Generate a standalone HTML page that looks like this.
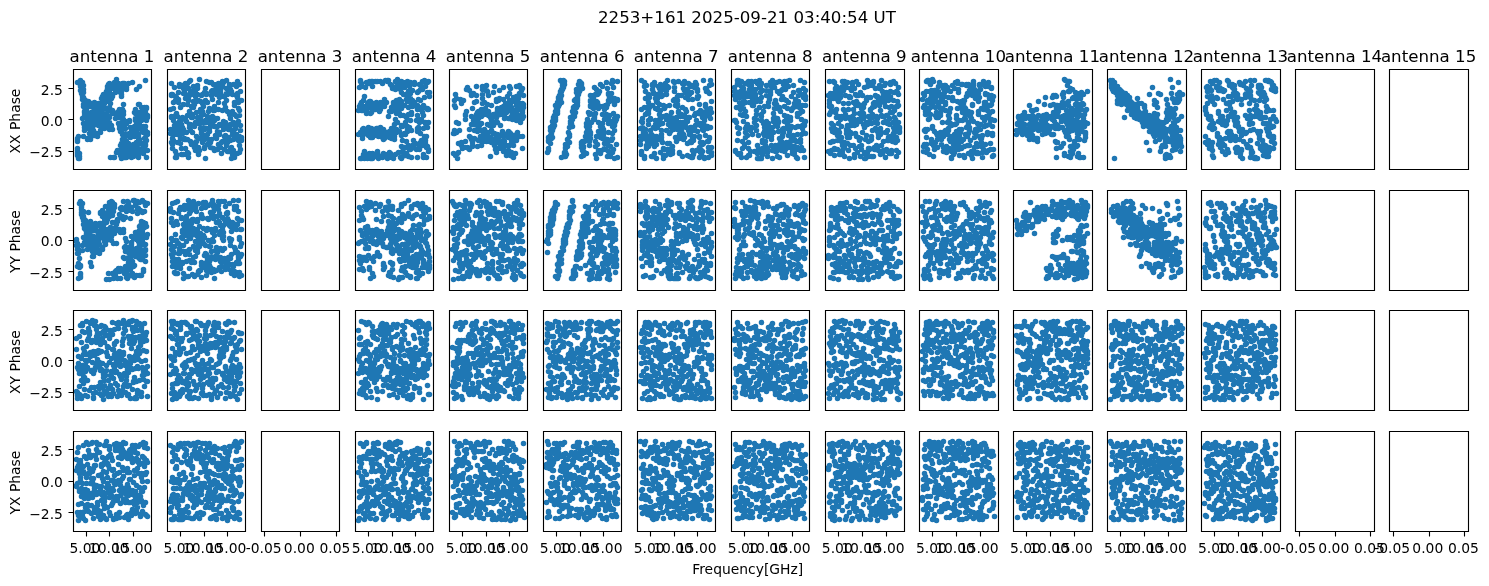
<!DOCTYPE html><html><head><meta charset="utf-8"><title>2253+161 phase</title><style>html,body{margin:0;padding:0;background:#fff}svg{display:block;will-change:transform}text{font-family:"DejaVu Sans",sans-serif;fill:#000}</style></head><body>
<svg width="1489" height="586" viewBox="0 0 1489 586">
<rect width="1489" height="586" fill="#fff"/>
<g fill="none" stroke="#1f77b4" stroke-linecap="round" stroke-width="5.555">
<path transform="translate(77.5 79.5)" d="M31 5h0M38 5h0M40 5h0M39 0h0M46 4h0M46 6h0M41 4h0M45 4h0M48 6h0M51 4h0M47 4h0M55 3h0M68 1h0M30 7h0M30 11h0M33 6h0M30 9h0M30 9h0M30 10h0M32 10h0M32 8h0M35 7h0M39 9h0M46 9h0M44 8h0M45 7h0M43 11h0M44 7h0M49 8h0M49 10h0M47 9h0M59 10h0M62 7h0M25 17h0M34 15h0M30 17h0M30 15h0M31 16h0M31 15h0M35 17h0M38 13h0M44 17h0M43 13h0M44 12h0M44 15h0M26 23h0M26 19h0M26 21h0M27 21h0M24 19h0M28 18h0M31 20h0M34 19h0M14 24h0M13 25h0M16 28h0M13 27h0M18 27h0M19 27h0M21 24h0M17 23h0M26 23h0M27 24h0M25 25h0M23 25h0M32 28h0M33 24h0M46 25h0M61 25h0M62 25h0M64 28h0M67 28h0M69 28h0M9 29h0M15 33h0M14 33h0M13 34h0M17 31h0M20 30h0M21 34h0M20 31h0M24 33h0M25 34h0M31 31h0M33 31h0M29 29h0M29 34h0M30 30h0M32 30h0M30 29h0M35 34h0M40 33h0M35 31h0M42 30h0M45 30h0M41 32h0M45 32h0M46 32h0M57 33h0M63 33h0M61 33h0M58 30h0M69 29h0M65 34h0M68 33h0M66 29h0M10 36h0M5 39h0M13 38h0M12 38h0M14 39h0M16 37h0M14 40h0M13 39h0M13 35h0M11 37h0M19 34h0M20 37h0M20 38h0M22 35h0M17 35h0M25 36h0M24 35h0M25 35h0M28 38h0M30 36h0M29 38h0M32 38h0M38 39h0M39 37h0M44 35h0M44 37h0M41 38h0M40 35h0M41 38h0M46 35h0M45 39h0M43 35h0M64 38h0M61 37h0M58 39h0M61 38h0M60 35h0M60 38h0M58 34h0M61 36h0M64 35h0M70 36h0M70 38h0M67 37h0M65 34h0M70 37h0M69 36h0M6 44h0M6 44h0M7 44h0M12 45h0M12 42h0M18 44h0M18 43h0M18 45h0M18 42h0M22 41h0M22 44h0M22 40h0M23 40h0M27 40h0M23 45h0M26 44h0M24 44h0M32 43h0M31 43h0M32 44h0M43 45h0M44 43h0M41 44h0M46 40h0M45 43h0M52 42h0M48 42h0M48 42h0M52 41h0M49 44h0M58 41h0M62 45h0M59 42h0M59 44h0M64 41h0M69 41h0M9 47h0M7 51h0M7 48h0M16 46h0M13 50h0M16 51h0M14 49h0M21 46h0M24 49h0M27 49h0M23 51h0M25 47h0M27 46h0M24 46h0M29 46h0M32 50h0M34 46h0M34 49h0M35 50h0M42 49h0M42 46h0M42 49h0M44 51h0M47 48h0M47 48h0M47 46h0M48 49h0M47 48h0M54 50h0M57 49h0M57 47h0M53 48h0M59 48h0M60 48h0M64 47h0M63 49h0M60 48h0M63 47h0M60 50h0M63 48h0M66 47h0M68 47h0M65 51h0M64 47h0M68 51h0M15 56h0M19 54h0M20 57h0M18 56h0M17 56h0M18 54h0M23 53h0M43 52h0M46 55h0M45 55h0M48 54h0M47 56h0M52 54h0M50 56h0M56 55h0M58 55h0M57 54h0M57 54h0M59 54h0M60 55h0M58 54h0M60 55h0M61 57h0M60 56h0M61 55h0M60 54h0M70 55h0M70 53h0M66 53h0M66 51h0M10 60h0M6 57h0M10 59h0M13 60h0M46 58h0M45 60h0M48 61h0M49 62h0M53 58h0M57 57h0M61 61h0M61 61h0M62 60h0M69 61h0M68 60h0M68 62h0M68 58h0M67 59h0M46 67h0M46 63h0M44 66h0M44 64h0M43 66h0M49 65h0M52 66h0M51 66h0M51 64h0M52 67h0M47 65h0M52 68h0M53 66h0M55 67h0M56 65h0M60 65h0M59 63h0M61 63h0M64 64h0M68 66h0M68 65h0M40 71h0M39 73h0M42 71h0M42 73h0M44 71h0M42 73h0M45 70h0M47 72h0M48 70h0M51 69h0M51 73h0M51 69h0M54 71h0M58 69h0M57 71h0M57 73h0M59 69h0M64 69h0M62 71h0M61 71h0M62 73h0M66 69h0M67 71h0M70 71h0M44 79h0M45 76h0M43 76h0M47 76h0M47 74h0M49 78h0M52 75h0M47 78h0M56 76h0M54 78h0M56 77h0M56 77h0M58 76h0M60 75h0M61 78h0M61 76h0M66 74h0M69 78h0M2 74h0M0 3h0M1 79h0M3 1h0M1 77h0M3 2h0M3 3h0M2 77h0M2 79h0M2 3h0M3 6h0M3 2h0M3 5h0M2 3h0M3 7h0M4 9h0M3 11h0M5 3h0M4 5h0M3 5h0M6 13h0M6 6h0M5 7h0M4 10h0M6 10h0M5 16h0M6 20h0M6 18h0M5 14h0M4 14h0M5 17h0M6 21h0M6 19h0M7 20h0M5 20h0M7 21h0M6 18h0M6 20h0M11 22h0M8 21h0M8 23h0M6 25h0M7 25h0M8 25h0M7 27h0M8 28h0M7 28h0M9 29h0M8 27h0M8 33h0M7 32h0M8 35h0M8 31h0M6 27h0M7 33h0M9 31h0M8 33h0M9 32h0M9 33h0M8 31h0M9 30h0M10 35h0M9 29h0M9 36h0M10 36h0M7 36h0M10 40h0M11 36h0M11 38h0M11 37h0M12 36h0M11 36h0M11 42h0M12 42h0M13 42h0M10 37h0M11 43h0M12 44h0M10 39h0M12 40h0M11 41h0M11 41h0M12 48h0M14 44h0M13 42h0M13 44h0M11 40h0M13 44h0M13 49h0M11 49h0M14 48h0M13 51h0M13 49h0M13 48h0M13 48h0M13 48h0M13 51h0M13 53h0M12 54h0M14 48h0M12 40h0M13 55h0M14 51h0M16 53h0M15 50h0M14 54h0M16 43h0M17 45h0M16 46h0M18 44h0M17 40h0M17 41h0M18 40h0M19 40h0M18 37h0M20 36h0M21 42h0M21 34h0M21 43h0M22 34h0M22 33h0M22 29h0M23 31h0M22 32h0M24 29h0M25 30h0M26 22h0M25 27h0M25 22h0M27 23h0M27 20h0M26 15h0M27 20h0M28 18h0M29 22h0M29 12h0M29 20h0M30 16h0M30 19h0M31 11h0M29 15h0M32 12h0M32 4h0M34 8h0M34 9h0M33 7h0M33 78h0M34 7h0M36 8h0M35 6h0M36 78h0M37 3h0M37 3h0M37 78h0M37 6h0M0 76h0M1 76h0M0 75h0M0 74h0M0 73h0M0 73h0M0 71h0M0 69h0M0 62h0M0 61h0M0 60h0M0 59h0M0 59h0M1 57h0"/>
<path transform="translate(170.5 79.5)" d="M0 30h0M0 54h0M0 50h0M1 15h0M1 37h0M1 38h0M1 4h0M1 16h0M1 63h0M2 59h0M2 15h0M2 65h0M2 69h0M3 62h0M3 61h0M3 29h0M3 41h0M3 23h0M4 8h0M4 55h0M4 46h0M4 52h0M4 48h0M5 36h0M5 72h0M5 21h0M5 17h0M5 78h0M6 77h0M6 78h0M6 75h0M6 52h0M6 34h0M6 18h0M7 37h0M7 55h0M7 44h0M7 63h0M8 49h0M8 50h0M8 13h0M8 63h0M8 23h0M8 20h0M9 42h0M9 5h0M9 7h0M9 54h0M10 64h0M10 45h0M10 28h0M10 64h0M10 59h0M10 42h0M11 75h0M11 40h0M11 69h0M11 45h0M12 38h0M12 54h0M12 50h0M12 48h0M12 6h0M13 14h0M13 25h0M13 9h0M13 75h0M13 50h0M14 59h0M14 11h0M14 13h0M14 60h0M14 8h0M15 15h0M15 19h0M15 69h0M15 4h0M15 40h0M16 60h0M16 53h0M16 75h0M16 42h0M16 6h0M17 25h0M17 36h0M17 60h0M17 4h0M17 73h0M18 9h0M18 78h0M18 20h0M18 74h0M18 21h0M19 2h0M19 16h0M19 48h0M19 32h0M19 45h0M20 62h0M20 13h0M20 1h0M20 51h0M20 45h0M21 38h0M21 63h0M21 65h0M21 27h0M21 64h0M22 53h0M22 38h0M22 35h0M22 14h0M23 7h0M23 11h0M23 13h0M23 15h0M23 22h0M23 28h0M24 68h0M24 25h0M24 12h0M24 47h0M25 64h0M25 11h0M25 21h0M25 43h0M25 71h0M25 17h0M26 57h0M26 33h0M26 62h0M26 22h0M27 38h0M27 6h0M27 15h0M27 9h0M27 71h0M28 75h0M28 41h0M28 68h0M28 71h0M28 41h0M28 21h0M28 44h0M29 71h0M29 44h0M29 59h0M29 0h0M30 22h0M30 40h0M30 49h0M30 30h0M31 34h0M31 16h0M31 36h0M31 59h0M31 53h0M31 54h0M32 15h0M32 24h0M32 56h0M32 63h0M32 32h0M33 35h0M33 27h0M33 43h0M33 48h0M34 56h0M34 50h0M34 68h0M34 69h0M34 60h0M34 13h0M35 79h0M35 41h0M35 9h0M35 21h0M36 15h0M36 49h0M36 2h0M36 43h0M36 14h0M37 65h0M37 55h0M37 23h0M37 41h0M37 37h0M37 55h0M38 60h0M38 40h0M38 50h0M38 49h0M38 32h0M39 52h0M39 29h0M39 49h0M39 3h0M40 45h0M40 63h0M40 68h0M40 42h0M40 47h0M41 12h0M41 3h0M41 44h0M41 16h0M41 60h0M42 20h0M42 37h0M42 38h0M42 11h0M42 44h0M43 46h0M43 5h0M43 14h0M43 31h0M43 69h0M44 41h0M44 47h0M44 71h0M44 27h0M44 31h0M45 56h0M45 39h0M45 58h0M45 47h0M45 10h0M46 70h0M46 5h0M46 15h0M46 12h0M46 59h0M47 54h0M47 52h0M47 47h0M47 39h0M47 70h0M47 15h0M48 23h0M48 65h0M48 4h0M48 6h0M48 30h0M49 55h0M49 18h0M49 45h0M49 53h0M50 11h0M50 9h0M50 13h0M50 68h0M50 17h0M51 8h0M51 16h0M51 74h0M51 63h0M51 46h0M52 62h0M52 31h0M52 2h0M52 62h0M52 6h0M53 47h0M53 42h0M53 50h0M53 3h0M53 17h0M54 57h0M54 24h0M54 17h0M54 70h0M54 48h0M55 43h0M55 56h0M55 62h0M55 28h0M56 66h0M56 21h0M56 9h0M56 14h0M56 59h0M56 1h0M57 63h0M57 32h0M57 47h0M57 15h0M57 72h0M58 58h0M58 50h0M58 12h0M58 72h0M58 46h0M59 35h0M59 8h0M59 48h0M59 5h0M60 45h0M60 39h0M60 70h0M60 50h0M60 61h0M60 10h0M61 68h0M61 12h0M61 79h0M61 70h0M62 75h0M62 52h0M62 15h0M62 55h0M62 32h0M63 43h0M63 45h0M63 5h0M63 60h0M63 71h0M64 44h0M64 35h0M64 26h0M64 23h0M64 54h0M64 78h0M65 58h0M65 23h0M65 49h0M65 47h0M66 45h0M66 7h0M66 55h0M66 37h0M66 16h0M67 18h0M67 59h0M67 74h0M67 2h0M67 16h0M67 14h0M68 23h0M68 61h0M68 29h0M68 42h0M69 36h0M69 57h0M69 73h0M69 5h0M69 31h0M69 66h0M70 51h0M70 46h0M70 12h0M70 70h0M71 60h0M71 58h0M71 61h0M71 21h0"/>
<path transform="translate(358.5 79.5)" d="M7 29h0M9 27h0M18 76h0M24 25h0M28 23h0M27 1h0M13 4h0M22 52h0M36 45h0M26 55h0M8 34h0M5 21h0M26 76h0M32 5h0M14 58h0M4 31h0M20 29h0M19 49h0M31 57h0M4 29h0M36 57h0M26 26h0M3 54h0M31 52h0M18 23h0M26 20h0M19 2h0M5 52h0M33 59h0M6 72h0M13 2h0M19 2h0M14 2h0M21 53h0M34 51h0M5 29h0M22 27h0M7 28h0M26 59h0M24 4h0M11 28h0M11 74h0M12 79h0M22 51h0M7 54h0M36 26h0M17 2h0M2 27h0M28 76h0M35 79h0M35 50h0M9 25h0M8 29h0M24 58h0M36 55h0M2 2h0M36 27h0M1 27h0M36 31h0M13 33h0M15 52h0M24 76h0M19 76h0M20 49h0M6 30h0M13 56h0M22 30h0M30 1h0M5 75h0M15 76h0M12 34h0M13 78h0M1 8h0M22 23h0M13 25h0M3 23h0M6 17h0M12 58h0M17 30h0M29 79h0M27 75h0M2 1h0M0 55h0M33 78h0M6 28h0M28 54h0M21 32h0M28 77h0M7 8h0M19 72h0M25 50h0M27 56h0M31 32h0M33 49h0M34 9h0M5 28h0M10 50h0M10 24h0M17 24h0M32 77h0M36 50h0M12 22h0M30 54h0M33 77h0M18 53h0M3 26h0M25 60h0M22 2h0M13 54h0M33 32h0M20 79h0M2 25h0M35 23h0M32 74h0M3 7h0M15 29h0M9 54h0M12 27h0M14 74h0M5 76h0M32 57h0M25 55h0M10 56h0M13 28h0M8 30h0M10 48h0M14 7h0M7 53h0M10 23h0M15 26h0M9 4h0M17 77h0M33 28h0M9 79h0M35 53h0M8 76h0M11 4h0M17 28h0M30 1h0M31 58h0M28 53h0M5 55h0M8 53h0M8 3h0M14 50h0M0 31h0M14 54h0M17 26h0M6 79h0M16 54h0M27 57h0M25 74h0M22 48h0M33 54h0M2 53h0M23 24h0M18 49h0M35 25h0M17 2h0M29 2h0M15 24h0M11 22h0M22 53h0M4 50h0M19 74h0M33 6h0M36 60h0M7 78h0M3 79h0M18 24h0M24 52h0M31 73h0M19 73h0M16 30h0M5 49h0M2 79h0M32 54h0M29 54h0M29 1h0M14 79h0M26 27h0M12 27h0M30 37h0M5 27h0M24 53h0M13 49h0M10 55h0M4 59h0M20 57h0M11 2h0M3 31h0M18 56h0M4 31h0M19 75h0M17 51h0M26 52h0M3 4h0M24 78h0M27 55h0M12 25h0M67 7h0M38 7h0M50 14h0M54 21h0M38 26h0M51 70h0M47 43h0M62 63h0M70 43h0M50 22h0M43 46h0M68 57h0M49 50h0M41 20h0M55 4h0M51 48h0M49 47h0M37 75h0M65 49h0M43 47h0M49 40h0M49 14h0M55 61h0M61 43h0M64 66h0M71 17h0M40 21h0M58 41h0M43 22h0M38 34h0M66 28h0M45 4h0M56 4h0M40 73h0M49 52h0M38 30h0M62 10h0M56 3h0M40 3h0M67 43h0M59 30h0M65 36h0M69 67h0M59 29h0M37 26h0M63 42h0M65 75h0M69 29h0M66 57h0M58 70h0M69 48h0M59 13h0M60 20h0M46 54h0M59 49h0M69 13h0M41 26h0M64 10h0M65 49h0M46 68h0M42 27h0M59 26h0M38 50h0M65 78h0M65 2h0M56 23h0M45 3h0M50 35h0M65 26h0M57 69h0M71 13h0M43 2h0M70 30h0M39 52h0M61 70h0M43 27h0M65 77h0M48 16h0M63 7h0M59 78h0M50 66h0M69 30h0M48 38h0M42 78h0M70 70h0M53 33h0M64 33h0M38 53h0M48 74h0M62 21h0M42 6h0M38 21h0M52 14h0M60 48h0M61 67h0M39 22h0M45 15h0M61 40h0M46 26h0M45 36h0M69 3h0M50 13h0M59 52h0M61 5h0M39 8h0M69 48h0M47 55h0M64 2h0M68 68h0M53 35h0M43 29h0M44 77h0M37 10h0M63 28h0M53 25h0M53 78h0M64 8h0M37 31h0M37 2h0M67 44h0M53 51h0M44 72h0M70 2h0M37 40h0M59 36h0M42 10h0M66 1h0M47 68h0M48 20h0M44 47h0M41 34h0M62 30h0M67 64h0M40 30h0M63 40h0M41 52h0M42 36h0M66 18h0M51 7h0M60 12h0M57 64h0M45 73h0M60 50h0M61 68h0M49 22h0M43 67h0M50 28h0M66 59h0M43 56h0M63 61h0M52 3h0M50 12h0M51 49h0M54 11h0M67 61h0M47 76h0M43 79h0M68 78h0M56 5h0M39 43h0M38 9h0M54 27h0M70 72h0M52 19h0M39 21h0M47 5h0M43 13h0M48 62h0M44 4h0M39 0h0M46 8h0M52 70h0M49 2h0M50 21h0M50 77h0M44 61h0M62 54h0M54 66h0M52 41h0M49 76h0"/>
<path transform="translate(453.5 85.5)" d="M14 2h0M13 4h0M16 5h0M23 1h0M29 4h0M29 1h0M33 5h0M33 0h0M31 1h0M41 1h0M46 5h0M50 2h0M56 1h0M57 3h0M63 1h0M66 0h0M67 2h0M68 5h0M69 3h0M2 9h0M18 10h0M18 8h0M20 8h0M23 10h0M20 9h0M34 6h0M29 9h0M35 10h0M40 7h0M56 8h0M63 11h0M66 8h0M67 8h0M65 11h0M70 10h0M1 15h0M3 13h0M10 15h0M7 14h0M9 15h0M23 16h0M29 13h0M45 15h0M43 14h0M43 16h0M46 13h0M50 14h0M54 11h0M56 15h0M60 12h0M60 15h0M62 12h0M61 16h0M64 15h0M62 13h0M65 13h0M65 11h0M1 20h0M2 22h0M8 18h0M21 17h0M31 17h0M29 18h0M34 19h0M38 20h0M52 22h0M51 22h0M48 22h0M52 18h0M50 21h0M55 20h0M54 19h0M57 18h0M55 22h0M53 19h0M58 22h0M63 20h0M64 22h0M64 22h0M65 21h0M70 22h0M69 18h0M66 18h0M70 19h0M69 20h0M13 26h0M19 23h0M25 26h0M27 28h0M24 27h0M28 24h0M29 26h0M34 26h0M32 23h0M30 26h0M35 26h0M44 23h0M44 25h0M48 26h0M52 27h0M57 25h0M53 27h0M58 26h0M56 25h0M62 25h0M61 28h0M63 27h0M61 26h0M65 24h0M67 23h0M69 25h0M69 27h0M12 30h0M12 29h0M20 33h0M22 33h0M18 31h0M22 32h0M25 29h0M25 31h0M23 29h0M25 33h0M28 31h0M34 28h0M31 29h0M36 29h0M40 29h0M37 32h0M38 30h0M36 29h0M38 34h0M35 30h0M45 29h0M43 28h0M44 30h0M43 32h0M42 30h0M47 29h0M51 33h0M51 30h0M50 29h0M55 33h0M58 31h0M56 33h0M60 28h0M61 29h0M59 30h0M64 33h0M60 30h0M66 30h0M69 33h0M65 31h0M69 31h0M70 31h0M3 37h0M5 38h0M12 34h0M21 37h0M22 38h0M18 39h0M21 35h0M19 39h0M22 39h0M20 35h0M21 39h0M28 38h0M24 35h0M25 39h0M34 39h0M38 35h0M39 39h0M44 37h0M42 37h0M43 36h0M63 35h0M59 34h0M64 34h0M67 37h0M67 36h0M6 45h0M16 44h0M24 44h0M28 45h0M26 40h0M31 44h0M37 40h0M40 40h0M36 40h0M47 40h0M1 48h0M1 45h0M3 47h0M0 48h0M21 45h0M24 46h0M34 48h0M29 50h0M32 51h0M34 47h0M32 46h0M33 47h0M38 45h0M39 47h0M41 48h0M45 50h0M41 48h0M44 49h0M49 47h0M49 48h0M49 49h0M49 46h0M56 47h0M56 48h0M57 48h0M55 46h0M54 48h0M54 50h0M63 49h0M64 47h0M64 47h0M60 50h0M61 50h0M12 56h0M16 51h0M18 54h0M20 54h0M21 53h0M17 52h0M26 55h0M27 52h0M25 55h0M27 51h0M26 54h0M33 54h0M30 53h0M30 56h0M31 51h0M32 53h0M33 56h0M34 51h0M29 54h0M34 51h0M37 55h0M39 55h0M37 52h0M35 55h0M35 55h0M36 56h0M35 53h0M44 54h0M44 54h0M43 56h0M45 52h0M43 53h0M46 56h0M41 53h0M43 52h0M50 51h0M51 56h0M50 55h0M54 51h0M58 53h0M55 52h0M58 55h0M61 52h0M60 56h0M58 52h0M63 55h0M60 56h0M62 53h0M64 51h0M61 54h0M69 51h0M66 51h0M8 60h0M8 57h0M5 58h0M19 61h0M19 60h0M19 57h0M24 61h0M28 60h0M38 57h0M41 60h0M41 58h0M46 58h0M51 59h0M50 61h0M51 60h0M47 58h0M58 59h0M58 57h0M58 58h0M56 60h0M53 60h0M60 60h0M59 59h0M60 60h0M59 59h0M5 67h0M11 62h0M9 63h0M16 64h0M14 62h0M15 63h0M42 64h0M43 67h0M45 63h0M48 63h0M52 66h0M50 66h0M50 62h0M58 67h0M55 65h0M69 63h0M4 73h0M0 68h0M4 68h0M2 70h0M37 71h0M53 70h0M57 70h0M56 68h0M60 72h0M62 68h0M59 71h0"/>
<path transform="translate(547.5 80.5)" d="M5 50h0M65 72h0M20 66h0M45 19h0M59 2h0M69 64h0M11 23h0M34 62h0M50 23h0M23 37h0M66 69h0M11 23h0M47 7h0M34 4h0M31 14h0M67 38h0M52 11h0M11 18h0M55 26h0M58 36h0M36 67h0M1 70h0M60 8h0M56 51h0M3 55h0M61 65h0M42 56h0M30 25h0M63 66h0M14 15h0M66 41h0M33 7h0M39 73h0M26 28h0M36 72h0M55 34h0M5 48h0M30 17h0M51 51h0M58 25h0M9 28h0M7 41h0M27 26h0M22 56h0M59 38h0M26 34h0M20 63h0M14 11h0M13 18h0M47 36h0M30 22h0M8 39h0M33 9h0M4 53h0M2 60h0M32 5h0M30 18h0M43 54h0M14 1h0M66 7h0M69 39h0M68 41h0M19 74h0M10 27h0M40 55h0M37 72h0M65 41h0M42 34h0M18 73h0M39 46h0M30 16h0M41 49h0M48 74h0M13 16h0M27 34h0M43 26h0M0 72h0M3 47h0M6 39h0M64 13h0M57 58h0M11 22h0M43 21h0M34 3h0M13 11h0M8 34h0M29 12h0M62 15h0M47 39h0M3 55h0M37 73h0M59 59h0M49 9h0M32 11h0M14 22h0M23 43h0M11 26h0M10 33h0M46 39h0M62 21h0M26 30h0M65 58h0M3 55h0M6 37h0M18 67h0M48 61h0M9 30h0M65 19h0M3 56h0M57 29h0M30 10h0M31 14h0M10 22h0M24 39h0M49 56h0M57 63h0M4 52h0M7 45h0M70 1h0M43 15h0M46 28h0M59 34h0M40 52h0M56 49h0M49 21h0M51 42h0M10 30h0M17 75h0M48 33h0M30 20h0M13 12h0M36 71h0M64 3h0M35 8h0M55 58h0M70 20h0M4 55h0M53 4h0M46 17h0M27 20h0M42 65h0M63 15h0M64 60h0M7 38h0M58 36h0M18 64h0M65 0h0M60 63h0M15 5h0M35 68h0M25 39h0M42 50h0M44 42h0M10 27h0M67 45h0M45 26h0M18 76h0M27 33h0M41 32h0M34 8h0M37 61h0M61 71h0M67 22h0M26 28h0M7 35h0M8 40h0M11 25h0M24 43h0M27 29h0M41 42h0M28 19h0M45 27h0M18 68h0M10 25h0M1 61h0M61 20h0M38 60h0M6 41h0M42 46h0M61 13h0M13 14h0M69 37h0M43 58h0M32 3h0M25 46h0M5 57h0M29 22h0M56 54h0M67 50h0M22 56h0M61 39h0M1 61h0M12 15h0M52 55h0M62 35h0M17 73h0M65 46h0M26 29h0M38 56h0M33 6h0M34 6h0M5 45h0M65 2h0M1 68h0M18 72h0M28 32h0M1 57h0M33 9h0M70 19h0M17 1h0M51 13h0M48 66h0M46 34h0M34 76h0M53 51h0M24 39h0M29 19h0M70 77h0M30 19h0M43 20h0M57 68h0M39 59h0M29 9h0M17 4h0M39 46h0M51 70h0M31 10h0M26 27h0M43 20h0M6 39h0M6 47h0M13 19h0M67 78h0M51 25h0M31 4h0M65 53h0M15 9h0M1 60h0M55 47h0M34 64h0M39 52h0M16 7h0M70 36h0M36 75h0M66 33h0M42 33h0M23 46h0M36 66h0M10 28h0M50 12h0M8 37h0M60 76h0M13 0h0M26 29h0M55 50h0M55 6h0M50 14h0M9 33h0M22 54h0M10 30h0M26 28h0M67 18h0M7 45h0M42 61h0M55 43h0M30 18h0M67 44h0M34 3h0M63 76h0M36 66h0M60 59h0M57 39h0M3 50h0M32 1h0M41 46h0M69 39h0M4 58h0M46 15h0M39 43h0M10 31h0M12 21h0M21 61h0M5 41h0M17 75h0M40 39h0M8 25h0M59 36h0M4 47h0M39 60h0M39 52h0M21 52h0M28 27h0M40 52h0M14 77h0M53 72h0M61 52h0M3 63h0M35 70h0M28 32h0M53 73h0M49 78h0M43 25h0M23 41h0M60 24h0M34 67h0M57 35h0M50 22h0M20 59h0M43 33h0M27 34h0M29 27h0M8 31h0M67 24h0M5 48h0M32 11h0M17 72h0M17 76h0M8 40h0M30 25h0M58 69h0M6 38h0M26 30h0M14 15h0M12 16h0M31 9h0M48 14h0M62 17h0M61 43h0M54 70h0M27 36h0M53 46h0M33 2h0M14 9h0M64 43h0M59 27h0M40 57h0M49 22h0M35 61h0M25 31h0M22 47h0M53 57h0M47 37h0M16 0h0M43 52h0M23 37h0M50 64h0M22 62h0M25 37h0M11 17h0M34 4h0M51 28h0M12 24h0M52 54h0M40 50h0M39 58h0M47 22h0M4 58h0M47 26h0M26 34h0M61 14h0"/>
<path transform="translate(640.5 80.5)" d="M0 64h0M0 60h0M0 56h0M1 0h0M1 74h0M1 71h0M3 52h0M3 48h0M2 42h0M4 6h0M4 2h0M4 76h0M5 58h0M5 53h0M5 49h0M6 65h0M7 61h0M7 56h0M8 22h0M8 18h0M8 14h0M8 33h0M8 30h0M8 26h0M10 63h0M10 59h0M10 55h0M11 63h0M11 58h0M11 54h0M13 13h0M12 9h0M13 5h0M14 66h0M14 61h0M14 56h0M15 48h0M15 44h0M15 40h0M16 64h0M17 59h0M16 56h0M17 22h0M17 18h0M17 14h0M19 42h0M19 39h0M19 34h0M20 38h0M20 36h0M20 30h0M21 60h0M21 57h0M21 54h0M22 15h0M22 9h0M22 6h0M23 78h0M23 75h0M24 69h0M25 10h0M25 6h0M25 3h0M26 14h0M26 10h0M26 6h0M28 73h0M27 69h0M27 63h0M28 44h0M28 40h0M28 36h0M30 46h0M30 41h0M30 38h0M31 44h0M31 41h0M31 37h0M32 73h0M32 70h0M32 66h0M33 49h0M33 45h0M33 41h0M34 11h0M34 7h0M34 2h0M36 46h0M36 41h0M36 37h0M37 24h0M37 20h0M37 16h0M38 31h0M38 32h0M38 1h0M39 58h0M39 54h0M39 72h0M41 34h0M41 50h0M40 48h0M42 53h0M42 47h0M42 27h0M43 54h0M43 36h0M43 59h0M44 10h0M44 57h0M44 1h0M45 12h0M46 31h0M46 9h0M47 63h0M47 63h0M47 41h0M48 3h0M48 37h0M48 50h0M49 37h0M49 4h0M49 14h0M50 61h0M51 62h0M51 12h0M52 28h0M52 19h0M52 70h0M53 5h0M53 48h0M53 60h0M54 35h0M54 49h0M54 56h0M56 4h0M55 3h0M55 2h0M57 11h0M57 51h0M57 16h0M58 16h0M58 33h0M58 43h0M59 77h0M59 56h0M59 24h0M60 69h0M60 62h0M60 45h0M62 71h0M61 34h0M62 64h0M63 0h0M62 49h0M63 36h0M64 77h0M64 45h0M64 78h0M65 8h0M65 36h0M65 24h0M67 46h0M66 11h0M67 30h0M68 61h0M68 29h0M68 71h0M69 58h0M69 13h0M69 57h0M70 47h0M70 38h0M70 31h0M71 4h0M71 21h0M71 72h0M0 48h0M1 72h0M1 41h0M1 29h0M2 38h0M2 47h0M3 54h0M3 52h0M3 58h0M4 78h0M4 27h0M5 11h0M5 18h0M5 34h0M6 5h0M6 68h0M6 66h0M7 32h0M8 66h0M8 40h0M8 44h0M9 58h0M9 27h0M9 17h0M10 50h0M10 39h0M10 38h0M11 76h0M12 4h0M12 5h0M12 25h0M13 47h0M13 12h0M13 76h0M14 2h0M14 73h0M15 18h0M15 60h0M15 28h0M16 21h0M16 78h0M17 47h0M17 29h0M17 28h0M18 6h0M18 41h0M19 8h0M19 44h0M19 24h0M20 72h0M20 11h0M20 4h0M21 50h0M21 16h0M22 62h0M22 43h0M23 68h0M23 36h0M23 25h0M24 75h0M24 28h0M25 75h0M25 26h0M26 39h0M26 50h0M26 35h0M27 6h0M27 0h0M27 7h0M28 70h0M28 7h0M29 63h0M29 25h0M29 53h0M30 51h0M30 74h0M31 32h0M31 68h0M31 41h0M32 40h0M32 38h0M33 1h0M33 40h0M33 20h0M34 44h0M34 19h0M35 25h0M35 42h0M35 57h0M36 61h0M36 38h0M37 49h0M37 26h0M37 43h0M38 15h0M38 49h0M39 73h0M39 49h0M40 36h0M40 42h0M41 49h0M41 47h0M41 15h0M42 3h0M42 76h0M42 42h0M43 56h0M43 8h0M44 3h0M44 3h0M44 35h0M45 29h0M45 17h0M45 43h0M46 39h0M46 47h0M47 9h0M47 75h0M48 13h0M48 19h0M49 62h0M49 54h0M49 76h0M50 6h0M50 52h0M50 47h0M51 77h0M51 47h0M52 58h0M52 77h0M52 49h0M53 74h0M53 50h0M54 71h0M54 7h0M55 33h0M55 45h0M55 33h0M56 8h0M56 70h0M56 40h0M57 18h0M57 9h0M58 44h0M58 32h0M59 24h0M59 67h0M59 57h0M60 43h0M60 30h0M60 72h0M61 75h0M61 70h0M62 37h0M62 62h0M63 63h0M63 50h0M63 44h0M64 40h0M64 34h0M65 55h0M65 26h0M65 31h0M66 9h0M66 9h0M67 61h0M67 48h0M67 11h0M68 77h0M68 67h0M69 34h0M69 5h0M69 31h0M70 28h0M70 0h0M71 75h0M71 67h0M71 32h0"/>
<path transform="translate(734.5 80.5)" d="M0 15h0M0 11h0M0 7h0M1 19h0M1 14h0M1 11h0M3 3h0M3 0h0M3 73h0M4 4h0M4 0h0M4 74h0M5 22h0M5 17h0M5 12h0M6 34h0M6 29h0M6 25h0M7 6h0M7 1h0M7 77h0M9 28h0M9 23h0M9 21h0M10 17h0M10 12h0M9 8h0M11 57h0M11 52h0M11 48h0M13 55h0M12 49h0M12 46h0M14 4h0M14 1h0M14 75h0M15 12h0M15 9h0M15 4h0M16 16h0M16 11h0M16 8h0M18 25h0M18 22h0M18 18h0M19 23h0M19 19h0M19 14h0M20 47h0M20 42h0M20 38h0M21 18h0M21 14h0M21 9h0M22 39h0M22 34h0M22 30h0M23 3h0M23 78h0M23 73h0M25 7h0M25 4h0M25 78h0M26 12h0M26 6h0M26 3h0M27 40h0M27 36h0M27 34h0M28 68h0M28 62h0M28 60h0M30 55h0M30 51h0M30 47h0M31 70h0M31 65h0M31 61h0M32 15h0M32 10h0M32 5h0M33 76h0M33 72h0M33 68h0M34 26h0M34 22h0M35 18h0M36 14h0M36 10h0M36 5h0M37 65h0M37 59h0M37 56h0M38 5h0M38 47h0M38 0h0M39 70h0M40 28h0M40 23h0M41 20h0M41 71h0M41 28h0M41 65h0M42 68h0M42 2h0M43 46h0M43 11h0M43 76h0M44 51h0M45 58h0M45 1h0M45 29h0M45 64h0M45 77h0M47 19h0M47 10h0M47 61h0M48 9h0M48 49h0M48 56h0M50 41h0M49 4h0M50 68h0M50 35h0M51 6h0M50 1h0M52 1h0M52 20h0M52 39h0M53 28h0M53 75h0M53 48h0M54 67h0M54 22h0M54 6h0M56 48h0M56 46h0M55 0h0M56 61h0M56 37h0M57 57h0M58 28h0M58 66h0M58 73h0M59 55h0M59 5h0M59 12h0M60 71h0M60 66h0M60 23h0M62 69h0M61 23h0M62 77h0M63 46h0M63 54h0M63 33h0M64 21h0M64 15h0M64 10h0M65 27h0M66 59h0M66 70h0M67 39h0M66 14h0M66 32h0M68 48h0M68 25h0M68 31h0M69 17h0M69 8h0M69 14h0M70 77h0M70 41h0M70 14h0M71 25h0M71 19h0M71 41h0M0 40h0M1 70h0M1 71h0M1 40h0M2 27h0M2 42h0M3 60h0M3 47h0M3 4h0M4 74h0M4 53h0M5 48h0M5 48h0M5 13h0M6 12h0M6 11h0M6 73h0M7 15h0M8 61h0M8 35h0M8 68h0M9 12h0M9 41h0M9 34h0M10 66h0M10 64h0M11 22h0M11 31h0M11 3h0M12 36h0M12 77h0M13 16h0M13 44h0M13 45h0M14 68h0M14 62h0M15 22h0M15 75h0M16 50h0M16 71h0M16 16h0M17 1h0M17 47h0M17 5h0M18 54h0M18 21h0M19 15h0M19 25h0M20 16h0M20 71h0M20 11h0M21 17h0M21 1h0M22 45h0M22 21h0M22 50h0M23 72h0M23 19h0M23 65h0M24 68h0M24 55h0M25 27h0M25 0h0M26 21h0M26 71h0M26 3h0M27 17h0M27 78h0M27 3h0M28 74h0M28 10h0M29 31h0M29 53h0M29 43h0M30 71h0M30 26h0M31 46h0M31 67h0M32 67h0M32 41h0M33 50h0M33 44h0M33 56h0M34 55h0M34 47h0M34 43h0M35 19h0M35 48h0M36 48h0M36 12h0M36 2h0M37 51h0M37 4h0M38 78h0M38 70h0M39 38h0M39 41h0M39 33h0M39 52h0M40 37h0M40 7h0M41 22h0M41 43h0M42 24h0M42 40h0M42 71h0M43 44h0M43 38h0M44 41h0M44 42h0M45 13h0M45 68h0M45 27h0M46 60h0M46 68h0M46 31h0M47 70h0M47 10h0M48 16h0M48 55h0M48 64h0M49 52h0M49 48h0M50 26h0M50 19h0M50 71h0M51 9h0M51 69h0M52 65h0M52 2h0M52 62h0M53 44h0M53 36h0M54 55h0M54 46h0M54 63h0M55 37h0M55 51h0M56 66h0M56 40h0M57 46h0M57 30h0M57 16h0M58 71h0M58 56h0M59 60h0M59 67h0M59 27h0M60 71h0M60 74h0M60 59h0M61 47h0M61 19h0M62 26h0M62 61h0M63 36h0M63 67h0M63 78h0M64 23h0M64 46h0M65 10h0M65 10h0M65 33h0M66 27h0M66 0h0M66 62h0M67 54h0M67 67h0M68 45h0M68 48h0M69 14h0M69 70h0M69 52h0M70 2h0M70 45h0M71 16h0M71 53h0M71 10h0"/>
<path transform="translate(828.5 80.5)" d="M0 15h0M0 71h0M1 26h0M1 1h0M1 20h0M1 34h0M1 23h0M2 62h0M2 15h0M2 32h0M2 13h0M2 73h0M3 30h0M3 70h0M3 26h0M3 43h0M3 48h0M4 16h0M4 61h0M4 51h0M4 31h0M5 48h0M5 61h0M5 1h0M5 45h0M5 18h0M5 13h0M6 68h0M6 69h0M6 75h0M6 52h0M6 2h0M7 9h0M7 8h0M7 32h0M7 15h0M7 49h0M8 6h0M8 37h0M8 11h0M8 29h0M9 60h0M9 7h0M9 19h0M9 69h0M9 18h0M9 55h0M10 43h0M10 50h0M10 21h0M10 10h0M10 36h0M11 74h0M11 52h0M11 57h0M11 18h0M11 15h0M12 17h0M12 13h0M12 39h0M12 74h0M12 72h0M13 36h0M13 46h0M13 57h0M13 61h0M14 6h0M14 70h0M14 8h0M14 73h0M14 65h0M14 1h0M15 68h0M15 23h0M15 29h0M15 10h0M16 76h0M16 62h0M16 30h0M16 67h0M16 1h0M17 5h0M17 3h0M17 38h0M17 15h0M17 34h0M18 49h0M18 7h0M18 53h0M18 50h0M18 2h0M19 45h0M19 46h0M19 63h0M19 2h0M19 57h0M20 23h0M20 50h0M20 70h0M20 54h0M20 29h0M21 78h0M21 37h0M21 57h0M21 16h0M21 17h0M21 45h0M22 17h0M22 52h0M22 39h0M22 65h0M22 8h0M23 45h0M23 53h0M23 10h0M23 42h0M24 36h0M24 4h0M24 40h0M24 2h0M25 65h0M25 29h0M25 38h0M25 22h0M25 39h0M25 65h0M25 40h0M26 33h0M26 74h0M26 8h0M26 45h0M26 77h0M27 14h0M27 68h0M27 24h0M27 53h0M28 1h0M28 44h0M28 56h0M28 15h0M28 21h0M29 23h0M29 41h0M29 25h0M29 72h0M29 15h0M30 15h0M30 57h0M30 39h0M30 24h0M30 4h0M31 60h0M31 41h0M31 66h0M31 33h0M31 33h0M32 40h0M32 66h0M32 76h0M32 58h0M32 12h0M33 25h0M33 65h0M33 69h0M33 28h0M33 37h0M34 25h0M34 52h0M34 32h0M34 15h0M34 36h0M35 38h0M35 33h0M35 27h0M35 44h0M36 7h0M36 78h0M36 23h0M36 36h0M36 47h0M36 73h0M37 45h0M37 78h0M37 59h0M37 72h0M38 19h0M38 42h0M38 75h0M38 55h0M38 20h0M39 6h0M39 44h0M39 17h0M39 72h0M39 72h0M39 0h0M40 61h0M40 68h0M40 76h0M40 3h0M40 36h0M41 41h0M41 5h0M41 68h0M41 41h0M41 69h0M42 17h0M42 30h0M42 60h0M42 29h0M43 2h0M43 35h0M43 76h0M43 43h0M43 56h0M44 27h0M43 59h0M44 5h0M44 37h0M44 34h0M44 50h0M45 76h0M45 1h0M45 23h0M45 2h0M46 69h0M46 42h0M46 26h0M46 26h0M46 67h0M46 22h0M47 22h0M47 69h0M47 48h0M47 8h0M47 15h0M48 16h0M48 41h0M48 65h0M48 36h0M49 51h0M49 67h0M49 23h0M49 43h0M49 38h0M49 16h0M50 70h0M50 57h0M50 54h0M50 18h0M50 70h0M51 8h0M51 49h0M51 5h0M52 30h0M51 25h0M52 48h0M52 74h0M52 8h0M52 22h0M52 54h0M53 52h0M53 0h0M53 35h0M53 52h0M53 65h0M54 11h0M54 36h0M54 73h0M54 17h0M55 14h0M55 17h0M55 70h0M55 61h0M55 42h0M56 18h0M56 13h0M56 36h0M56 5h0M56 22h0M57 52h0M57 26h0M57 77h0M57 41h0M57 3h0M58 13h0M58 52h0M58 69h0M58 12h0M58 35h0M59 35h0M59 50h0M59 43h0M59 60h0M59 71h0M60 20h0M60 16h0M60 57h0M60 60h0M61 43h0M61 27h0M61 17h0M61 73h0M61 44h0M61 38h0M62 32h0M62 56h0M62 16h0M62 4h0M62 11h0M62 2h0M63 26h0M63 70h0M63 71h0M63 73h0M64 55h0M64 32h0M64 60h0M64 61h0M65 53h0M65 47h0M65 42h0M65 1h0M65 20h0M66 30h0M66 37h0M66 52h0M66 50h0M66 12h0M67 3h0M67 39h0M67 62h0M67 59h0M67 49h0M67 46h0M68 70h0M68 76h0M68 26h0M68 11h0M68 57h0M69 21h0M69 12h0M69 42h0M69 26h0M69 60h0M70 72h0M70 42h0M70 7h0M70 14h0M70 25h0M71 52h0M71 47h0M71 51h0M71 34h0M71 48h0"/>
<path transform="translate(922.5 79.5)" d="M0 20h0M1 67h0M1 72h0M1 14h0M1 28h0M1 28h0M2 51h0M2 26h0M2 16h0M2 65h0M2 65h0M3 32h0M3 28h0M3 29h0M3 50h0M3 52h0M3 35h0M4 65h0M4 12h0M4 73h0M4 58h0M4 2h0M5 70h0M5 1h0M5 21h0M5 23h0M5 50h0M6 40h0M6 31h0M6 1h0M6 30h0M7 39h0M7 3h0M7 39h0M7 75h0M7 23h0M7 12h0M8 28h0M8 35h0M8 5h0M8 19h0M9 64h0M9 63h0M9 60h0M9 11h0M9 16h0M10 49h0M10 13h0M10 25h0M10 19h0M10 47h0M10 0h0M11 14h0M11 2h0M11 77h0M11 66h0M12 22h0M12 52h0M12 67h0M12 70h0M12 11h0M13 11h0M13 18h0M13 63h0M13 28h0M13 36h0M14 54h0M14 22h0M14 33h0M14 37h0M14 11h0M14 38h0M15 60h0M15 56h0M15 68h0M16 38h0M16 7h0M16 15h0M16 13h0M16 15h0M16 26h0M16 12h0M17 28h0M17 33h0M17 3h0M17 57h0M18 34h0M18 53h0M18 17h0M18 36h0M18 15h0M19 6h0M19 22h0M19 60h0M19 21h0M19 65h0M20 21h0M20 43h0M20 53h0M20 29h0M20 17h0M20 30h0M21 68h0M21 9h0M21 57h0M21 72h0M22 71h0M22 13h0M22 68h0M22 6h0M22 17h0M23 31h0M23 51h0M23 23h0M23 6h0M23 25h0M24 72h0M24 73h0M24 70h0M24 67h0M24 71h0M25 55h0M25 53h0M25 8h0M25 43h0M26 11h0M26 18h0M26 36h0M26 49h0M26 51h0M26 42h0M27 44h0M27 69h0M27 33h0M27 60h0M27 39h0M28 62h0M28 57h0M28 12h0M28 29h0M28 44h0M29 72h0M29 79h0M29 46h0M29 78h0M29 61h0M30 18h0M30 18h0M30 21h0M30 6h0M30 20h0M31 59h0M31 75h0M31 60h0M31 65h0M31 21h0M32 69h0M32 55h0M32 45h0M32 73h0M32 9h0M33 62h0M33 3h0M33 57h0M33 45h0M34 39h0M34 61h0M34 52h0M34 36h0M34 44h0M35 66h0M35 22h0M35 29h0M35 60h0M35 2h0M35 4h0M36 10h0M36 13h0M36 56h0M36 64h0M36 70h0M37 57h0M37 50h0M37 76h0M37 23h0M37 41h0M38 23h0M38 28h0M38 61h0M38 53h0M39 5h0M39 50h0M39 62h0M39 22h0M39 69h0M39 68h0M40 31h0M40 33h0M40 41h0M40 5h0M41 21h0M41 24h0M41 60h0M41 32h0M41 76h0M42 28h0M42 39h0M42 67h0M42 21h0M42 78h0M43 36h0M43 40h0M43 29h0M43 55h0M43 31h0M44 6h0M44 5h0M44 17h0M44 48h0M44 33h0M45 47h0M45 16h0M45 14h0M45 57h0M45 66h0M46 43h0M46 54h0M46 5h0M46 74h0M46 44h0M46 32h0M47 11h0M47 66h0M47 51h0M47 48h0M48 37h0M48 15h0M48 8h0M48 61h0M49 72h0M49 11h0M49 76h0M49 9h0M49 39h0M49 33h0M50 26h0M50 16h0M50 25h0M50 26h0M50 79h0M51 15h0M51 2h0M51 6h0M51 42h0M51 4h0M52 53h0M52 58h0M52 68h0M52 10h0M52 58h0M53 19h0M53 73h0M53 50h0M53 17h0M54 15h0M53 11h0M54 74h0M54 56h0M54 64h0M54 12h0M55 51h0M55 49h0M55 67h0M55 44h0M55 73h0M56 32h0M56 74h0M56 35h0M56 22h0M56 14h0M57 57h0M57 45h0M57 5h0M57 18h0M57 6h0M58 50h0M58 6h0M58 10h0M58 45h0M58 59h0M59 57h0M59 67h0M59 29h0M59 63h0M59 59h0M60 38h0M60 65h0M60 78h0M60 73h0M60 56h0M61 2h0M61 30h0M61 3h0M61 70h0M62 30h0M62 46h0M62 25h0M62 47h0M62 41h0M62 23h0M63 65h0M63 15h0M63 23h0M63 7h0M63 14h0M64 73h0M64 25h0M64 37h0M64 46h0M64 38h0M65 55h0M65 31h0M65 15h0M65 53h0M65 27h0M66 38h0M66 71h0M66 38h0M66 3h0M66 7h0M67 26h0M67 19h0M67 34h0M67 45h0M67 54h0M68 18h0M68 41h0M68 64h0M68 26h0M68 70h0M69 16h0M69 40h0M69 8h0M69 9h0M69 25h0M70 21h0M70 47h0M70 77h0M70 56h0M70 32h0M70 54h0M71 76h0M71 70h0M71 17h0M72 41h0"/>
<path transform="translate(1016.5 79.5)" d="M51 6h0M48 0h0M52 2h0M49 1h0M53 2h0M54 9h0M56 10h0M39 16h0M40 17h0M37 16h0M47 13h0M47 14h0M46 15h0M52 12h0M53 12h0M59 13h0M65 13h0M61 16h0M62 17h0M61 14h0M71 12h0M67 15h0M22 22h0M29 18h0M36 18h0M47 18h0M47 18h0M52 22h0M60 20h0M57 18h0M56 19h0M63 19h0M64 19h0M13 26h0M28 25h0M34 26h0M37 25h0M40 26h0M41 26h0M47 27h0M46 23h0M46 27h0M46 28h0M44 26h0M47 23h0M50 25h0M52 26h0M59 25h0M64 26h0M66 24h0M64 28h0M62 25h0M65 25h0M63 26h0M67 25h0M8 33h0M17 31h0M15 31h0M20 30h0M40 29h0M41 33h0M40 31h0M39 34h0M37 33h0M42 29h0M42 32h0M52 33h0M50 31h0M57 34h0M58 33h0M55 29h0M59 30h0M61 29h0M61 31h0M65 30h0M65 30h0M64 29h0M62 34h0M69 31h0M69 31h0M70 30h0M70 30h0M2 38h0M5 39h0M5 40h0M5 39h0M2 37h0M6 36h0M6 40h0M8 35h0M6 39h0M12 37h0M9 39h0M10 38h0M17 37h0M15 37h0M16 37h0M16 36h0M19 39h0M22 36h0M22 36h0M20 39h0M26 40h0M26 39h0M27 37h0M28 36h0M27 36h0M31 39h0M36 38h0M30 35h0M31 38h0M34 37h0M35 37h0M37 39h0M39 37h0M42 37h0M47 39h0M47 38h0M45 39h0M46 40h0M42 37h0M46 37h0M52 36h0M48 36h0M52 36h0M50 36h0M50 35h0M50 40h0M55 35h0M59 35h0M54 34h0M55 39h0M57 35h0M65 36h0M63 35h0M62 36h0M61 38h0M60 36h0M68 35h0M66 36h0M67 39h0M1 44h0M4 45h0M2 45h0M3 41h0M1 45h0M4 45h0M18 41h0M15 43h0M16 40h0M14 40h0M13 45h0M19 40h0M24 45h0M19 41h0M21 45h0M20 44h0M29 43h0M27 40h0M26 44h0M25 41h0M28 42h0M29 41h0M38 42h0M40 45h0M36 40h0M45 40h0M45 42h0M51 45h0M51 45h0M50 43h0M53 41h0M53 42h0M53 45h0M50 40h0M52 42h0M57 45h0M57 44h0M58 44h0M54 43h0M59 41h0M55 42h0M55 44h0M61 43h0M60 41h0M60 45h0M63 44h0M64 43h0M69 43h0M67 42h0M71 44h0M0 51h0M4 46h0M5 50h0M5 45h0M5 46h0M4 48h0M10 50h0M12 49h0M7 50h0M8 45h0M10 50h0M7 47h0M7 51h0M15 51h0M17 50h0M14 50h0M14 49h0M18 46h0M13 49h0M15 48h0M17 50h0M15 49h0M14 51h0M23 46h0M21 47h0M19 48h0M29 47h0M26 50h0M25 49h0M27 50h0M30 47h0M33 50h0M31 46h0M34 48h0M35 47h0M42 49h0M40 48h0M38 48h0M42 47h0M39 49h0M41 46h0M39 46h0M48 51h0M46 48h0M53 48h0M52 48h0M53 47h0M52 46h0M58 46h0M58 47h0M57 50h0M63 47h0M60 49h0M64 49h0M65 50h0M68 47h0M68 46h0M68 47h0M1 53h0M5 53h0M0 55h0M7 53h0M9 53h0M6 55h0M8 54h0M11 56h0M12 52h0M16 56h0M15 55h0M22 51h0M29 52h0M26 55h0M29 54h0M29 51h0M35 55h0M32 53h0M37 55h0M49 53h0M53 52h0M52 57h0M56 51h0M62 55h0M63 51h0M61 54h0M61 53h0M66 52h0M69 55h0M69 54h0M69 53h0M17 60h0M13 60h0M13 58h0M19 60h0M21 59h0M21 62h0M20 59h0M53 60h0M50 57h0M58 62h0M61 58h0M63 60h0M62 60h0M69 58h0M68 61h0M39 62h0M40 63h0M41 63h0M45 67h0M45 67h0M47 64h0M44 68h0M58 65h0M54 67h0M57 66h0M60 67h0M61 66h0M40 69h0M57 70h0M54 72h0M40 78h0M48 76h0M48 74h0M52 77h0M55 75h0M54 78h0M54 77h0M56 74h0M62 74h0M61 77h0M63 78h0M64 78h0M67 78h0"/>
<path transform="translate(1110.5 79.5)" d="M2 6h0M60 0h0M68 3h0M5 10h0M42 8h0M62 8h0M8 15h0M8 17h0M15 14h0M15 14h0M17 16h0M39 15h0M48 14h0M50 15h0M61 14h0M69 17h0M72 15h0M67 15h0M69 13h0M20 22h0M19 18h0M27 19h0M44 21h0M56 20h0M65 21h0M62 19h0M63 20h0M67 23h0M67 19h0M68 20h0M69 20h0M68 22h0M21 25h0M23 27h0M27 28h0M28 24h0M34 28h0M34 26h0M31 24h0M47 28h0M44 25h0M46 23h0M57 25h0M64 23h0M25 29h0M35 32h0M34 33h0M59 33h0M56 33h0M57 30h0M61 34h0M63 32h0M60 29h0M62 33h0M65 29h0M28 35h0M30 40h0M25 38h0M29 36h0M34 37h0M35 35h0M39 39h0M39 36h0M36 37h0M37 40h0M40 37h0M46 38h0M47 35h0M44 36h0M46 38h0M44 34h0M44 35h0M44 35h0M57 37h0M61 37h0M60 37h0M61 35h0M63 38h0M62 37h0M61 34h0M64 35h0M63 37h0M61 37h0M61 35h0M68 40h0M71 37h0M38 40h0M38 41h0M42 43h0M42 44h0M40 44h0M37 45h0M46 43h0M47 41h0M48 42h0M44 40h0M43 45h0M46 41h0M48 45h0M51 43h0M52 45h0M50 43h0M56 42h0M56 40h0M58 40h0M54 43h0M63 43h0M64 44h0M65 41h0M67 41h0M40 48h0M40 49h0M42 48h0M40 50h0M45 48h0M46 51h0M47 46h0M48 50h0M44 46h0M44 48h0M43 46h0M53 49h0M51 49h0M48 49h0M53 48h0M51 46h0M52 49h0M50 48h0M58 50h0M54 49h0M60 50h0M59 50h0M61 47h0M61 51h0M64 47h0M62 47h0M70 51h0M66 48h0M40 51h0M43 55h0M48 54h0M43 54h0M47 55h0M47 53h0M45 56h0M47 55h0M51 55h0M53 52h0M51 56h0M49 54h0M54 55h0M56 52h0M55 54h0M61 53h0M63 54h0M61 53h0M62 56h0M66 56h0M62 56h0M62 52h0M62 52h0M63 54h0M66 53h0M66 52h0M44 57h0M45 62h0M50 57h0M49 60h0M51 57h0M54 58h0M55 62h0M58 61h0M56 58h0M57 59h0M62 59h0M66 59h0M63 60h0M70 61h0M68 60h0M68 60h0M70 59h0M66 57h0M67 60h0M69 57h0M36 63h0M52 66h0M51 68h0M59 62h0M55 67h0M55 63h0M62 63h0M63 66h0M65 63h0M71 67h0M70 64h0M70 64h0M67 67h0M39 71h0M50 72h0M65 70h0M62 71h0M70 72h0M56 75h0M55 79h0M59 76h0M55 77h0M55 76h0M57 78h0M60 78h0M0 1h0M0 1h0M1 5h0M1 8h0M2 1h0M1 6h0M2 10h0M3 4h0M2 3h0M3 4h0M4 11h0M3 12h0M4 10h0M4 3h0M5 13h0M4 6h0M5 8h0M5 11h0M5 9h0M7 7h0M7 8h0M7 16h0M7 16h0M7 24h0M7 21h0M8 18h0M8 13h0M9 13h0M9 10h0M9 24h0M10 11h0M11 14h0M10 20h0M11 12h0M10 20h0M12 13h0M11 25h0M11 24h0M11 14h0M12 17h0M13 21h0M14 20h0M12 17h0M14 16h0M14 19h0M14 38h0M15 24h0M16 24h0M15 22h0M16 23h0M16 24h0M16 25h0M16 21h0M17 31h0M17 22h0M18 25h0M18 21h0M18 29h0M19 23h0M19 22h0M18 28h0M19 28h0M18 27h0M20 29h0M20 22h0M21 30h0M20 24h0M21 23h0M22 24h0M21 35h0M22 27h0M22 32h0M23 26h0M22 30h0M24 38h0M23 25h0M24 31h0M24 29h0M24 28h0M24 30h0M26 26h0M25 32h0M26 36h0M25 32h0M25 25h0M26 32h0M26 39h0M27 33h0M27 30h0M28 37h0M28 32h0M29 34h0M28 33h0M29 37h0M29 40h0M29 35h0M30 35h0M31 39h0M30 35h0M30 38h0M32 39h0M31 41h0M31 34h0M32 43h0M33 38h0M32 37h0M33 39h0M33 47h0M33 46h0M33 36h0M34 40h0M35 35h0M35 45h0M35 46h0M36 38h0M35 43h0M36 41h0M36 42h0M37 46h0M38 44h0M38 47h0M38 41h0M38 39h0M39 52h0M38 43h0M39 42h0M39 38h0M40 44h0M40 42h0M39 41h0M40 48h0M40 45h0M41 45h0M41 47h0M42 44h0M42 46h0M43 41h0M42 53h0M43 43h0M43 47h0M4 79h0"/>
<path transform="translate(1205.5 80.5)" d="M21 23h0M55 9h0M16 59h0M61 0h0M35 76h0M47 43h0M41 13h0M9 0h0M70 8h0M49 29h0M52 63h0M14 58h0M23 51h0M45 35h0M63 49h0M34 2h0M21 30h0M23 1h0M9 24h0M60 0h0M49 78h0M43 13h0M37 50h0M17 36h0M57 12h0M21 23h0M24 24h0M66 57h0M12 56h0M26 36h0M30 42h0M63 76h0M28 15h0M35 73h0M50 77h0M59 14h0M7 62h0M5 36h0M44 9h0M66 57h0M17 9h0M45 60h0M11 6h0M34 59h0M28 13h0M19 10h0M61 76h0M6 66h0M55 32h0M2 64h0M11 0h0M41 8h0M7 20h0M3 38h0M57 69h0M42 15h0M18 40h0M20 42h0M12 55h0M68 5h0M46 19h0M53 12h0M6 45h0M52 30h0M20 74h0M28 57h0M2 23h0M58 64h0M44 23h0M49 20h0M29 38h0M61 31h0M2 6h0M46 70h0M45 11h0M58 12h0M25 56h0M57 60h0M60 17h0M37 78h0M63 0h0M63 55h0M0 30h0M67 5h0M43 67h0M32 16h0M29 5h0M59 74h0M64 55h0M25 51h0M45 50h0M42 38h0M40 53h0M63 72h0M41 64h0M30 60h0M24 56h0M59 37h0M62 51h0M12 55h0M24 22h0M12 18h0M54 5h0M6 40h0M55 68h0M45 67h0M54 20h0M13 41h0M29 40h0M55 8h0M7 49h0M13 33h0M55 51h0M57 68h0M52 36h0M68 30h0M28 8h0M18 44h0M31 18h0M71 41h0M23 72h0M54 58h0M40 14h0M3 8h0M6 19h0M18 19h0M7 70h0M3 37h0M34 51h0M45 15h0M61 26h0M53 33h0M8 77h0M52 78h0M4 7h0M14 61h0M63 49h0M68 68h0M32 37h0M36 19h0M62 28h0M54 7h0M58 43h0M5 45h0M35 4h0M13 64h0M59 72h0M4 68h0M66 61h0M44 30h0M53 53h0M40 17h0M32 67h0M46 73h0M35 3h0M62 68h0M27 7h0M5 67h0M59 74h0M52 51h0M37 49h0M25 60h0M9 48h0M16 66h0M44 44h0M64 43h0M67 59h0M14 57h0M14 7h0M61 48h0M61 19h0M58 75h0M17 71h0M60 37h0M13 33h0M31 72h0M64 70h0M11 17h0M4 8h0M6 68h0M45 17h0M26 54h0M42 67h0M61 72h0M45 38h0M68 58h0M1 33h0M14 2h0M31 41h0M15 67h0M68 46h0M33 47h0M32 14h0M49 36h0M29 32h0M5 9h0M68 36h0M64 30h0M55 5h0M28 14h0M61 66h0M69 63h0M26 33h0M41 52h0M14 9h0M20 58h0M48 49h0M26 35h0M0 62h0M54 13h0M66 9h0M50 78h0M5 38h0M59 21h0M23 36h0M31 68h0M12 6h0M54 35h0M22 52h0M15 37h0M22 69h0M18 11h0M49 0h0M69 8h0M56 16h0M19 42h0M64 53h0M66 2h0M61 74h0M6 15h0M27 4h0M5 1h0M12 53h0M36 24h0M13 33h0M28 32h0M55 66h0M17 63h0M14 7h0M45 17h0M9 48h0M63 1h0M28 34h0M55 33h0M25 28h0M30 45h0M33 18h0M13 10h0M23 16h0M55 38h0M29 36h0M51 25h0M31 13h0M18 44h0M7 75h0M14 64h0M19 65h0M0 56h0M67 57h0M46 72h0M64 67h0M36 70h0M3 60h0M60 65h0M54 37h0M31 67h0M1 34h0M6 10h0M5 19h0M63 46h0M38 5h0M20 45h0M33 46h0M65 1h0M21 44h0M0 27h0M38 61h0M16 10h0M7 21h0M51 33h0M56 7h0M24 5h0M53 7h0M7 3h0M38 52h0M42 65h0M15 10h0M65 39h0M26 16h0M12 53h0M15 42h0M59 72h0M47 72h0M32 19h0M45 0h0M46 5h0M67 46h0M61 73h0M33 69h0M57 70h0M4 47h0M53 5h0M61 43h0M66 47h0M61 74h0M64 56h0M17 44h0M27 21h0M32 42h0M65 1h0M68 10h0M36 69h0M27 6h0M60 71h0M54 35h0M30 56h0M7 17h0M36 55h0M22 40h0M2 11h0M13 31h0M40 35h0M70 11h0M44 43h0M14 59h0M54 55h0M45 77h0M1 7h0M29 9h0M68 56h0M56 38h0M30 68h0M70 39h0M11 7h0M2 16h0M15 8h0M22 0h0M40 1h0M8 43h0M4 39h0"/>
<path transform="translate(76.5 200.5)" d="M36 2h0M36 4h0M38 4h0M47 1h0M52 4h0M52 2h0M51 1h0M58 0h0M57 0h0M59 4h0M59 5h0M63 2h0M61 1h0M60 3h0M71 3h0M69 5h0M66 0h0M68 2h0M26 10h0M29 6h0M32 8h0M46 9h0M44 8h0M45 7h0M45 9h0M50 8h0M50 9h0M50 6h0M55 7h0M56 11h0M56 11h0M54 10h0M64 10h0M61 8h0M61 9h0M62 8h0M62 8h0M68 11h0M12 12h0M26 16h0M24 13h0M29 14h0M27 15h0M24 12h0M30 16h0M33 16h0M35 13h0M35 13h0M30 16h0M32 15h0M36 15h0M37 11h0M46 16h0M43 14h0M50 11h0M49 17h0M61 13h0M66 12h0M14 21h0M29 19h0M31 19h0M31 18h0M41 19h0M41 21h0M41 21h0M38 22h0M38 22h0M36 22h0M46 18h0M47 19h0M44 17h0M54 18h0M65 21h0M67 22h0M11 24h0M12 26h0M14 23h0M16 26h0M19 23h0M22 24h0M23 25h0M23 23h0M20 24h0M23 24h0M19 28h0M27 25h0M24 23h0M34 27h0M39 28h0M40 24h0M65 24h0M64 25h0M64 27h0M64 26h0M63 26h0M63 26h0M69 23h0M68 27h0M70 26h0M10 29h0M11 30h0M12 31h0M13 31h0M16 30h0M13 31h0M16 28h0M15 29h0M20 30h0M18 30h0M20 30h0M21 31h0M25 30h0M34 31h0M35 33h0M31 29h0M31 33h0M33 34h0M34 31h0M34 34h0M35 28h0M34 30h0M33 30h0M32 29h0M34 34h0M35 29h0M38 30h0M37 31h0M40 30h0M36 30h0M38 33h0M37 28h0M39 30h0M47 32h0M43 29h0M44 32h0M47 29h0M64 30h0M60 34h0M60 32h0M64 31h0M61 34h0M63 30h0M59 32h0M66 33h0M71 34h0M66 30h0M7 37h0M7 37h0M12 35h0M14 35h0M13 36h0M12 39h0M12 34h0M12 37h0M17 37h0M17 36h0M15 36h0M14 36h0M23 38h0M22 34h0M22 35h0M25 37h0M29 36h0M27 35h0M27 35h0M29 37h0M33 34h0M35 36h0M30 36h0M34 38h0M31 35h0M49 38h0M57 38h0M55 36h0M57 37h0M58 36h0M60 39h0M62 38h0M68 36h0M66 36h0M69 36h0M66 39h0M65 35h0M70 37h0M11 43h0M8 42h0M10 42h0M11 45h0M10 41h0M17 43h0M14 42h0M12 43h0M18 40h0M20 41h0M18 43h0M20 43h0M22 44h0M20 42h0M29 44h0M28 41h0M30 40h0M35 40h0M40 43h0M37 43h0M50 41h0M55 44h0M55 44h0M55 42h0M55 43h0M63 44h0M65 40h0M62 41h0M62 41h0M69 44h0M66 42h0M67 44h0M67 43h0M6 50h0M6 45h0M11 49h0M15 49h0M13 46h0M14 47h0M12 48h0M16 50h0M20 45h0M25 49h0M26 47h0M26 49h0M50 47h0M49 46h0M50 48h0M51 49h0M52 50h0M51 47h0M52 47h0M48 47h0M54 46h0M59 50h0M54 47h0M54 49h0M54 51h0M58 50h0M55 47h0M63 47h0M62 47h0M60 49h0M60 48h0M61 49h0M64 45h0M66 50h0M69 50h0M69 49h0M23 53h0M49 51h0M52 52h0M55 54h0M56 55h0M62 55h0M63 51h0M59 53h0M63 54h0M67 54h0M69 55h0M69 55h0M48 58h0M52 57h0M47 57h0M53 61h0M54 61h0M54 58h0M56 61h0M64 59h0M62 57h0M64 57h0M59 56h0M63 58h0M69 61h0M66 59h0M15 66h0M14 62h0M49 66h0M52 62h0M52 64h0M56 62h0M58 65h0M57 66h0M57 65h0M36 73h0M39 71h0M40 70h0M47 71h0M45 70h0M44 68h0M42 70h0M42 70h0M42 68h0M43 71h0M50 72h0M53 68h0M49 69h0M50 70h0M50 69h0M48 73h0M50 72h0M56 73h0M54 69h0M67 69h0M67 71h0M30 79h0M32 73h0M39 74h0M39 75h0M41 78h0M44 78h0M50 77h0M52 76h0M51 78h0M50 77h0M50 73h0M54 74h0M58 77h0M57 76h0M63 75h0M65 75h0M60 75h0M64 75h0M0 39h0M0 41h0M1 43h0M1 43h0M1 43h0M2 45h0M1 45h0M0 45h0M1 49h0M2 50h0M2 53h0M3 50h0M1 53h0M2 53h0M3 58h0M3 58h0M2 63h0M1 66h0M4 65h0M4 66h0M4 65h0M3 67h0M4 73h0M3 67h0M4 74h0M4 77h0M2 78h0M4 1h0M4 76h0M3 3h0M5 7h0M6 3h0M5 6h0M7 11h0M5 12h0M5 9h0M5 14h0M6 11h0M7 19h0M7 16h0M7 12h0M6 14h0M8 19h0M6 17h0M7 20h0M9 22h0M8 20h0M9 23h0M9 20h0M9 25h0M7 24h0M9 24h0M8 26h0M9 28h0M8 28h0M8 25h0M9 28h0M8 27h0M9 26h0M9 29h0M12 29h0M11 29h0M10 31h0M11 33h0M12 35h0M11 37h0M10 33h0M12 32h0M11 42h0M12 32h0M11 37h0M10 35h0M11 37h0M12 33h0M14 35h0M13 37h0M13 40h0M14 42h0M15 41h0M15 43h0M14 42h0M14 41h0M13 46h0M13 45h0M14 45h0M13 44h0M14 42h0M15 46h0M17 46h0M15 43h0M15 49h0M17 50h0M17 45h0M16 47h0M15 45h0M16 51h0M16 49h0M17 44h0M16 49h0M19 52h0M16 56h0M17 56h0M18 46h0M18 51h0M17 54h0M18 47h0M18 41h0M19 47h0M19 43h0M20 49h0M20 44h0M21 45h0M21 40h0M23 44h0M22 42h0M21 37h0M22 38h0M24 34h0M22 38h0M23 31h0M23 37h0M24 30h0M26 24h0M25 34h0M27 28h0M27 31h0M26 23h0M28 21h0M28 18h0M28 17h0M29 15h0M28 23h0M30 22h0M30 17h0M29 15h0M29 16h0M30 17h0M31 13h0M31 12h0M32 7h0M33 7h0M33 8h0M33 2h0M33 13h0M33 3h0M33 79h0M35 2h0M34 5h0M35 1h0M37 7h0M36 2h0M37 5h0M37 6h0M37 78h0M38 7h0"/>
<path transform="translate(170.5 200.5)" d="M0 44h0M0 11h0M0 8h0M1 38h0M1 49h0M1 54h0M1 22h0M1 18h0M2 3h0M2 40h0M2 57h0M2 66h0M2 61h0M3 25h0M3 51h0M3 61h0M3 53h0M3 12h0M3 65h0M4 72h0M4 63h0M4 61h0M5 59h0M4 46h0M5 2h0M5 34h0M5 40h0M5 34h0M5 73h0M6 40h0M6 21h0M6 22h0M6 67h0M7 73h0M7 1h0M7 24h0M7 67h0M7 42h0M8 53h0M8 63h0M8 43h0M8 13h0M8 65h0M8 59h0M9 9h0M9 53h0M9 50h0M9 48h0M9 52h0M10 68h0M10 9h0M10 65h0M10 7h0M11 18h0M11 45h0M11 17h0M11 37h0M11 8h0M12 30h0M12 63h0M12 38h0M12 62h0M12 32h0M13 24h0M13 34h0M13 45h0M13 51h0M13 78h0M13 73h0M14 9h0M14 27h0M14 5h0M15 22h0M15 18h0M15 31h0M15 54h0M15 7h0M16 51h0M16 35h0M16 16h0M16 41h0M16 76h0M16 61h0M17 5h0M17 20h0M17 24h0M17 8h0M17 5h0M18 27h0M18 31h0M18 0h0M18 36h0M18 76h0M19 35h0M19 54h0M19 49h0M19 13h0M19 60h0M19 68h0M20 11h0M20 6h0M20 38h0M20 27h0M21 3h0M21 8h0M21 35h0M21 23h0M21 62h0M22 30h0M22 4h0M22 7h0M22 19h0M22 74h0M23 19h0M23 28h0M23 57h0M23 1h0M23 46h0M24 9h0M24 32h0M24 76h0M24 47h0M24 62h0M25 33h0M25 7h0M25 56h0M25 50h0M25 41h0M26 11h0M26 35h0M26 4h0M26 21h0M27 52h0M27 29h0M27 19h0M27 74h0M27 49h0M27 21h0M28 71h0M28 44h0M28 38h0M28 3h0M28 72h0M29 43h0M29 70h0M29 44h0M29 26h0M29 46h0M30 33h0M30 70h0M30 37h0M30 36h0M31 8h0M31 62h0M31 65h0M31 14h0M31 77h0M31 15h0M32 67h0M32 18h0M32 40h0M32 3h0M32 17h0M33 35h0M33 43h0M33 2h0M33 28h0M33 63h0M34 55h0M34 37h0M34 64h0M34 55h0M34 3h0M35 45h0M35 2h0M35 53h0M35 67h0M35 7h0M36 75h0M36 30h0M36 70h0M36 62h0M36 54h0M37 60h0M37 58h0M37 28h0M37 18h0M38 19h0M38 29h0M38 67h0M38 5h0M38 40h0M39 71h0M39 61h0M39 65h0M39 70h0M39 46h0M40 41h0M40 67h0M40 59h0M40 12h0M40 46h0M41 56h0M41 51h0M41 16h0M41 72h0M41 3h0M41 29h0M42 3h0M42 32h0M42 39h0M42 0h0M43 18h0M43 4h0M43 6h0M43 69h0M43 41h0M43 11h0M44 16h0M44 35h0M44 8h0M44 71h0M44 78h0M45 28h0M45 30h0M45 59h0M45 50h0M46 55h0M46 22h0M46 51h0M46 49h0M46 47h0M46 70h0M47 57h0M47 52h0M47 8h0M47 16h0M48 1h0M48 57h0M48 5h0M48 9h0M48 21h0M49 67h0M49 34h0M49 13h0M49 22h0M49 23h0M50 25h0M50 57h0M50 32h0M50 31h0M50 48h0M50 61h0M51 66h0M51 71h0M51 62h0M51 1h0M52 50h0M52 38h0M52 58h0M52 29h0M52 17h0M53 36h0M53 25h0M53 40h0M53 32h0M54 1h0M54 59h0M54 48h0M54 19h0M54 58h0M54 59h0M55 60h0M55 69h0M55 6h0M55 23h0M55 66h0M56 63h0M56 13h0M56 23h0M56 67h0M57 61h0M57 12h0M57 59h0M57 18h0M57 64h0M58 59h0M57 13h0M58 57h0M58 21h0M58 20h0M59 69h0M59 3h0M59 38h0M59 3h0M59 64h0M59 25h0M60 58h0M60 41h0M60 22h0M60 45h0M60 26h0M61 31h0M61 39h0M61 54h0M61 73h0M62 64h0M61 73h0M62 27h0M62 71h0M62 29h0M62 22h0M63 73h0M63 66h0M63 0h0M63 23h0M64 9h0M64 6h0M64 47h0M64 6h0M64 71h0M64 75h0M65 26h0M65 52h0M65 51h0M65 49h0M66 73h0M66 72h0M66 29h0M66 9h0M66 6h0M66 62h0M67 52h0M67 24h0M67 63h0M67 18h0M68 11h0M68 56h0M68 0h0M68 19h0M68 59h0M68 57h0M69 72h0M69 37h0M69 39h0M69 76h0M69 63h0M70 56h0M70 46h0M70 29h0M71 20h0M71 29h0M71 54h0M71 43h0M71 75h0"/>
<path transform="translate(358.5 200.5)" d="M10 2h0M8 1h0M9 2h0M9 5h0M12 2h0M17 3h0M14 4h0M22 4h0M30 1h0M43 4h0M46 3h0M50 0h0M56 4h0M59 3h0M63 6h0M61 5h0M60 5h0M64 3h0M3 11h0M1 7h0M6 6h0M10 7h0M8 9h0M13 6h0M17 10h0M21 6h0M30 7h0M27 7h0M30 9h0M29 10h0M28 7h0M30 8h0M30 6h0M34 6h0M32 7h0M32 6h0M30 6h0M33 6h0M34 9h0M30 8h0M31 8h0M40 10h0M43 6h0M53 6h0M53 8h0M62 8h0M70 9h0M67 7h0M67 8h0M4 17h0M3 15h0M24 11h0M25 16h0M33 16h0M30 15h0M47 16h0M47 16h0M44 14h0M50 13h0M51 16h0M58 14h0M56 15h0M65 15h0M65 11h0M63 16h0M67 12h0M71 16h0M66 12h0M5 19h0M1 20h0M23 21h0M18 19h0M30 21h0M35 18h0M41 18h0M40 19h0M43 22h0M46 18h0M54 18h0M66 20h0M71 18h0M69 19h0M7 28h0M7 27h0M9 26h0M30 27h0M34 22h0M31 24h0M33 27h0M36 27h0M38 23h0M55 25h0M65 24h0M60 25h0M61 24h0M4 33h0M2 30h0M10 29h0M9 31h0M11 32h0M8 31h0M8 33h0M18 29h0M15 33h0M13 32h0M14 30h0M21 31h0M19 30h0M18 33h0M23 31h0M23 33h0M19 33h0M29 30h0M25 34h0M34 30h0M30 29h0M31 30h0M35 31h0M34 29h0M34 32h0M41 32h0M40 30h0M40 29h0M47 34h0M43 31h0M46 33h0M47 33h0M52 31h0M53 34h0M58 30h0M54 29h0M59 33h0M63 32h0M61 30h0M62 29h0M68 31h0M4 35h0M10 38h0M9 37h0M14 36h0M17 34h0M20 36h0M20 35h0M23 35h0M21 39h0M27 34h0M25 38h0M28 35h0M35 37h0M34 35h0M32 34h0M32 38h0M33 39h0M39 39h0M40 35h0M41 38h0M38 36h0M41 35h0M44 36h0M46 37h0M45 35h0M48 38h0M50 35h0M51 36h0M49 36h0M49 34h0M55 38h0M57 37h0M61 37h0M65 39h0M64 39h0M62 36h0M70 34h0M67 38h0M69 35h0M68 35h0M1 42h0M3 41h0M0 43h0M7 43h0M6 40h0M12 41h0M15 43h0M15 41h0M18 43h0M21 42h0M18 44h0M19 41h0M24 43h0M33 42h0M32 45h0M33 39h0M32 44h0M38 44h0M37 42h0M47 45h0M44 44h0M44 44h0M48 43h0M51 40h0M53 40h0M50 43h0M58 43h0M57 40h0M54 42h0M55 45h0M61 45h0M63 40h0M63 40h0M68 43h0M67 42h0M10 48h0M7 48h0M10 47h0M25 46h0M28 47h0M29 47h0M36 50h0M34 49h0M32 47h0M33 48h0M38 50h0M41 49h0M39 47h0M41 48h0M41 48h0M39 45h0M45 50h0M47 48h0M48 48h0M53 50h0M50 48h0M49 50h0M55 46h0M56 47h0M61 46h0M63 49h0M62 46h0M70 50h0M69 46h0M10 55h0M19 52h0M21 55h0M21 56h0M34 53h0M33 51h0M33 52h0M34 51h0M41 53h0M43 52h0M46 56h0M49 53h0M49 55h0M48 55h0M48 53h0M58 54h0M58 54h0M55 56h0M61 56h0M61 54h0M62 53h0M64 51h0M62 54h0M70 54h0M68 54h0M66 53h0M4 60h0M4 57h0M1 56h0M1 60h0M8 60h0M6 57h0M15 61h0M16 56h0M13 58h0M41 59h0M45 57h0M46 56h0M46 60h0M42 61h0M50 60h0M50 57h0M50 57h0M53 60h0M54 61h0M55 58h0M57 57h0M65 61h0M63 57h0M60 58h0M71 57h0M71 61h0M65 60h0M2 63h0M11 67h0M25 63h0M26 66h0M26 67h0M25 65h0M34 64h0M34 63h0M32 62h0M44 67h0M45 67h0M47 66h0M52 64h0M51 64h0M52 66h0M52 64h0M56 67h0M56 64h0M54 67h0M59 62h0M58 65h0M57 67h0M64 67h0M65 63h0M71 67h0M66 63h0M66 63h0M70 66h0M69 64h0M67 67h0M71 65h0M4 68h0M5 70h0M4 69h0M1 69h0M11 69h0M25 69h0M32 72h0M34 69h0M31 72h0M43 70h0M47 72h0M46 71h0M58 72h0M60 70h0M64 73h0M70 69h0M70 71h0M71 68h0M14 73h0M15 76h0M12 78h0M30 75h0M32 76h0M35 77h0M32 76h0M41 77h0M41 78h0M40 79h0M44 77h0M52 77h0M49 75h0M52 76h0M58 78h0M59 78h0M59 78h0M61 75h0"/>
<path transform="translate(452.5 200.5)" d="M0 1h0M0 49h0M0 31h0M1 27h0M1 3h0M1 79h0M1 33h0M1 60h0M1 30h0M2 45h0M2 4h0M2 39h0M2 5h0M2 20h0M3 51h0M3 70h0M3 15h0M3 57h0M3 6h0M3 51h0M4 53h0M4 6h0M4 47h0M4 55h0M4 28h0M5 12h0M5 53h0M5 25h0M5 43h0M5 54h0M6 78h0M5 38h0M6 71h0M6 14h0M6 27h0M6 56h0M7 34h0M7 23h0M7 71h0M7 18h0M7 63h0M7 59h0M7 4h0M8 66h0M8 13h0M8 11h0M8 55h0M8 29h0M9 32h0M9 17h0M9 24h0M9 18h0M9 52h0M10 68h0M10 78h0M10 5h0M10 23h0M10 30h0M10 76h0M11 17h0M11 14h0M11 63h0M11 77h0M11 78h0M12 12h0M12 22h0M12 8h0M12 52h0M12 51h0M12 41h0M13 0h0M13 55h0M13 17h0M13 64h0M13 4h0M13 76h0M14 54h0M14 61h0M14 50h0M14 25h0M14 58h0M14 75h0M15 42h0M15 15h0M15 72h0M15 40h0M15 42h0M15 64h0M16 36h0M16 18h0M16 44h0M16 66h0M17 61h0M17 43h0M17 10h0M17 3h0M17 42h0M17 68h0M17 76h0M18 3h0M18 62h0M18 7h0M18 73h0M18 40h0M19 54h0M19 67h0M19 36h0M19 4h0M19 37h0M19 33h0M20 22h0M20 42h0M20 30h0M20 25h0M21 47h0M21 54h0M21 37h0M21 33h0M21 59h0M21 35h0M22 40h0M21 69h0M22 29h0M22 34h0M22 27h0M22 35h0M23 71h0M23 15h0M23 57h0M23 35h0M23 49h0M24 55h0M24 73h0M24 69h0M24 40h0M24 12h0M24 39h0M25 54h0M25 52h0M25 2h0M25 40h0M25 29h0M25 75h0M26 46h0M26 31h0M26 71h0M26 38h0M26 53h0M27 0h0M27 75h0M27 23h0M27 73h0M27 25h0M27 32h0M28 35h0M28 6h0M28 19h0M28 16h0M28 52h0M28 41h0M29 12h0M29 17h0M29 70h0M29 20h0M29 36h0M29 55h0M30 18h0M30 24h0M30 57h0M30 28h0M30 53h0M31 53h0M31 40h0M31 39h0M31 21h0M31 70h0M31 2h0M32 38h0M32 58h0M32 1h0M32 26h0M32 44h0M32 57h0M33 51h0M33 69h0M33 72h0M33 69h0M33 19h0M34 6h0M34 6h0M34 2h0M34 3h0M34 30h0M35 24h0M35 24h0M35 63h0M35 67h0M35 11h0M35 28h0M36 14h0M36 39h0M36 78h0M36 48h0M36 36h0M36 40h0M37 27h0M37 4h0M37 49h0M37 7h0M37 71h0M38 43h0M38 8h0M38 13h0M38 13h0M38 72h0M38 42h0M38 7h0M39 42h0M39 45h0M39 21h0M39 24h0M40 61h0M40 53h0M40 14h0M40 68h0M40 48h0M40 64h0M40 43h0M41 54h0M41 72h0M41 22h0M41 11h0M42 23h0M42 8h0M42 28h0M42 15h0M42 34h0M42 74h0M43 36h0M43 37h0M43 53h0M43 35h0M43 75h0M44 1h0M44 49h0M44 51h0M44 50h0M44 21h0M44 13h0M45 75h0M45 78h0M45 36h0M45 53h0M45 16h0M45 12h0M45 78h0M46 28h0M46 12h0M46 62h0M46 62h0M46 68h0M47 28h0M47 17h0M47 69h0M47 1h0M47 78h0M48 37h0M48 35h0M48 21h0M48 57h0M48 45h0M48 54h0M49 25h0M49 13h0M49 43h0M49 56h0M49 66h0M50 72h0M50 2h0M50 4h0M50 54h0M50 43h0M50 60h0M51 32h0M51 47h0M51 48h0M51 71h0M51 39h0M52 39h0M52 46h0M52 11h0M52 46h0M52 60h0M53 17h0M52 71h0M53 31h0M53 14h0M53 35h0M53 16h0M53 29h0M54 38h0M54 25h0M54 46h0M54 19h0M54 71h0M55 47h0M54 17h0M55 49h0M55 66h0M55 50h0M56 59h0M56 14h0M56 22h0M56 6h0M56 49h0M56 42h0M57 37h0M57 66h0M57 19h0M57 22h0M57 35h0M57 50h0M58 26h0M58 23h0M58 34h0M58 8h0M58 62h0M58 13h0M59 61h0M59 20h0M59 9h0M59 8h0M59 39h0M59 26h0M60 42h0M60 69h0M60 36h0M60 77h0M60 7h0M60 19h0M61 74h0M61 17h0M61 39h0M61 17h0M62 58h0M62 76h0M62 48h0M62 79h0M62 66h0M62 3h0M63 38h0M63 7h0M63 8h0M63 76h0M63 63h0M63 62h0M63 78h0M64 18h0M64 11h0M64 53h0M64 10h0M64 20h0M65 10h0M65 70h0M65 50h0M65 60h0M65 0h0M66 36h0M66 41h0M66 49h0M66 11h0M66 50h0M66 4h0M67 13h0M67 24h0M67 34h0M67 24h0M67 40h0M67 28h0M68 73h0M68 48h0M68 22h0M68 65h0M68 34h0M68 5h0M69 75h0M69 10h0M69 18h0M69 66h0M69 35h0M69 41h0M70 24h0M70 53h0M70 41h0M70 63h0M71 15h0M71 64h0M71 13h0M71 76h0M71 50h0"/>
<path transform="translate(546.5 200.5)" d="M41 12h0M20 30h0M5 14h0M50 49h0M6 10h0M31 59h0M35 32h0M39 21h0M50 51h0M29 73h0M62 24h0M53 34h0M2 35h0M63 79h0M44 77h0M52 44h0M52 51h0M62 72h0M17 41h0M22 27h0M25 78h0M67 62h0M13 70h0M44 60h0M52 72h0M68 60h0M66 41h0M55 40h0M53 14h0M49 10h0M57 2h0M62 63h0M33 55h0M20 30h0M42 15h0M55 71h0M68 29h0M36 43h0M68 1h0M66 23h0M58 23h0M41 73h0M26 11h0M34 44h0M43 62h0M15 59h0M26 77h0M24 13h0M70 64h0M53 40h0M14 52h0M57 13h0M62 37h0M69 55h0M61 64h0M62 55h0M7 13h0M46 72h0M6 21h0M3 35h0M46 21h0M36 23h0M36 25h0M24 11h0M6 13h0M50 78h0M6 14h0M16 47h0M8 7h0M65 31h0M18 42h0M12 63h0M28 73h0M44 47h0M7 9h0M69 33h0M68 50h0M20 27h0M43 22h0M22 27h0M48 66h0M46 51h0M9 6h0M10 76h0M36 44h0M19 43h0M12 56h0M25 7h0M42 32h0M9 4h0M44 54h0M36 34h0M19 31h0M21 24h0M50 55h0M54 24h0M69 62h0M24 7h0M18 35h0M33 49h0M33 41h0M71 3h0M18 44h0M45 57h0M39 24h0M23 23h0M11 70h0M62 60h0M51 53h0M7 16h0M57 68h0M12 70h0M43 42h0M15 54h0M42 31h0M27 70h0M3 29h0M65 36h0M15 53h0M23 18h0M69 35h0M22 23h0M62 69h0M70 5h0M41 24h0M31 54h0M63 23h0M64 45h0M11 78h0M46 47h0M54 44h0M43 62h0M60 37h0M9 2h0M70 66h0M0 41h0M5 16h0M37 16h0M12 75h0M35 37h0M36 27h0M69 72h0M28 74h0M13 60h0M45 78h0M27 6h0M56 20h0M8 11h0M34 68h0M17 46h0M28 70h0M49 1h0M12 65h0M67 66h0M24 9h0M35 38h0M33 46h0M47 30h0M39 36h0M52 30h0M29 66h0M47 63h0M26 78h0M42 17h0M70 51h0M60 6h0M61 7h0M12 75h0M59 61h0M33 51h0M21 32h0M31 51h0M64 23h0M13 60h0M3 25h0M49 27h0M64 35h0M27 78h0M67 59h0M45 70h0M42 7h0M56 63h0M26 0h0M34 57h0M23 16h0M15 63h0M58 48h0M13 58h0M35 53h0M65 61h0M4 30h0M2 31h0M2 31h0M5 13h0M57 9h0M39 6h0M30 59h0M5 19h0M63 24h0M29 75h0M64 55h0M15 53h0M63 74h0M11 4h0M67 7h0M6 18h0M51 75h0M5 14h0M2 31h0M66 48h0M4 32h0M69 30h0M2 27h0M67 15h0M48 67h0M66 50h0M2 43h0M35 31h0M59 57h0M58 57h0M61 78h0M55 4h0M53 50h0M38 18h0M66 41h0M63 14h0M55 73h0M7 18h0M35 48h0M11 64h0M65 56h0M4 23h0M46 4h0M63 34h0M7 19h0M56 47h0M18 38h0M57 10h0M57 18h0M42 10h0M28 71h0M19 41h0M67 29h0M70 64h0M17 43h0M62 75h0M65 29h0M61 15h0M35 55h0M4 22h0M71 8h0M6 22h0M35 39h0M62 2h0M65 3h0M1 52h0M67 14h0M42 23h0M69 61h0M17 39h0M56 48h0M21 27h0M39 16h0M36 47h0M18 35h0M27 74h0M9 76h0M28 69h0M20 28h0M57 71h0M31 56h0M51 34h0M53 78h0M68 66h0M56 38h0M57 51h0M12 65h0M39 65h0M15 59h0M58 71h0M19 38h0M30 56h0M23 11h0M45 75h0M55 3h0M1 39h0M51 36h0M18 38h0M53 78h0M35 35h0M54 47h0M19 31h0M9 8h0M34 34h0M29 67h0M69 48h0M40 13h0M14 54h0M26 1h0M13 70h0M6 24h0M24 20h0M59 70h0M27 72h0M20 35h0M69 39h0M57 35h0M4 20h0M43 79h0M50 8h0M48 38h0M32 58h0M56 64h0M6 17h0M21 25h0M50 40h0M23 15h0M7 10h0M54 31h0M51 67h0M34 46h0M46 58h0M20 35h0M2 33h0M60 54h0M52 45h0M9 6h0M62 29h0M21 26h0M8 10h0M50 26h0M13 71h0M27 6h0M36 35h0M2 25h0M70 59h0M12 66h0M38 31h0M46 64h0M13 63h0M52 5h0M20 31h0M5 25h0M13 57h0M41 28h0M62 63h0M4 21h0M47 41h0M30 66h0M4 17h0M19 38h0M63 10h0M60 57h0M7 9h0M45 77h0M26 0h0M58 57h0M4 34h0M40 29h0M17 50h0"/>
<path transform="translate(640.5 200.5)" d="M0 11h0M0 7h0M0 4h0M2 44h0M2 41h0M2 35h0M2 50h0M2 45h0M3 42h0M4 41h0M4 36h0M4 32h0M5 5h0M5 1h0M5 75h0M6 18h0M6 14h0M6 11h0M8 49h0M7 45h0M7 41h0M9 31h0M9 27h0M9 23h0M10 65h0M10 61h0M10 56h0M11 65h0M11 62h0M11 58h0M12 29h0M13 25h0M12 20h0M14 17h0M13 12h0M14 8h0M14 48h0M15 45h0M15 39h0M16 24h0M16 20h0M16 17h0M17 56h0M17 53h0M17 50h0M18 12h0M18 9h0M19 4h0M20 48h0M20 42h0M20 38h0M21 22h0M21 18h0M21 15h0M22 59h0M22 56h0M22 52h0M23 58h0M23 52h0M23 49h0M25 20h0M25 17h0M25 12h0M26 54h0M26 50h0M26 48h0M27 0h0M28 75h0M27 72h0M28 6h0M28 1h0M28 76h0M30 3h0M30 78h0M30 74h0M31 49h0M31 45h0M31 41h0M32 53h0M32 51h0M32 47h0M33 53h0M34 49h0M33 45h0M35 23h0M35 18h0M35 15h0M36 40h0M36 36h0M36 33h0M37 3h0M37 78h0M37 73h0M38 43h0M38 78h0M38 16h0M39 58h0M39 7h0M39 25h0M40 57h0M40 64h0M40 36h0M42 52h0M42 53h0M42 55h0M44 19h0M43 27h0M43 30h0M44 19h0M45 20h0M45 38h0M46 40h0M46 18h0M46 68h0M47 33h0M47 29h0M47 34h0M48 7h0M48 68h0M48 2h0M49 69h0M49 25h0M49 36h0M50 17h0M50 1h0M50 2h0M52 10h0M52 66h0M52 0h0M53 39h0M53 70h0M53 26h0M54 28h0M54 27h0M54 59h0M56 17h0M55 13h0M55 69h0M57 29h0M57 37h0M57 38h0M58 27h0M58 19h0M58 55h0M59 65h0M59 12h0M59 61h0M60 77h0M60 72h0M61 44h0M62 13h0M61 43h0M62 32h0M63 39h0M63 29h0M63 17h0M64 70h0M64 62h0M64 74h0M65 2h0M65 40h0M65 70h0M67 17h0M67 70h0M66 68h0M68 49h0M68 14h0M68 40h0M69 21h0M69 42h0M69 64h0M70 65h0M70 63h0M70 48h0M71 46h0M71 56h0M71 12h0M0 35h0M0 32h0M1 58h0M2 23h0M2 7h0M2 47h0M2 66h0M3 76h0M3 47h0M4 25h0M4 55h0M4 36h0M5 16h0M6 38h0M6 62h0M6 23h0M7 14h0M7 52h0M7 7h0M8 28h0M8 56h0M9 57h0M9 36h0M9 43h0M10 77h0M10 46h0M11 17h0M11 41h0M11 10h0M12 40h0M12 77h0M12 50h0M13 8h0M13 76h0M14 25h0M14 44h0M14 8h0M15 51h0M15 1h0M16 10h0M16 70h0M17 34h0M17 44h0M17 42h0M18 18h0M18 29h0M19 61h0M19 15h0M19 55h0M20 24h0M20 8h0M21 20h0M21 73h0M22 40h0M22 33h0M22 28h0M23 24h0M23 48h0M24 70h0M24 31h0M24 20h0M25 5h0M25 15h0M25 59h0M26 13h0M26 24h0M27 68h0M27 19h0M28 27h0M28 63h0M28 9h0M29 78h0M29 59h0M30 63h0M30 11h0M30 70h0M31 65h0M31 2h0M31 4h0M32 42h0M32 56h0M33 78h0M33 15h0M34 28h0M34 60h0M34 54h0M35 43h0M35 78h0M36 67h0M36 74h0M36 62h0M37 50h0M37 26h0M38 61h0M38 43h0M39 67h0M39 3h0M39 13h0M39 16h0M40 33h0M40 19h0M41 9h0M41 14h0M42 41h0M42 72h0M42 57h0M43 55h0M43 15h0M44 59h0M44 28h0M44 34h0M45 66h0M45 58h0M46 11h0M46 18h0M46 32h0M47 18h0M47 63h0M48 13h0M48 54h0M48 16h0M49 78h0M49 70h0M50 18h0M50 76h0M50 33h0M51 6h0M51 0h0M52 19h0M52 34h0M52 7h0M53 72h0M53 37h0M54 26h0M54 42h0M54 40h0M55 77h0M55 44h0M56 22h0M56 44h0M56 78h0M57 35h0M57 49h0M58 78h0M58 66h0M59 63h0M59 77h0M59 19h0M60 7h0M60 7h0M61 28h0M61 4h0M61 1h0M62 59h0M62 25h0M62 21h0M63 73h0M63 28h0M64 53h0M64 59h0M64 10h0M65 46h0M65 76h0M66 42h0M66 63h0M66 67h0M67 37h0M67 9h0M68 77h0M68 38h0M69 49h0M69 52h0M69 51h0M70 78h0M70 3h0M71 33h0M71 18h0M71 42h0"/>
<path transform="translate(734.5 200.5)" d="M0 26h0M0 22h0M0 19h0M1 8h0M1 2h0M1 78h0M3 39h0M3 33h0M3 30h0M4 33h0M4 29h0M4 25h0M5 59h0M5 54h0M5 49h0M6 75h0M7 71h0M6 68h0M8 2h0M7 76h0M7 72h0M9 45h0M9 41h0M9 36h0M10 67h0M10 61h0M10 59h0M11 12h0M11 10h0M11 6h0M13 77h0M13 72h0M13 66h0M14 62h0M14 58h0M14 54h0M15 33h0M15 27h0M15 23h0M16 20h0M16 16h0M16 11h0M17 64h0M17 61h0M17 57h0M18 17h0M18 13h0M18 8h0M20 6h0M20 1h0M20 76h0M21 15h0M21 12h0M21 7h0M22 78h0M22 74h0M22 70h0M24 23h0M23 18h0M24 14h0M25 75h0M25 70h0M25 66h0M26 62h0M26 56h0M26 53h0M27 3h0M27 78h0M27 73h0M28 61h0M28 57h0M28 52h0M30 3h0M30 77h0M30 74h0M31 5h0M31 77h0M31 74h0M32 61h0M32 58h0M32 55h0M33 2h0M33 75h0M33 72h0M35 65h0M35 62h0M35 57h0M36 47h0M36 43h0M36 41h0M37 24h0M37 20h0M37 17h0M38 69h0M38 31h0M38 36h0M39 53h0M40 44h0M39 30h0M41 65h0M41 13h0M41 65h0M42 51h0M42 65h0M42 14h0M43 67h0M43 56h0M43 25h0M45 29h0M45 69h0M45 15h0M45 20h0M45 47h0M46 64h0M47 44h0M47 73h0M47 14h0M48 71h0M48 77h0M48 61h0M49 52h0M49 57h0M49 17h0M50 32h0M50 61h0M51 10h0M52 72h0M52 70h0M52 34h0M53 69h0M53 28h0M53 49h0M54 14h0M54 20h0M54 15h0M56 43h0M55 62h0M55 55h0M57 25h0M56 66h0M57 54h0M58 57h0M58 75h0M58 32h0M59 72h0M59 57h0M59 64h0M60 24h0M60 46h0M60 26h0M61 58h0M61 54h0M62 69h0M63 64h0M63 23h0M63 59h0M64 36h0M64 24h0M64 58h0M65 32h0M65 52h0M65 5h0M67 51h0M67 56h0M67 5h0M67 75h0M68 14h0M68 3h0M69 74h0M69 15h0M69 20h0M70 74h0M70 39h0M70 11h0M71 5h0M71 23h0M71 51h0M0 7h0M1 25h0M1 37h0M1 74h0M2 76h0M2 71h0M2 67h0M3 62h0M3 58h0M4 37h0M4 38h0M5 25h0M5 59h0M5 49h0M6 72h0M6 59h0M7 45h0M7 24h0M7 11h0M8 54h0M8 15h0M9 78h0M9 20h0M9 24h0M10 34h0M10 45h0M11 45h0M11 29h0M11 15h0M12 21h0M12 63h0M13 66h0M13 65h0M14 28h0M14 11h0M14 63h0M15 7h0M15 11h0M15 22h0M16 10h0M16 0h0M17 70h0M17 19h0M17 34h0M18 52h0M18 72h0M19 32h0M19 35h0M20 74h0M20 8h0M20 65h0M21 38h0M21 10h0M21 45h0M22 2h0M22 54h0M23 40h0M23 27h0M24 75h0M24 24h0M24 42h0M25 34h0M25 2h0M26 52h0M26 67h0M26 45h0M27 43h0M27 35h0M28 47h0M28 69h0M28 1h0M29 7h0M29 38h0M29 7h0M30 41h0M30 65h0M31 21h0M31 28h0M32 50h0M32 48h0M32 68h0M33 74h0M33 20h0M34 16h0M34 6h0M34 74h0M35 33h0M35 20h0M36 25h0M36 38h0M36 66h0M37 48h0M37 30h0M38 29h0M38 18h0M38 29h0M39 60h0M39 8h0M39 36h0M40 55h0M40 25h0M41 33h0M41 56h0M42 61h0M42 8h0M42 69h0M43 6h0M43 47h0M44 45h0M44 29h0M44 20h0M45 36h0M45 63h0M46 59h0M46 5h0M46 67h0M47 4h0M47 47h0M48 14h0M48 72h0M49 24h0M49 66h0M49 4h0M50 30h0M50 47h0M51 76h0M51 77h0M51 13h0M52 30h0M52 25h0M52 7h0M53 41h0M53 35h0M54 13h0M54 46h0M54 24h0M55 23h0M55 9h0M56 21h0M56 46h0M56 32h0M57 46h0M57 34h0M58 71h0M58 40h0M59 36h0M59 76h0M59 72h0M60 5h0M60 39h0M60 6h0M61 14h0M61 48h0M62 77h0M62 69h0M62 13h0M63 78h0M63 49h0M64 9h0M64 64h0M65 28h0M65 54h0M65 15h0M66 6h0M66 66h0M67 30h0M67 29h0M67 71h0M68 38h0M68 17h0M69 22h0M69 48h0M69 40h0M70 30h0M70 58h0M71 23h0M71 53h0M71 9h0"/>
<path transform="translate(828.5 200.5)" d="M0 58h0M0 55h0M1 37h0M1 45h0M1 30h0M1 39h0M1 41h0M2 77h0M2 25h0M2 29h0M2 23h0M2 27h0M3 10h0M3 56h0M3 15h0M3 7h0M3 26h0M4 14h0M4 64h0M4 9h0M4 15h0M5 8h0M5 72h0M5 57h0M5 45h0M5 78h0M5 55h0M6 72h0M6 47h0M6 54h0M6 37h0M7 16h0M7 63h0M7 66h0M7 19h0M7 48h0M7 27h0M8 71h0M8 51h0M8 49h0M8 11h0M8 11h0M9 15h0M9 24h0M9 58h0M9 34h0M9 7h0M10 67h0M10 19h0M10 79h0M10 28h0M10 43h0M11 51h0M11 69h0M11 58h0M11 63h0M11 71h0M12 3h0M12 10h0M12 31h0M12 68h0M12 45h0M13 46h0M13 40h0M13 18h0M13 7h0M13 45h0M14 61h0M14 71h0M14 68h0M14 33h0M14 43h0M15 3h0M15 63h0M15 9h0M15 63h0M15 61h0M16 55h0M16 3h0M16 12h0M16 35h0M17 72h0M17 10h0M17 8h0M17 45h0M17 58h0M17 20h0M18 65h0M18 45h0M18 2h0M18 66h0M19 66h0M19 72h0M19 66h0M19 14h0M19 44h0M20 22h0M20 65h0M20 50h0M20 63h0M21 18h0M21 32h0M21 54h0M21 68h0M21 61h0M21 77h0M22 39h0M22 55h0M22 6h0M22 43h0M22 28h0M22 19h0M23 33h0M23 54h0M23 54h0M23 76h0M23 32h0M24 18h0M24 57h0M24 34h0M24 48h0M24 71h0M25 32h0M25 30h0M25 77h0M25 13h0M26 29h0M26 58h0M26 62h0M26 21h0M26 8h0M27 12h0M27 41h0M27 16h0M27 1h0M27 66h0M28 71h0M28 46h0M28 24h0M28 22h0M28 32h0M29 58h0M29 9h0M29 2h0M29 37h0M30 59h0M30 51h0M30 25h0M30 79h0M30 16h0M30 54h0M31 35h0M31 15h0M31 36h0M31 71h0M31 74h0M32 15h0M32 44h0M32 25h0M32 74h0M32 51h0M33 8h0M33 66h0M33 24h0M33 59h0M33 17h0M34 79h0M34 16h0M34 72h0M34 70h0M34 6h0M35 57h0M35 64h0M35 27h0M35 22h0M36 53h0M36 60h0M36 58h0M36 14h0M36 41h0M36 37h0M37 35h0M37 22h0M37 1h0M37 8h0M37 33h0M38 43h0M38 52h0M38 16h0M38 70h0M38 25h0M39 62h0M39 67h0M39 73h0M39 1h0M39 77h0M40 53h0M40 62h0M40 25h0M40 79h0M41 35h0M41 14h0M41 54h0M41 63h0M41 1h0M41 35h0M42 69h0M42 71h0M42 56h0M42 7h0M42 44h0M43 38h0M43 4h0M43 6h0M43 63h0M43 31h0M44 31h0M44 23h0M44 17h0M44 13h0M45 70h0M45 5h0M45 77h0M45 41h0M45 62h0M45 68h0M46 37h0M46 38h0M46 24h0M46 14h0M46 6h0M47 34h0M47 44h0M47 42h0M47 66h0M48 61h0M48 5h0M48 67h0M48 14h0M48 33h0M49 73h0M49 38h0M49 75h0M49 38h0M49 0h0M50 21h0M50 17h0M50 49h0M50 76h0M50 73h0M51 17h0M51 39h0M51 73h0M51 22h0M51 30h0M52 22h0M52 30h0M52 69h0M52 63h0M52 14h0M53 24h0M53 9h0M53 65h0M53 9h0M53 73h0M54 39h0M54 72h0M54 30h0M54 51h0M54 52h0M55 50h0M55 6h0M55 7h0M55 45h0M55 36h0M56 48h0M56 58h0M56 9h0M56 62h0M56 41h0M57 38h0M57 62h0M57 60h0M57 57h0M57 55h0M58 55h0M58 60h0M58 4h0M58 40h0M58 48h0M59 35h0M59 71h0M59 38h0M59 50h0M59 20h0M60 27h0M60 8h0M60 51h0M60 40h0M61 64h0M61 66h0M61 58h0M61 72h0M61 2h0M61 57h0M62 53h0M62 11h0M62 5h0M62 5h0M62 20h0M62 52h0M63 75h0M63 76h0M63 50h0M63 31h0M64 23h0M64 20h0M64 72h0M64 58h0M64 41h0M65 36h0M65 31h0M65 76h0M65 15h0M65 6h0M66 27h0M66 66h0M66 78h0M66 48h0M66 25h0M67 36h0M67 20h0M67 34h0M67 24h0M67 20h0M68 63h0M68 20h0M68 76h0M68 38h0M68 66h0M69 9h0M69 77h0M69 25h0M69 76h0M69 34h0M70 61h0M70 20h0M70 62h0M70 24h0M70 10h0M71 11h0M71 53h0M71 33h0M71 76h0M72 62h0"/>
<path transform="translate(922.5 201.5)" d="M0 5h0M0 21h0M1 36h0M1 74h0M1 30h0M1 10h0M1 36h0M2 38h0M2 71h0M2 68h0M2 69h0M2 77h0M3 15h0M3 0h0M3 40h0M3 25h0M3 55h0M4 11h0M4 19h0M4 53h0M4 69h0M4 75h0M5 54h0M5 76h0M5 43h0M5 23h0M6 44h0M6 69h0M6 35h0M6 51h0M6 64h0M7 46h0M7 44h0M7 8h0M7 74h0M7 8h0M7 0h0M8 36h0M8 57h0M8 61h0M8 55h0M8 78h0M9 16h0M9 50h0M9 31h0M9 49h0M10 45h0M10 46h0M10 46h0M10 25h0M10 34h0M10 44h0M11 28h0M11 7h0M11 51h0M11 62h0M12 15h0M12 24h0M12 67h0M12 43h0M12 16h0M13 2h0M13 11h0M13 3h0M13 28h0M13 2h0M14 38h0M14 54h0M14 17h0M14 0h0M14 52h0M15 59h0M15 20h0M15 58h0M15 38h0M15 50h0M16 57h0M16 56h0M16 29h0M16 9h0M16 23h0M17 70h0M17 71h0M17 76h0M17 54h0M17 69h0M18 26h0M18 28h0M18 69h0M18 62h0M18 14h0M19 43h0M19 46h0M19 57h0M19 50h0M19 3h0M20 51h0M20 32h0M20 41h0M20 70h0M20 7h0M21 72h0M21 2h0M21 38h0M21 46h0M21 39h0M22 42h0M22 2h0M22 5h0M22 18h0M22 54h0M23 70h0M23 8h0M23 56h0M23 0h0M23 44h0M24 7h0M24 41h0M24 49h0M24 41h0M24 38h0M24 20h0M25 3h0M25 31h0M25 16h0M25 63h0M26 70h0M26 33h0M26 74h0M26 68h0M27 50h0M27 33h0M27 2h0M27 17h0M27 7h0M27 62h0M28 58h0M28 8h0M28 4h0M28 1h0M28 57h0M29 39h0M29 14h0M29 43h0M29 26h0M29 20h0M30 15h0M30 32h0M30 11h0M30 59h0M30 16h0M31 64h0M31 47h0M31 9h0M31 66h0M32 47h0M32 24h0M32 37h0M32 30h0M32 31h0M32 5h0M32 52h0M33 31h0M33 18h0M33 30h0M33 31h0M34 35h0M34 55h0M34 77h0M34 54h0M34 15h0M34 57h0M35 12h0M35 61h0M35 57h0M35 58h0M36 31h0M36 61h0M36 72h0M36 30h0M36 61h0M37 33h0M37 27h0M37 44h0M37 57h0M37 73h0M38 3h0M38 76h0M38 2h0M38 57h0M39 3h0M39 44h0M39 51h0M39 26h0M39 42h0M39 44h0M40 48h0M40 69h0M40 46h0M40 25h0M41 1h0M41 23h0M41 52h0M41 45h0M41 29h0M42 71h0M42 38h0M42 53h0M42 52h0M42 35h0M43 33h0M43 5h0M43 33h0M43 43h0M43 22h0M44 20h0M44 37h0M44 45h0M44 35h0M44 44h0M45 60h0M45 8h0M45 69h0M45 56h0M45 60h0M46 52h0M46 52h0M46 71h0M46 69h0M46 38h0M47 38h0M47 33h0M47 23h0M47 12h0M48 17h0M47 15h0M48 41h0M48 42h0M48 24h0M48 35h0M49 27h0M49 37h0M49 12h0M49 25h0M49 11h0M50 55h0M50 52h0M50 23h0M50 59h0M50 68h0M51 15h0M51 77h0M51 29h0M51 67h0M51 76h0M52 30h0M52 34h0M52 30h0M52 13h0M53 52h0M52 74h0M53 36h0M53 65h0M53 41h0M53 64h0M54 32h0M54 13h0M54 67h0M54 19h0M54 7h0M55 26h0M55 49h0M55 43h0M55 36h0M55 47h0M56 46h0M56 10h0M56 26h0M56 60h0M56 41h0M57 26h0M57 40h0M57 0h0M57 15h0M57 43h0M58 5h0M58 36h0M58 76h0M58 42h0M58 6h0M59 59h0M59 74h0M59 69h0M59 17h0M59 31h0M60 69h0M60 30h0M60 52h0M60 4h0M60 62h0M61 27h0M61 17h0M61 57h0M61 59h0M61 30h0M62 60h0M62 59h0M62 19h0M62 32h0M62 11h0M63 26h0M63 1h0M63 27h0M63 77h0M63 45h0M64 55h0M64 48h0M64 63h0M64 5h0M64 65h0M65 26h0M65 57h0M65 18h0M65 50h0M65 16h0M65 30h0M66 26h0M66 72h0M66 33h0M67 42h0M67 72h0M67 2h0M67 22h0M67 40h0M67 55h0M68 19h0M68 11h0M68 36h0M68 37h0M69 43h0M69 43h0M69 54h0M69 34h0M69 67h0M69 9h0M69 21h0M70 36h0M70 75h0M70 52h0M70 54h0M71 68h0M71 53h0M71 31h0M71 59h0M71 77h0"/>
<path transform="translate(1016.5 200.5)" d="M14 2h0M14 2h0M37 3h0M36 5h0M41 4h0M41 5h0M36 1h0M39 4h0M44 5h0M45 1h0M47 2h0M53 0h0M54 4h0M50 2h0M54 5h0M56 2h0M54 4h0M66 3h0M65 0h0M61 5h0M71 5h0M69 3h0M69 2h0M21 7h0M18 10h0M21 7h0M24 8h0M24 9h0M29 6h0M27 7h0M29 10h0M30 10h0M26 6h0M25 10h0M30 10h0M34 10h0M35 8h0M32 9h0M30 9h0M36 10h0M41 9h0M43 8h0M46 10h0M45 6h0M42 6h0M52 6h0M50 7h0M48 10h0M52 7h0M52 6h0M58 6h0M57 10h0M56 7h0M59 6h0M56 9h0M59 10h0M58 7h0M63 8h0M64 8h0M64 9h0M64 9h0M67 10h0M71 7h0M67 8h0M70 11h0M71 6h0M68 10h0M7 16h0M9 12h0M11 16h0M8 13h0M17 14h0M13 15h0M19 12h0M22 16h0M19 16h0M23 15h0M23 11h0M22 16h0M24 13h0M24 16h0M26 15h0M25 15h0M24 15h0M28 15h0M32 12h0M32 14h0M40 17h0M36 16h0M39 12h0M42 12h0M45 14h0M47 16h0M43 16h0M47 14h0M44 17h0M43 12h0M44 14h0M50 14h0M48 16h0M49 14h0M59 12h0M55 12h0M59 16h0M57 15h0M55 15h0M56 12h0M60 13h0M65 13h0M64 16h0M65 13h0M69 15h0M67 12h0M67 13h0M0 20h0M6 22h0M8 22h0M11 18h0M10 19h0M9 21h0M7 22h0M11 20h0M13 17h0M12 20h0M20 21h0M22 21h0M23 19h0M22 20h0M20 18h0M21 19h0M28 19h0M46 18h0M46 19h0M62 19h0M61 18h0M68 18h0M1 24h0M2 28h0M1 27h0M5 24h0M7 25h0M10 28h0M12 26h0M15 27h0M16 26h0M16 24h0M64 27h0M65 25h0M70 25h0M67 26h0M2 29h0M1 34h0M3 29h0M7 30h0M10 30h0M18 33h0M42 29h0M40 31h0M64 31h0M62 30h0M62 31h0M71 33h0M1 34h0M5 34h0M40 36h0M37 38h0M37 34h0M41 35h0M51 37h0M51 39h0M54 37h0M54 39h0M58 35h0M63 35h0M61 35h0M62 34h0M62 37h0M64 36h0M62 39h0M67 37h0M68 36h0M37 42h0M39 42h0M46 40h0M57 40h0M60 45h0M63 44h0M65 41h0M61 41h0M67 41h0M67 43h0M62 45h0M60 46h0M65 50h0M36 56h0M45 56h0M47 54h0M46 56h0M56 51h0M55 51h0M60 51h0M65 55h0M61 52h0M67 51h0M67 53h0M38 57h0M40 59h0M39 57h0M46 57h0M48 57h0M44 57h0M42 57h0M51 58h0M51 61h0M64 59h0M64 61h0M70 57h0M69 61h0M34 65h0M42 64h0M49 65h0M53 66h0M55 63h0M57 63h0M54 64h0M56 65h0M60 66h0M61 65h0M65 63h0M62 62h0M65 65h0M64 63h0M68 63h0M68 63h0M70 63h0M68 65h0M32 69h0M31 70h0M30 68h0M34 73h0M33 68h0M35 68h0M34 72h0M34 68h0M46 70h0M44 69h0M44 68h0M53 71h0M50 72h0M51 69h0M50 68h0M53 68h0M53 71h0M51 70h0M54 72h0M58 71h0M59 68h0M57 68h0M63 68h0M64 72h0M63 73h0M61 69h0M70 73h0M67 72h0M68 69h0M67 71h0M69 70h0M70 71h0M66 69h0M32 77h0M31 76h0M31 77h0M30 78h0M35 74h0M39 77h0M40 73h0M41 77h0M44 75h0M48 77h0M50 74h0M51 74h0M52 75h0M58 73h0M58 79h0M61 78h0M63 76h0M62 75h0M69 76h0M66 77h0"/>
<path transform="translate(1111.5 201.5)" d="M6 4h0M12 2h0M15 0h0M21 2h0M19 0h0M31 4h0M56 4h0M56 3h0M55 2h0M66 0h0M0 8h0M5 5h0M2 5h0M11 9h0M6 10h0M6 8h0M11 6h0M14 7h0M12 10h0M15 8h0M12 10h0M15 8h0M19 7h0M22 7h0M19 6h0M20 5h0M34 7h0M41 7h0M48 10h0M67 7h0M5 11h0M4 14h0M4 13h0M5 14h0M2 15h0M4 11h0M0 11h0M10 14h0M10 11h0M8 12h0M13 12h0M13 15h0M14 14h0M13 15h0M17 14h0M13 11h0M13 15h0M11 11h0M12 15h0M22 14h0M19 11h0M19 11h0M18 12h0M19 12h0M29 12h0M56 13h0M68 14h0M8 17h0M8 21h0M7 20h0M17 18h0M12 19h0M11 21h0M15 20h0M14 21h0M16 16h0M19 19h0M18 19h0M19 18h0M20 20h0M18 21h0M17 18h0M28 19h0M25 16h0M29 17h0M24 18h0M26 21h0M29 20h0M26 19h0M28 21h0M27 21h0M38 21h0M49 18h0M51 17h0M64 17h0M59 19h0M63 17h0M64 18h0M65 17h0M66 17h0M14 24h0M13 25h0M20 27h0M19 22h0M21 22h0M22 22h0M24 25h0M25 25h0M28 25h0M28 23h0M29 25h0M26 22h0M29 26h0M25 24h0M25 23h0M27 25h0M26 27h0M32 26h0M31 24h0M34 26h0M30 22h0M35 26h0M39 22h0M41 26h0M41 22h0M41 23h0M41 22h0M42 26h0M44 26h0M45 24h0M46 25h0M49 26h0M49 22h0M50 26h0M53 23h0M68 23h0M12 27h0M15 31h0M13 30h0M21 29h0M19 28h0M20 32h0M19 31h0M22 28h0M22 32h0M25 29h0M24 27h0M24 31h0M27 32h0M24 27h0M25 30h0M31 30h0M29 29h0M34 32h0M34 29h0M35 28h0M30 29h0M35 30h0M38 28h0M39 28h0M37 28h0M41 29h0M38 31h0M43 31h0M45 30h0M46 30h0M50 31h0M49 29h0M49 32h0M50 28h0M54 32h0M57 32h0M12 36h0M22 36h0M18 34h0M20 36h0M22 33h0M17 35h0M23 34h0M27 34h0M24 33h0M24 34h0M29 37h0M25 35h0M25 34h0M26 34h0M32 35h0M29 33h0M40 33h0M40 34h0M41 34h0M40 34h0M36 35h0M35 37h0M37 35h0M47 35h0M45 33h0M46 35h0M44 35h0M44 33h0M48 37h0M49 35h0M51 34h0M55 33h0M54 35h0M56 33h0M57 33h0M65 37h0M19 43h0M24 42h0M25 42h0M25 44h0M27 38h0M29 44h0M34 40h0M31 43h0M35 39h0M37 42h0M36 41h0M43 41h0M43 42h0M46 40h0M46 40h0M45 41h0M48 40h0M50 39h0M49 40h0M49 43h0M53 43h0M57 41h0M55 41h0M57 41h0M64 42h0M60 44h0M63 41h0M62 41h0M70 40h0M65 39h0M65 39h0M33 44h0M30 49h0M33 46h0M32 45h0M36 48h0M40 48h0M36 46h0M37 48h0M38 49h0M37 44h0M43 46h0M45 46h0M43 44h0M45 44h0M46 47h0M48 48h0M52 48h0M52 47h0M51 49h0M47 46h0M57 48h0M54 48h0M56 50h0M56 46h0M54 49h0M61 47h0M64 49h0M28 55h0M29 53h0M45 52h0M45 54h0M42 51h0M44 54h0M41 52h0M45 50h0M49 53h0M50 55h0M49 54h0M55 52h0M58 53h0M53 52h0M58 50h0M65 51h0M61 55h0M59 50h0M64 55h0M68 51h0M65 51h0M54 59h0M54 59h0M54 57h0M56 58h0M58 59h0M63 56h0M63 59h0M61 57h0M63 60h0M67 56h0M67 60h0M30 65h0M35 62h0M38 63h0M38 66h0M44 63h0M44 64h0M47 62h0M43 66h0M46 65h0M51 63h0M49 65h0M62 62h0M60 64h0M61 62h0M66 63h0M68 61h0M65 63h0M66 62h0M41 69h0M43 67h0M42 71h0M52 68h0M61 69h0M68 70h0M67 71h0M69 70h0M69 68h0M48 75h0M50 73h0M63 75h0M60 76h0"/>
<path transform="translate(1204.5 200.5)" d="M2 50h0M40 36h0M41 13h0M1 50h0M65 64h0M71 75h0M26 59h0M8 66h0M3 59h0M61 27h0M37 21h0M48 28h0M37 24h0M64 59h0M17 49h0M39 5h0M58 57h0M53 37h0M67 41h0M65 38h0M13 76h0M16 7h0M3 53h0M27 29h0M4 76h0M1 72h0M35 45h0M56 5h0M1 23h0M68 19h0M21 41h0M20 40h0M62 4h0M16 58h0M38 26h0M57 45h0M53 61h0M12 54h0M11 75h0M60 57h0M67 42h0M64 5h0M60 23h0M59 27h0M46 75h0M38 31h0M5 54h0M43 40h0M63 6h0M55 63h0M44 40h0M45 70h0M49 52h0M40 65h0M70 44h0M50 24h0M68 41h0M61 0h0M5 57h0M18 53h0M49 51h0M30 64h0M39 75h0M6 67h0M56 42h0M70 68h0M34 17h0M42 54h0M24 20h0M52 61h0M49 51h0M49 0h0M64 6h0M41 55h0M48 22h0M33 15h0M29 64h0M3 62h0M43 21h0M45 44h0M35 16h0M34 21h0M16 25h0M35 44h0M32 15h0M44 13h0M1 71h0M1 74h0M70 14h0M28 75h0M34 21h0M67 6h0M26 55h0M69 41h0M71 18h0M61 54h0M9 36h0M7 61h0M18 58h0M9 17h0M11 21h0M10 41h0M67 40h0M23 21h0M16 24h0M24 76h0M23 53h0M59 75h0M1 44h0M22 69h0M20 5h0M33 8h0M19 34h0M56 13h0M55 12h0M67 67h0M23 49h0M22 16h0M60 17h0M66 37h0M55 33h0M18 26h0M57 20h0M35 59h0M57 58h0M67 63h0M24 73h0M52 11h0M59 74h0M57 36h0M23 42h0M70 63h0M70 7h0M18 30h0M34 62h0M7 5h0M67 14h0M43 42h0M54 42h0M21 19h0M52 54h0M42 55h0M22 16h0M45 19h0M19 63h0M7 5h0M56 71h0M29 56h0M22 18h0M19 18h0M25 47h0M22 20h0M42 12h0M23 49h0M3 56h0M70 11h0M39 51h0M62 8h0M15 57h0M69 12h0M56 39h0M21 77h0M26 78h0M40 53h0M61 75h0M6 28h0M11 55h0M54 14h0M9 68h0M71 18h0M22 16h0M67 12h0M16 6h0M27 25h0M28 63h0M58 52h0M53 31h0M36 16h0M20 13h0M34 32h0M52 30h0M28 13h0M3 59h0M7 11h0M65 60h0M55 42h0M54 64h0M30 52h0M31 15h0M46 47h0M39 76h0M11 47h0M29 3h0M39 11h0M54 8h0M21 18h0M23 41h0M36 25h0M32 21h0M61 50h0M68 40h0M47 40h0M42 38h0M64 46h0M29 36h0M69 64h0M32 64h0M44 39h0M58 72h0M43 37h0M2 25h0M54 40h0M1 48h0M20 49h0M6 27h0M32 44h0M22 46h0M58 50h0M62 62h0M34 52h0M25 50h0M46 49h0M42 69h0M22 48h0M50 44h0M46 42h0M52 34h0M20 72h0M34 46h0M10 11h0M48 25h0M2 18h0M5 65h0M56 15h0M6 2h0M34 74h0M32 77h0M32 65h0M59 26h0M71 47h0M17 53h0M70 69h0M18 36h0M54 16h0M49 13h0M50 49h0M7 11h0M67 48h0M49 71h0M11 16h0M60 22h0M44 16h0M63 61h0M26 22h0M38 55h0M40 49h0M38 53h0M41 29h0M44 64h0M64 31h0M2 77h0M0 67h0M68 21h0M5 28h0M71 46h0M66 16h0M1 77h0M72 47h0M44 46h0M6 64h0M9 35h0M69 74h0M36 69h0M17 52h0M41 1h0M13 52h0M70 34h0M5 60h0M13 25h0M56 39h0M37 25h0M13 74h0M29 3h0M48 13h0M50 23h0M24 36h0M20 32h0M15 53h0M16 59h0M33 61h0M38 65h0M63 50h0M26 18h0M13 3h0M60 12h0M45 45h0M20 37h0M37 8h0M45 34h0M25 26h0M10 68h0M4 3h0M17 34h0M66 44h0M45 77h0M21 8h0M49 58h0M17 54h0M70 17h0M10 64h0M35 73h0M57 19h0M47 7h0M52 7h0M41 28h0M26 56h0M64 65h0M58 40h0M34 72h0M50 26h0M53 29h0M23 44h0M58 45h0M62 34h0M38 6h0M41 10h0M36 12h0M10 56h0M1 22h0M7 65h0M48 76h0M17 3h0M72 29h0M52 56h0M41 74h0M51 29h0M13 76h0M52 70h0M38 33h0M34 68h0"/>
<path transform="translate(76.5 320.5)" d="M0 18h0M0 71h0M0 18h0M0 29h0M1 47h0M1 78h0M1 74h0M1 72h0M1 75h0M2 43h0M2 74h0M2 49h0M2 47h0M2 36h0M3 66h0M3 53h0M3 16h0M3 74h0M4 50h0M4 47h0M4 50h0M4 75h0M4 5h0M5 38h0M5 49h0M5 60h0M5 78h0M5 52h0M5 22h0M6 3h0M6 46h0M6 45h0M6 11h0M6 5h0M7 34h0M7 63h0M7 63h0M7 56h0M7 28h0M8 57h0M8 31h0M8 69h0M8 12h0M9 60h0M9 40h0M9 46h0M9 51h0M9 75h0M9 45h0M10 41h0M10 26h0M10 49h0M10 1h0M10 34h0M11 47h0M11 20h0M11 60h0M11 76h0M12 34h0M12 11h0M12 40h0M12 18h0M12 8h0M12 8h0M13 70h0M13 11h0M13 14h0M13 14h0M13 33h0M14 36h0M14 36h0M14 32h0M14 2h0M14 3h0M15 67h0M15 50h0M15 22h0M15 51h0M16 0h0M16 20h0M16 42h0M16 50h0M16 20h0M17 53h0M17 73h0M17 31h0M17 78h0M17 77h0M18 67h0M18 5h0M18 5h0M18 50h0M18 35h0M19 47h0M19 20h0M19 43h0M19 1h0M19 72h0M20 9h0M20 31h0M20 22h0M20 16h0M20 6h0M21 13h0M21 32h0M21 33h0M21 39h0M21 46h0M22 18h0M22 30h0M22 66h0M22 32h0M22 31h0M23 68h0M23 47h0M23 32h0M23 42h0M23 73h0M24 13h0M24 62h0M24 50h0M24 6h0M24 24h0M25 75h0M25 31h0M25 5h0M25 22h0M25 49h0M26 18h0M26 66h0M26 43h0M26 43h0M27 79h0M27 11h0M27 54h0M27 57h0M27 11h0M27 74h0M28 12h0M28 65h0M28 60h0M28 70h0M28 6h0M28 22h0M29 55h0M29 15h0M29 7h0M29 51h0M29 15h0M30 45h0M30 9h0M30 50h0M30 32h0M31 26h0M31 36h0M31 73h0M31 35h0M31 27h0M32 27h0M32 68h0M32 60h0M32 74h0M32 76h0M33 18h0M33 17h0M33 14h0M33 42h0M33 74h0M34 75h0M34 66h0M34 10h0M34 65h0M34 55h0M35 12h0M35 56h0M35 38h0M35 76h0M35 51h0M36 29h0M36 29h0M36 14h0M36 2h0M36 69h0M37 45h0M37 29h0M37 58h0M37 44h0M37 73h0M38 34h0M38 23h0M38 24h0M38 47h0M38 9h0M39 63h0M39 45h0M39 34h0M39 52h0M40 40h0M40 37h0M40 21h0M40 3h0M40 33h0M40 51h0M41 65h0M41 76h0M41 4h0M41 76h0M41 34h0M42 70h0M42 2h0M42 4h0M42 8h0M43 31h0M43 42h0M43 42h0M43 73h0M43 40h0M43 54h0M44 56h0M44 46h0M44 36h0M44 73h0M45 36h0M45 58h0M45 75h0M45 45h0M45 59h0M46 25h0M46 21h0M46 3h0M46 70h0M46 72h0M47 18h0M47 66h0M47 32h0M47 13h0M47 0h0M47 34h0M48 40h0M48 55h0M48 8h0M48 64h0M48 53h0M49 10h0M49 45h0M49 42h0M49 41h0M49 72h0M50 56h0M50 60h0M50 3h0M50 55h0M51 66h0M51 46h0M51 47h0M51 75h0M51 49h0M52 16h0M52 4h0M52 65h0M52 52h0M52 74h0M53 19h0M53 1h0M53 36h0M53 65h0M53 23h0M54 38h0M54 42h0M54 43h0M54 41h0M54 78h0M55 48h0M55 1h0M55 16h0M55 28h0M56 0h0M56 69h0M56 49h0M56 9h0M56 20h0M56 7h0M57 37h0M57 61h0M57 62h0M57 11h0M57 23h0M58 57h0M58 78h0M58 40h0M58 21h0M59 17h0M59 77h0M59 48h0M59 9h0M59 35h0M59 39h0M60 31h0M60 5h0M60 61h0M60 1h0M60 78h0M61 73h0M61 10h0M61 46h0M61 36h0M61 70h0M62 39h0M62 73h0M62 48h0M62 27h0M62 71h0M63 60h0M63 33h0M63 3h0M63 18h0M63 16h0M64 21h0M64 25h0M64 31h0M64 24h0M65 10h0M65 72h0M65 4h0M65 7h0M65 76h0M65 41h0M66 15h0M66 19h0M66 47h0M66 55h0M67 30h0M67 51h0M67 21h0M67 59h0M67 14h0M68 54h0M68 3h0M68 66h0M68 17h0M68 18h0M68 3h0M69 20h0M69 50h0M69 15h0M69 40h0M69 20h0M70 31h0M70 12h0M70 20h0M70 61h0M71 46h0M71 61h0M71 53h0M71 76h0"/>
<path transform="translate(170.5 321.5)" d="M0 35h0M0 15h0M0 53h0M1 37h0M1 72h0M1 0h0M1 44h0M1 7h0M2 17h0M2 27h0M2 3h0M2 63h0M2 78h0M2 67h0M3 0h0M3 39h0M3 8h0M3 50h0M4 71h0M4 74h0M4 52h0M4 39h0M4 35h0M5 31h0M5 62h0M5 12h0M5 47h0M5 73h0M6 18h0M6 77h0M6 10h0M6 49h0M6 13h0M7 3h0M7 23h0M7 2h0M7 62h0M7 58h0M8 58h0M8 54h0M8 23h0M8 54h0M8 3h0M9 27h0M9 33h0M9 17h0M9 75h0M9 72h0M10 5h0M10 70h0M10 31h0M10 73h0M10 8h0M10 57h0M11 60h0M11 20h0M11 1h0M11 59h0M12 61h0M12 68h0M12 44h0M12 71h0M12 17h0M13 44h0M13 27h0M13 52h0M13 27h0M13 43h0M14 52h0M14 47h0M14 44h0M14 1h0M14 60h0M14 42h0M15 41h0M15 62h0M15 1h0M16 13h0M16 2h0M16 32h0M16 68h0M16 45h0M16 12h0M16 62h0M17 64h0M17 57h0M17 75h0M17 3h0M17 65h0M18 64h0M18 62h0M18 39h0M19 77h0M19 39h0M19 19h0M19 53h0M19 56h0M19 72h0M20 76h0M20 11h0M20 70h0M20 6h0M20 31h0M21 52h0M21 38h0M21 48h0M21 18h0M21 5h0M22 25h0M22 9h0M22 77h0M22 28h0M22 38h0M23 11h0M23 60h0M23 14h0M23 16h0M24 28h0M24 17h0M24 63h0M24 37h0M24 76h0M24 14h0M25 0h0M25 42h0M25 49h0M25 50h0M25 69h0M26 8h0M26 0h0M26 67h0M26 44h0M27 17h0M27 34h0M27 48h0M27 9h0M27 19h0M28 26h0M28 46h0M28 53h0M28 26h0M28 77h0M28 23h0M29 43h0M29 14h0M29 20h0M29 63h0M30 47h0M30 29h0M30 25h0M30 58h0M30 30h0M30 2h0M31 72h0M31 51h0M31 4h0M31 55h0M32 29h0M32 39h0M32 4h0M32 71h0M32 67h0M32 65h0M33 4h0M33 74h0M33 63h0M33 56h0M34 48h0M34 43h0M34 17h0M34 55h0M34 24h0M35 5h0M35 9h0M35 47h0M35 13h0M35 22h0M36 74h0M36 17h0M36 25h0M36 5h0M36 30h0M37 27h0M37 61h0M37 54h0M37 3h0M37 32h0M38 27h0M38 48h0M38 1h0M38 51h0M38 42h0M39 73h0M39 24h0M39 63h0M39 52h0M39 23h0M40 38h0M40 58h0M40 14h0M40 62h0M40 22h0M41 39h0M41 26h0M41 76h0M41 46h0M41 63h0M41 78h0M42 57h0M42 66h0M42 61h0M42 13h0M42 9h0M43 46h0M43 10h0M43 22h0M43 4h0M43 57h0M44 10h0M44 1h0M44 5h0M44 72h0M45 26h0M45 57h0M45 21h0M45 58h0M45 69h0M46 5h0M46 15h0M46 51h0M46 25h0M46 69h0M46 43h0M47 23h0M47 76h0M47 50h0M47 2h0M48 2h0M48 42h0M48 6h0M48 50h0M48 65h0M49 36h0M49 41h0M49 19h0M49 18h0M49 34h0M50 16h0M50 37h0M50 72h0M50 28h0M50 30h0M51 63h0M51 21h0M51 33h0M51 35h0M51 35h0M52 10h0M52 53h0M52 52h0M52 27h0M52 32h0M53 31h0M53 35h0M53 54h0M53 66h0M53 54h0M54 58h0M54 16h0M54 22h0M54 25h0M54 55h0M55 20h0M55 45h0M55 46h0M55 2h0M55 77h0M56 71h0M56 49h0M56 3h0M56 28h0M56 26h0M57 50h0M57 12h0M57 60h0M57 56h0M57 11h0M58 16h0M58 11h0M58 0h0M58 66h0M59 52h0M59 1h0M59 16h0M59 72h0M59 61h0M60 75h0M60 11h0M60 58h0M60 22h0M60 49h0M60 39h0M61 21h0M61 37h0M61 55h0M61 9h0M61 46h0M62 44h0M62 59h0M62 73h0M62 34h0M63 45h0M63 62h0M63 51h0M63 46h0M63 17h0M63 31h0M64 69h0M64 16h0M64 1h0M64 65h0M65 65h0M65 46h0M65 75h0M65 24h0M65 25h0M66 38h0M66 60h0M66 30h0M66 27h0M66 46h0M66 51h0M67 23h0M67 52h0M67 55h0M67 78h0M68 49h0M68 53h0M68 11h0M68 56h0M68 53h0M69 20h0M69 72h0M69 43h0M69 12h0M69 55h0M70 51h0M70 19h0M70 62h0M70 46h0M70 62h0M70 19h0M71 28h0M71 68h0M71 12h0"/>
<path transform="translate(358.5 321.5)" d="M0 38h0M0 9h0M0 52h0M1 17h0M1 72h0M1 23h0M1 35h0M1 40h0M2 33h0M2 70h0M2 48h0M2 69h0M2 16h0M3 23h0M3 61h0M3 45h0M3 23h0M3 0h0M4 42h0M4 51h0M4 73h0M4 67h0M4 70h0M5 66h0M5 70h0M5 47h0M5 32h0M5 29h0M6 1h0M6 64h0M6 67h0M6 62h0M6 61h0M7 47h0M7 26h0M7 21h0M7 58h0M7 74h0M8 3h0M8 66h0M8 76h0M8 39h0M9 51h0M9 62h0M9 32h0M9 30h0M9 20h0M10 64h0M10 1h0M10 40h0M10 22h0M10 48h0M10 2h0M11 39h0M11 2h0M11 33h0M11 55h0M12 45h0M12 35h0M12 70h0M12 49h0M12 23h0M12 42h0M13 46h0M13 76h0M13 57h0M13 49h0M13 49h0M14 14h0M14 10h0M14 5h0M14 5h0M14 52h0M15 44h0M15 16h0M15 13h0M15 43h0M15 45h0M16 41h0M16 42h0M16 10h0M16 61h0M16 31h0M17 48h0M17 38h0M17 17h0M17 51h0M17 55h0M18 58h0M18 53h0M18 34h0M18 67h0M18 28h0M19 18h0M19 70h0M19 38h0M19 78h0M20 11h0M20 29h0M20 55h0M20 49h0M20 9h0M21 50h0M21 55h0M21 9h0M21 55h0M21 46h0M21 48h0M22 48h0M22 25h0M22 35h0M22 5h0M22 13h0M23 3h0M23 45h0M23 26h0M23 32h0M24 22h0M24 34h0M24 2h0M24 70h0M24 10h0M24 23h0M25 10h0M25 18h0M25 64h0M25 14h0M25 58h0M26 24h0M26 34h0M26 29h0M26 6h0M27 33h0M27 6h0M27 14h0M27 59h0M27 40h0M27 32h0M28 3h0M28 35h0M28 18h0M28 10h0M28 33h0M29 64h0M29 24h0M29 43h0M29 56h0M30 12h0M30 66h0M30 43h0M30 44h0M30 66h0M30 45h0M31 20h0M31 74h0M31 65h0M31 6h0M31 56h0M32 59h0M32 21h0M32 36h0M32 18h0M33 8h0M33 51h0M33 16h0M33 46h0M33 52h0M34 28h0M34 26h0M34 49h0M34 64h0M34 67h0M35 41h0M35 38h0M35 3h0M35 73h0M35 43h0M35 61h0M36 32h0M36 48h0M36 51h0M36 37h0M37 68h0M37 63h0M37 47h0M37 59h0M37 15h0M38 6h0M38 25h0M38 60h0M38 45h0M38 62h0M39 76h0M39 13h0M39 56h0M39 3h0M40 59h0M40 51h0M40 57h0M40 54h0M40 53h0M40 26h0M41 71h0M41 34h0M41 69h0M41 47h0M42 26h0M42 39h0M42 57h0M42 63h0M42 29h0M42 40h0M43 18h0M43 22h0M43 63h0M43 69h0M44 47h0M44 4h0M44 26h0M44 28h0M44 10h0M44 58h0M45 74h0M45 50h0M45 42h0M45 66h0M45 52h0M46 18h0M46 34h0M46 6h0M46 45h0M46 13h0M47 61h0M47 69h0M47 42h0M47 61h0M48 0h0M48 50h0M48 58h0M48 46h0M48 55h0M48 45h0M49 67h0M49 47h0M49 77h0M49 45h0M49 29h0M50 74h0M50 62h0M50 29h0M50 22h0M50 50h0M51 55h0M51 62h0M51 35h0M51 32h0M52 78h0M51 76h0M52 28h0M52 50h0M52 1h0M53 44h0M53 56h0M53 38h0M53 46h0M53 36h0M54 42h0M54 73h0M54 46h0M54 76h0M54 3h0M55 31h0M55 54h0M55 14h0M55 34h0M55 47h0M56 40h0M56 17h0M56 43h0M56 65h0M56 67h0M56 48h0M57 5h0M57 58h0M57 48h0M57 66h0M57 26h0M58 49h0M58 48h0M58 38h0M58 1h0M59 32h0M59 6h0M59 57h0M59 35h0M59 56h0M60 7h0M60 1h0M60 38h0M60 0h0M60 53h0M61 71h0M61 0h0M61 53h0M61 11h0M61 49h0M61 67h0M62 17h0M62 0h0M62 29h0M62 29h0M63 22h0M63 55h0M63 20h0M63 48h0M63 33h0M64 54h0M64 5h0M64 2h0M64 29h0M65 78h0M65 56h0M65 50h0M65 27h0M65 42h0M65 45h0M66 19h0M66 50h0M66 43h0M66 33h0M66 50h0M67 5h0M67 28h0M67 11h0M67 54h0M68 54h0M68 13h0M68 9h0M68 34h0M68 18h0M68 23h0M69 3h0M69 47h0M69 5h0M69 64h0M70 35h0M70 39h0M70 4h0M70 2h0M70 40h0M70 73h0M71 43h0M71 7h0M71 73h0M71 33h0"/>
<path transform="translate(452.5 321.5)" d="M0 26h0M0 64h0M1 71h0M1 41h0M1 44h0M1 65h0M1 61h0M1 60h0M2 63h0M2 77h0M2 57h0M2 56h0M3 62h0M3 65h0M3 5h0M3 27h0M3 52h0M4 73h0M4 76h0M4 47h0M4 53h0M4 40h0M4 2h0M5 27h0M5 42h0M5 36h0M5 21h0M5 30h0M6 32h0M6 57h0M6 63h0M6 19h0M7 40h0M7 50h0M7 21h0M7 26h0M7 2h0M7 30h0M8 51h0M8 8h0M8 22h0M8 1h0M9 58h0M9 41h0M9 55h0M9 19h0M9 75h0M10 78h0M10 37h0M10 5h0M10 46h0M10 56h0M10 49h0M11 37h0M11 44h0M11 53h0M11 41h0M12 68h0M12 50h0M12 50h0M12 19h0M12 65h0M13 37h0M13 1h0M13 61h0M13 47h0M13 51h0M14 56h0M14 53h0M14 62h0M14 36h0M14 43h0M14 66h0M15 42h0M15 39h0M15 20h0M15 49h0M16 15h0M16 45h0M16 32h0M16 71h0M16 58h0M17 13h0M17 13h0M17 47h0M17 73h0M17 52h0M17 18h0M18 22h0M18 54h0M18 43h0M18 22h0M18 67h0M19 32h0M19 72h0M19 4h0M19 70h0M20 62h0M20 9h0M20 23h0M20 62h0M20 2h0M21 73h0M21 42h0M21 36h0M21 22h0M21 14h0M22 21h0M22 19h0M22 67h0M22 15h0M22 32h0M23 46h0M23 19h0M23 20h0M23 4h0M24 28h0M24 0h0M24 54h0M24 69h0M24 7h0M24 55h0M25 41h0M25 33h0M25 66h0M25 67h0M25 27h0M25 32h0M26 71h0M26 61h0M26 65h0M26 50h0M27 61h0M27 39h0M27 26h0M27 11h0M27 33h0M28 44h0M28 32h0M28 75h0M28 9h0M28 10h0M29 17h0M29 12h0M29 36h0M29 37h0M29 54h0M30 41h0M30 37h0M30 29h0M30 7h0M30 44h0M31 38h0M31 19h0M31 19h0M31 23h0M31 34h0M32 61h0M32 72h0M32 59h0M32 75h0M32 62h0M33 63h0M33 41h0M33 41h0M33 74h0M33 2h0M34 22h0M34 28h0M34 8h0M34 62h0M35 77h0M35 16h0M35 30h0M35 65h0M35 74h0M36 33h0M36 39h0M36 15h0M36 25h0M36 50h0M36 38h0M37 24h0M37 58h0M37 78h0M37 66h0M37 39h0M38 34h0M38 26h0M38 18h0M38 12h0M39 7h0M39 8h0M39 65h0M39 59h0M39 43h0M39 0h0M40 69h0M40 70h0M40 74h0M40 75h0M40 0h0M41 36h0M41 9h0M41 62h0M41 57h0M41 52h0M42 2h0M42 1h0M42 51h0M42 2h0M42 32h0M43 48h0M43 67h0M43 12h0M43 63h0M44 58h0M44 43h0M44 63h0M44 36h0M44 77h0M44 4h0M45 67h0M45 74h0M45 14h0M45 27h0M46 55h0M46 75h0M46 36h0M46 43h0M46 65h0M46 30h0M46 69h0M47 12h0M47 36h0M47 51h0M47 16h0M48 1h0M48 4h0M48 66h0M48 3h0M49 38h0M49 30h0M49 19h0M49 36h0M49 69h0M50 22h0M50 14h0M50 12h0M50 43h0M50 40h0M51 69h0M51 27h0M51 53h0M51 46h0M51 3h0M51 51h0M52 24h0M52 48h0M52 3h0M52 13h0M52 70h0M53 53h0M53 11h0M53 47h0M53 62h0M54 6h0M54 19h0M54 49h0M54 29h0M54 7h0M55 49h0M55 64h0M55 33h0M55 37h0M56 59h0M56 18h0M56 61h0M56 16h0M56 53h0M57 44h0M57 60h0M57 24h0M57 52h0M57 75h0M57 0h0M58 11h0M58 47h0M58 0h0M58 48h0M58 58h0M59 4h0M59 6h0M59 44h0M59 46h0M59 55h0M60 63h0M60 8h0M60 27h0M60 21h0M60 32h0M61 37h0M61 3h0M61 41h0M61 77h0M61 26h0M62 43h0M62 7h0M62 11h0M62 68h0M62 12h0M63 26h0M63 45h0M63 70h0M63 26h0M63 70h0M63 72h0M64 4h0M64 17h0M64 52h0M64 61h0M65 41h0M65 57h0M65 71h0M65 42h0M66 41h0M66 36h0M66 8h0M66 75h0M66 2h0M66 77h0M67 55h0M67 71h0M67 16h0M67 66h0M67 48h0M68 55h0M68 50h0M68 47h0M68 43h0M69 8h0M69 34h0M69 31h0M69 60h0M69 68h0M70 18h0M70 35h0M70 34h0M70 4h0M70 52h0M71 56h0M71 30h0M71 14h0M71 17h0M71 22h0"/>
<path transform="translate(546.5 321.5)" d="M0 68h0M0 21h0M1 19h0M1 14h0M1 28h0M1 12h0M1 7h0M1 2h0M2 45h0M2 76h0M2 69h0M2 50h0M2 62h0M3 7h0M3 44h0M3 31h0M3 72h0M4 55h0M4 51h0M4 3h0M4 65h0M4 36h0M5 68h0M5 68h0M5 61h0M5 15h0M5 77h0M6 56h0M5 35h0M6 6h0M6 4h0M6 76h0M7 25h0M7 15h0M7 35h0M7 21h0M7 40h0M8 21h0M8 60h0M8 30h0M8 21h0M8 45h0M9 43h0M9 67h0M9 0h0M9 70h0M9 41h0M9 21h0M10 68h0M10 38h0M10 76h0M10 46h0M11 70h0M11 66h0M11 55h0M11 35h0M11 10h0M11 30h0M12 29h0M12 72h0M12 35h0M12 1h0M12 5h0M13 37h0M13 19h0M13 47h0M13 6h0M14 40h0M14 19h0M14 61h0M14 14h0M14 36h0M14 26h0M15 57h0M15 59h0M15 72h0M15 63h0M16 8h0M16 74h0M16 53h0M16 24h0M16 76h0M17 39h0M17 10h0M17 25h0M17 21h0M17 11h0M17 54h0M18 11h0M18 1h0M18 9h0M18 56h0M19 5h0M19 41h0M19 4h0M19 6h0M19 15h0M20 5h0M20 74h0M20 14h0M20 73h0M21 76h0M21 78h0M21 37h0M21 47h0M21 47h0M22 69h0M22 2h0M22 22h0M22 61h0M22 35h0M22 33h0M23 11h0M23 44h0M23 37h0M23 1h0M23 47h0M24 31h0M24 68h0M24 46h0M24 47h0M24 23h0M25 49h0M25 5h0M25 73h0M25 28h0M25 51h0M26 36h0M26 40h0M26 48h0M26 65h0M26 77h0M27 37h0M27 46h0M27 8h0M27 3h0M28 60h0M27 40h0M28 14h0M28 32h0M28 55h0M28 37h0M29 71h0M29 1h0M29 57h0M29 32h0M29 71h0M30 58h0M30 8h0M30 3h0M30 31h0M30 5h0M31 27h0M31 76h0M31 28h0M31 16h0M31 71h0M32 61h0M32 37h0M32 42h0M32 47h0M33 67h0M33 38h0M33 61h0M33 60h0M33 7h0M34 32h0M34 35h0M34 28h0M34 40h0M34 7h0M35 1h0M35 69h0M35 68h0M35 30h0M35 53h0M35 46h0M36 77h0M36 34h0M36 76h0M36 23h0M36 66h0M37 51h0M37 61h0M37 39h0M37 46h0M37 30h0M38 59h0M38 67h0M38 21h0M38 69h0M39 67h0M39 56h0M39 61h0M39 44h0M39 19h0M39 26h0M40 73h0M40 61h0M40 51h0M40 66h0M41 40h0M41 8h0M41 2h0M41 45h0M41 32h0M42 8h0M42 32h0M42 12h0M42 15h0M42 17h0M42 45h0M43 0h0M43 3h0M43 50h0M43 16h0M44 31h0M44 8h0M44 73h0M44 9h0M44 49h0M45 78h0M45 0h0M45 55h0M45 62h0M45 68h0M46 68h0M46 40h0M46 57h0M46 36h0M46 24h0M47 47h0M47 20h0M47 28h0M47 45h0M47 61h0M48 53h0M48 18h0M48 56h0M48 74h0M48 74h0M49 21h0M49 35h0M49 74h0M49 61h0M49 67h0M50 68h0M50 53h0M50 9h0M50 64h0M50 2h0M51 8h0M51 34h0M51 61h0M51 64h0M51 58h0M52 77h0M52 56h0M52 1h0M52 34h0M53 55h0M53 7h0M53 57h0M53 24h0M53 24h0M53 37h0M54 49h0M54 32h0M54 54h0M54 3h0M54 10h0M55 18h0M55 71h0M55 45h0M55 59h0M55 2h0M56 71h0M56 10h0M56 4h0M56 39h0M57 6h0M57 7h0M57 30h0M57 31h0M57 74h0M58 24h0M58 31h0M58 47h0M58 54h0M58 68h0M58 5h0M59 35h0M59 16h0M59 52h0M59 39h0M59 42h0M60 28h0M60 3h0M60 51h0M60 5h0M60 48h0M61 76h0M61 1h0M61 60h0M61 1h0M62 33h0M62 40h0M62 57h0M62 55h0M62 18h0M62 65h0M63 55h0M63 73h0M63 27h0M63 4h0M63 41h0M64 18h0M64 0h0M64 59h0M64 48h0M64 7h0M65 68h0M65 41h0M65 73h0M65 44h0M66 28h0M65 72h0M66 18h0M66 58h0M66 9h0M66 23h0M67 2h0M67 2h0M67 69h0M67 10h0M67 17h0M68 59h0M68 66h0M68 39h0M68 59h0M68 29h0M69 76h0M69 42h0M69 2h0M69 31h0M69 46h0M70 49h0M70 13h0M70 53h0M70 33h0M71 9h0M71 67h0M71 21h0M71 0h0M71 26h0"/>
<path transform="translate(640.5 322.5)" d="M0 25h0M0 59h0M1 30h0M1 11h0M1 41h0M1 53h0M2 19h0M2 76h0M2 59h0M2 26h0M2 8h0M2 8h0M3 35h0M3 61h0M3 25h0M3 31h0M3 10h0M3 49h0M4 10h0M4 16h0M4 4h0M4 71h0M5 61h0M5 20h0M5 55h0M5 1h0M5 40h0M5 0h0M6 11h0M6 56h0M6 55h0M6 46h0M7 5h0M7 77h0M7 53h0M7 69h0M7 27h0M8 29h0M8 55h0M8 34h0M8 0h0M8 19h0M8 55h0M9 40h0M9 1h0M9 12h0M9 75h0M10 30h0M10 61h0M10 63h0M10 58h0M10 77h0M10 54h0M11 38h0M11 54h0M11 7h0M11 67h0M12 46h0M12 3h0M12 18h0M12 48h0M12 44h0M13 43h0M13 63h0M13 25h0M13 45h0M13 44h0M14 50h0M14 59h0M14 76h0M14 69h0M15 17h0M15 0h0M15 33h0M15 44h0M15 31h0M15 53h0M16 27h0M16 72h0M16 63h0M16 71h0M17 26h0M17 28h0M17 3h0M17 26h0M17 57h0M18 20h0M18 34h0M18 10h0M18 3h0M18 24h0M18 51h0M19 36h0M19 3h0M19 46h0M19 30h0M20 72h0M20 27h0M20 7h0M20 42h0M20 64h0M21 32h0M20 74h0M21 25h0M21 55h0M21 44h0M21 39h0M22 22h0M22 24h0M22 36h0M22 33h0M22 12h0M23 74h0M23 36h0M23 9h0M23 61h0M24 1h0M24 13h0M24 22h0M24 39h0M24 48h0M24 22h0M25 23h0M25 33h0M25 52h0M25 55h0M25 57h0M26 51h0M26 66h0M26 67h0M26 65h0M27 67h0M27 62h0M27 37h0M27 51h0M27 62h0M27 34h0M28 51h0M28 61h0M28 58h0M28 5h0M29 48h0M29 69h0M29 32h0M29 72h0M29 35h0M29 12h0M30 57h0M30 43h0M30 3h0M30 7h0M31 7h0M31 21h0M31 5h0M31 58h0M31 3h0M32 70h0M32 1h0M32 71h0M32 25h0M32 2h0M33 59h0M33 52h0M33 22h0M33 26h0M33 64h0M33 30h0M34 3h0M34 64h0M34 68h0M34 76h0M34 35h0M35 62h0M35 15h0M35 38h0M35 45h0M35 46h0M36 8h0M36 74h0M36 61h0M36 60h0M36 67h0M37 35h0M37 0h0M37 40h0M37 55h0M37 29h0M38 36h0M38 26h0M38 62h0M38 77h0M39 7h0M39 49h0M39 63h0M39 32h0M39 64h0M40 77h0M40 34h0M40 32h0M40 41h0M40 3h0M40 2h0M41 59h0M41 38h0M41 52h0M41 14h0M42 9h0M42 74h0M42 53h0M42 57h0M42 46h0M43 66h0M43 43h0M43 67h0M43 48h0M44 65h0M44 14h0M44 34h0M44 22h0M44 43h0M44 14h0M45 73h0M45 75h0M45 45h0M45 75h0M45 25h0M46 54h0M46 46h0M46 1h0M46 66h0M46 33h0M47 0h0M47 64h0M47 29h0M47 25h0M47 17h0M47 68h0M48 18h0M48 52h0M48 44h0M48 62h0M49 22h0M49 75h0M49 20h0M49 16h0M49 59h0M50 8h0M50 62h0M50 67h0M50 48h0M50 11h0M51 71h0M51 22h0M51 10h0M51 74h0M51 63h0M52 75h0M52 20h0M52 23h0M52 12h0M52 56h0M53 74h0M53 22h0M53 7h0M53 27h0M53 52h0M54 40h0M54 44h0M54 66h0M54 17h0M55 3h0M55 76h0M55 16h0M55 11h0M55 0h0M56 42h0M56 1h0M56 69h0M56 68h0M56 22h0M57 71h0M57 35h0M57 14h0M57 62h0M57 38h0M58 19h0M58 17h0M58 40h0M58 0h0M58 21h0M58 20h0M59 69h0M59 29h0M59 0h0M59 70h0M59 46h0M60 65h0M60 10h0M60 77h0M60 76h0M61 58h0M61 46h0M61 68h0M61 26h0M61 49h0M61 69h0M62 54h0M62 22h0M62 36h0M62 35h0M62 72h0M63 69h0M63 14h0M63 12h0M63 4h0M64 74h0M64 30h0M64 72h0M64 0h0M64 15h0M64 58h0M65 69h0M65 52h0M65 7h0M65 76h0M66 12h0M66 0h0M66 76h0M66 11h0M66 4h0M67 5h0M67 36h0M67 62h0M67 60h0M67 68h0M67 22h0M68 75h0M68 33h0M68 66h0M68 41h0M69 3h0M69 11h0M69 70h0M69 66h0M69 40h0M69 1h0M70 12h0M70 11h0M70 9h0M71 76h0M71 47h0M71 36h0M71 43h0M71 15h0M71 33h0"/>
<path transform="translate(734.5 321.5)" d="M0 66h0M0 19h0M0 17h0M1 28h0M1 76h0M1 8h0M1 47h0M1 71h0M2 53h0M2 33h0M2 51h0M2 12h0M2 52h0M3 49h0M3 12h0M3 13h0M3 1h0M4 59h0M4 60h0M4 19h0M4 13h0M4 5h0M5 45h0M5 29h0M5 35h0M5 22h0M5 23h0M6 46h0M6 45h0M6 32h0M6 27h0M6 5h0M7 57h0M7 49h0M7 59h0M7 18h0M7 60h0M8 71h0M8 72h0M8 56h0M8 50h0M8 7h0M9 66h0M9 68h0M9 13h0M9 61h0M10 56h0M10 14h0M10 58h0M10 46h0M10 64h0M10 52h0M11 56h0M11 27h0M11 71h0M11 73h0M11 20h0M12 38h0M12 15h0M12 63h0M12 17h0M12 65h0M13 44h0M13 46h0M13 2h0M13 28h0M13 16h0M14 33h0M14 7h0M14 61h0M14 63h0M15 41h0M15 34h0M15 68h0M15 59h0M15 62h0M16 19h0M16 27h0M16 75h0M16 7h0M16 37h0M16 60h0M17 50h0M17 30h0M17 71h0M17 32h0M17 25h0M18 42h0M18 50h0M18 67h0M18 33h0M18 25h0M19 6h0M19 75h0M19 56h0M19 50h0M19 24h0M20 16h0M20 36h0M20 66h0M20 42h0M21 16h0M21 28h0M21 35h0M21 5h0M21 23h0M22 11h0M22 9h0M22 17h0M22 64h0M22 62h0M22 29h0M23 70h0M23 14h0M23 72h0M23 54h0M24 47h0M24 63h0M24 74h0M24 52h0M24 22h0M25 38h0M25 52h0M25 32h0M25 23h0M25 59h0M26 10h0M26 18h0M26 57h0M26 32h0M26 78h0M26 45h0M27 1h0M27 68h0M27 53h0M27 33h0M28 68h0M28 41h0M28 50h0M28 42h0M28 41h0M28 50h0M29 50h0M29 17h0M29 34h0M29 11h0M29 34h0M30 65h0M30 52h0M30 64h0M30 19h0M30 52h0M31 59h0M31 17h0M31 56h0M31 16h0M31 42h0M32 35h0M32 54h0M32 19h0M33 46h0M32 70h0M33 39h0M33 27h0M33 63h0M34 67h0M34 14h0M34 6h0M34 16h0M34 59h0M35 49h0M35 24h0M35 63h0M35 18h0M35 11h0M36 13h0M36 56h0M36 67h0M36 54h0M36 52h0M36 61h0M37 35h0M37 4h0M37 36h0M37 43h0M38 30h0M38 2h0M38 23h0M38 41h0M38 66h0M38 26h0M39 25h0M39 47h0M39 65h0M39 45h0M39 8h0M40 62h0M40 49h0M40 51h0M40 19h0M40 68h0M41 42h0M41 63h0M41 71h0M41 73h0M42 71h0M42 27h0M42 66h0M42 45h0M42 54h0M43 40h0M43 47h0M43 35h0M43 8h0M43 53h0M43 13h0M44 59h0M44 46h0M44 10h0M44 58h0M44 34h0M44 58h0M45 74h0M45 66h0M45 33h0M45 76h0M46 27h0M46 41h0M46 8h0M46 69h0M46 22h0M47 69h0M47 46h0M47 34h0M47 3h0M48 43h0M48 68h0M48 27h0M48 43h0M48 3h0M48 8h0M49 56h0M49 49h0M49 61h0M49 49h0M49 76h0M50 20h0M50 67h0M50 32h0M50 15h0M51 77h0M51 47h0M51 17h0M51 0h0M51 27h0M52 29h0M52 0h0M52 77h0M52 55h0M52 39h0M52 56h0M52 45h0M53 24h0M53 48h0M53 16h0M54 14h0M54 5h0M54 34h0M54 74h0M54 60h0M54 1h0M55 16h0M55 22h0M55 13h0M55 15h0M56 57h0M56 38h0M56 3h0M56 33h0M56 73h0M57 54h0M57 50h0M57 63h0M57 78h0M57 77h0M57 52h0M58 28h0M58 67h0M58 28h0M58 47h0M59 2h0M59 26h0M59 69h0M59 63h0M59 49h0M59 53h0M60 55h0M60 76h0M60 53h0M60 52h0M60 16h0M61 27h0M61 26h0M61 74h0M61 24h0M61 11h0M62 70h0M62 10h0M62 18h0M62 35h0M63 44h0M63 77h0M63 8h0M63 50h0M63 34h0M64 2h0M64 77h0M64 64h0M64 48h0M64 45h0M64 61h0M65 78h0M65 49h0M65 33h0M65 70h0M65 35h0M66 73h0M66 33h0M66 57h0M66 62h0M67 29h0M67 76h0M67 45h0M67 65h0M67 58h0M68 45h0M68 1h0M68 19h0M68 12h0M68 13h0M69 33h0M69 52h0M69 77h0M69 7h0M69 28h0M70 42h0M70 55h0M70 55h0M70 65h0M70 45h0M71 61h0M71 49h0M71 75h0M71 0h0M71 27h0"/>
<path transform="translate(828.5 320.5)" d="M0 73h0M0 43h0M1 68h0M1 50h0M1 23h0M1 78h0M1 45h0M2 11h0M2 25h0M2 55h0M2 16h0M3 27h0M3 32h0M3 26h0M3 20h0M3 65h0M3 67h0M4 9h0M4 31h0M4 51h0M4 8h0M5 24h0M5 31h0M5 74h0M5 45h0M5 67h0M5 12h0M6 7h0M6 64h0M6 38h0M6 1h0M6 72h0M7 47h0M7 70h0M7 22h0M7 44h0M7 19h0M8 63h0M8 43h0M8 5h0M8 58h0M8 17h0M9 16h0M9 78h0M9 16h0M9 71h0M9 6h0M10 50h0M10 44h0M10 19h0M10 44h0M11 1h0M11 16h0M11 25h0M11 75h0M11 60h0M12 75h0M12 43h0M12 31h0M12 7h0M12 31h0M12 67h0M13 29h0M13 42h0M13 15h0M13 54h0M14 28h0M14 74h0M14 51h0M14 0h0M14 32h0M15 47h0M15 9h0M15 74h0M15 60h0M15 76h0M16 72h0M16 1h0M16 61h0M16 18h0M16 46h0M16 3h0M17 73h0M17 71h0M17 43h0M17 1h0M18 21h0M18 35h0M18 25h0M18 36h0M18 45h0M19 32h0M19 73h0M19 14h0M19 74h0M19 59h0M20 76h0M20 70h0M20 9h0M20 53h0M20 13h0M21 27h0M21 68h0M21 61h0M21 58h0M21 30h0M22 31h0M22 30h0M22 3h0M22 3h0M22 21h0M23 59h0M23 60h0M23 14h0M23 18h0M23 64h0M24 43h0M24 51h0M24 42h0M24 33h0M24 43h0M25 24h0M25 16h0M25 24h0M25 74h0M26 43h0M25 15h0M26 68h0M26 34h0M26 57h0M26 56h0M27 33h0M27 75h0M27 68h0M27 5h0M27 41h0M28 3h0M28 35h0M28 27h0M28 1h0M29 50h0M29 75h0M29 41h0M29 72h0M29 54h0M30 32h0M30 14h0M30 77h0M30 16h0M30 1h0M30 14h0M31 4h0M31 50h0M31 62h0M31 49h0M32 73h0M32 8h0M32 36h0M32 32h0M32 15h0M33 62h0M33 6h0M33 37h0M33 19h0M33 51h0M33 40h0M34 47h0M34 32h0M34 70h0M34 47h0M35 51h0M35 60h0M35 28h0M35 3h0M35 16h0M35 3h0M36 44h0M36 48h0M36 34h0M36 63h0M36 16h0M36 55h0M37 21h0M37 53h0M37 77h0M37 73h0M38 47h0M38 38h0M38 15h0M38 36h0M38 64h0M39 52h0M39 77h0M39 62h0M39 74h0M39 50h0M40 36h0M40 47h0M40 22h0M40 15h0M40 16h0M41 18h0M41 36h0M41 65h0M41 12h0M42 54h0M42 64h0M42 37h0M42 62h0M42 38h0M42 20h0M43 1h0M43 53h0M43 23h0M43 8h0M44 49h0M43 52h0M44 2h0M44 62h0M44 61h0M45 66h0M45 79h0M45 43h0M45 74h0M45 65h0M45 31h0M46 68h0M46 51h0M46 70h0M47 20h0M46 31h0M47 7h0M47 24h0M47 30h0M47 66h0M47 78h0M48 72h0M48 12h0M48 35h0M48 53h0M48 78h0M49 3h0M49 4h0M49 15h0M49 27h0M50 10h0M50 67h0M50 19h0M50 7h0M50 10h0M51 40h0M51 51h0M51 32h0M51 40h0M51 55h0M52 74h0M52 1h0M52 28h0M52 28h0M52 18h0M52 39h0M53 63h0M53 48h0M53 73h0M53 79h0M54 51h0M54 51h0M54 61h0M54 12h0M54 72h0M55 19h0M55 49h0M55 9h0M55 46h0M55 40h0M56 2h0M56 24h0M56 62h0M56 28h0M56 79h0M57 60h0M57 61h0M57 68h0M57 23h0M57 66h0M58 28h0M58 24h0M58 52h0M58 63h0M58 68h0M59 44h0M59 43h0M59 27h0M59 43h0M59 3h0M60 53h0M60 21h0M60 67h0M60 46h0M60 66h0M61 29h0M61 48h0M61 19h0M61 22h0M61 37h0M61 60h0M62 39h0M62 71h0M62 41h0M62 60h0M63 67h0M63 11h0M63 62h0M63 42h0M64 21h0M64 63h0M64 30h0M64 60h0M64 15h0M64 14h0M65 13h0M65 40h0M65 10h0M65 23h0M65 60h0M66 18h0M66 9h0M66 4h0M66 48h0M66 16h0M67 51h0M67 8h0M67 47h0M67 23h0M67 51h0M68 59h0M68 49h0M68 68h0M68 26h0M68 28h0M69 78h0M69 16h0M69 71h0M69 53h0M69 63h0M70 20h0M70 20h0M70 41h0M70 79h0M70 56h0M71 47h0M71 49h0M71 12h0M71 29h0M72 73h0"/>
<path transform="translate(922.5 321.5)" d="M0 30h0M0 38h0M1 51h0M1 59h0M1 48h0M1 24h0M1 70h0M2 74h0M2 13h0M2 25h0M2 74h0M2 26h0M3 60h0M3 8h0M3 45h0M3 40h0M3 34h0M4 1h0M4 7h0M4 23h0M4 4h0M4 21h0M5 17h0M5 29h0M5 47h0M5 13h0M5 19h0M6 58h0M6 24h0M6 18h0M6 70h0M6 48h0M7 64h0M7 11h0M7 0h0M7 1h0M7 29h0M8 71h0M8 20h0M8 7h0M8 74h0M8 63h0M9 45h0M9 31h0M9 48h0M9 5h0M10 58h0M10 70h0M10 19h0M10 38h0M10 23h0M11 58h0M11 8h0M11 21h0M11 59h0M11 53h0M12 3h0M12 26h0M12 46h0M12 52h0M12 2h0M12 41h0M13 19h0M13 45h0M13 3h0M14 73h0M14 9h0M14 74h0M14 17h0M14 71h0M14 0h0M15 40h0M15 54h0M15 31h0M15 46h0M15 37h0M16 72h0M16 3h0M16 11h0M16 14h0M16 74h0M17 38h0M17 2h0M17 21h0M17 26h0M17 11h0M18 29h0M18 61h0M18 63h0M18 72h0M18 46h0M19 51h0M19 2h0M19 63h0M19 56h0M19 21h0M20 2h0M20 30h0M20 10h0M20 58h0M20 35h0M21 58h0M21 42h0M21 77h0M21 17h0M22 65h0M22 70h0M22 1h0M22 5h0M22 32h0M22 27h0M23 0h0M23 56h0M23 71h0M23 18h0M23 34h0M24 59h0M24 1h0M24 21h0M24 13h0M24 64h0M25 69h0M25 63h0M25 36h0M25 74h0M25 31h0M26 63h0M26 55h0M26 2h0M26 33h0M26 77h0M27 71h0M27 26h0M27 42h0M27 68h0M28 36h0M28 39h0M28 63h0M28 63h0M28 19h0M29 12h0M29 61h0M29 20h0M29 16h0M29 5h0M29 38h0M29 17h0M30 74h0M30 19h0M30 68h0M30 8h0M31 43h0M31 62h0M31 12h0M31 39h0M31 39h0M32 13h0M32 0h0M32 20h0M32 44h0M32 43h0M33 60h0M33 32h0M33 17h0M33 29h0M34 41h0M34 29h0M34 65h0M34 25h0M34 39h0M34 64h0M35 2h0M35 18h0M35 39h0M35 63h0M35 45h0M36 36h0M36 63h0M36 42h0M36 16h0M36 6h0M37 73h0M37 73h0M37 13h0M37 46h0M38 54h0M38 55h0M38 72h0M38 16h0M38 17h0M38 25h0M39 21h0M39 34h0M39 71h0M39 69h0M39 4h0M40 44h0M40 53h0M40 2h0M40 17h0M40 14h0M41 63h0M41 33h0M41 76h0M41 12h0M42 26h0M42 57h0M42 61h0M42 19h0M42 34h0M43 9h0M43 59h0M43 36h0M43 11h0M43 51h0M44 31h0M44 45h0M44 34h0M44 48h0M44 12h0M44 44h0M44 50h0M45 77h0M45 65h0M45 63h0M46 9h0M46 0h0M46 65h0M46 75h0M46 40h0M47 75h0M47 16h0M47 15h0M47 28h0M47 6h0M48 72h0M48 77h0M48 37h0M48 56h0M48 27h0M48 50h0M49 55h0M49 61h0M49 14h0M49 31h0M50 15h0M50 63h0M50 33h0M50 36h0M50 41h0M50 32h0M51 75h0M51 52h0M51 47h0M51 1h0M52 12h0M52 77h0M52 12h0M52 1h0M53 73h0M53 11h0M53 17h0M53 20h0M53 60h0M53 53h0M54 26h0M54 27h0M54 18h0M54 26h0M55 13h0M55 67h0M55 13h0M55 30h0M55 23h0M56 22h0M56 34h0M56 74h0M56 46h0M56 53h0M56 22h0M57 7h0M57 39h0M57 49h0M57 70h0M58 29h0M58 69h0M58 22h0M58 47h0M58 6h0M58 65h0M59 56h0M59 20h0M59 56h0M59 66h0M60 18h0M60 55h0M60 10h0M60 46h0M60 55h0M60 8h0M60 2h0M61 50h0M61 71h0M61 32h0M61 35h0M62 73h0M62 55h0M62 2h0M62 7h0M62 13h0M63 27h0M63 57h0M63 77h0M63 4h0M64 73h0M64 28h0M64 61h0M64 11h0M64 37h0M65 47h0M65 42h0M65 48h0M65 0h0M65 72h0M66 20h0M66 14h0M66 7h0M66 74h0M66 25h0M66 2h0M67 5h0M67 63h0M67 45h0M67 74h0M67 42h0M68 7h0M68 42h0M68 22h0M68 52h0M69 56h0M69 27h0M69 24h0M69 34h0M69 19h0M69 49h0M70 72h0M70 1h0M70 59h0M70 24h0M70 74h0M71 35h0M71 11h0M71 16h0M71 74h0M71 9h0"/>
<path transform="translate(1016.5 321.5)" d="M0 14h0M0 5h0M1 29h0M1 63h0M1 30h0M1 60h0M2 21h0M2 21h0M2 54h0M2 58h0M2 16h0M2 30h0M3 5h0M3 77h0M3 76h0M3 77h0M3 68h0M4 71h0M4 58h0M4 44h0M4 31h0M5 18h0M5 6h0M5 19h0M5 13h0M5 47h0M6 43h0M6 72h0M6 33h0M6 56h0M6 73h0M7 48h0M7 4h0M7 35h0M7 17h0M7 22h0M8 4h0M8 44h0M8 0h0M8 56h0M9 69h0M9 71h0M9 48h0M9 60h0M9 65h0M9 65h0M10 42h0M10 18h0M10 58h0M10 33h0M10 30h0M11 5h0M11 36h0M11 29h0M11 46h0M11 31h0M11 78h0M12 58h0M12 61h0M12 67h0M12 60h0M12 40h0M13 18h0M13 77h0M13 43h0M13 26h0M13 21h0M14 35h0M14 64h0M14 9h0M14 56h0M14 22h0M15 5h0M15 61h0M15 42h0M16 67h0M16 3h0M16 12h0M16 43h0M16 44h0M16 30h0M17 50h0M17 44h0M17 41h0M17 62h0M17 58h0M18 48h0M18 37h0M18 37h0M18 13h0M18 61h0M19 48h0M19 45h0M19 42h0M19 0h0M19 55h0M20 15h0M20 33h0M20 43h0M20 45h0M21 42h0M21 38h0M21 29h0M21 70h0M21 46h0M22 51h0M22 64h0M22 42h0M22 45h0M22 77h0M22 31h0M23 56h0M23 25h0M23 34h0M23 26h0M23 77h0M24 77h0M24 38h0M24 30h0M24 17h0M24 39h0M25 29h0M25 1h0M25 63h0M25 30h0M25 31h0M26 11h0M26 2h0M26 26h0M26 43h0M27 13h0M27 62h0M27 66h0M27 61h0M27 48h0M28 1h0M28 22h0M28 19h0M28 26h0M28 47h0M28 72h0M29 4h0M29 30h0M29 13h0M29 29h0M30 4h0M30 15h0M30 9h0M30 48h0M30 32h0M31 3h0M31 20h0M31 64h0M31 32h0M31 73h0M32 15h0M32 27h0M32 59h0M32 7h0M32 64h0M33 41h0M33 64h0M33 58h0M33 5h0M33 58h0M34 52h0M34 28h0M34 74h0M34 1h0M34 2h0M34 23h0M34 39h0M35 65h0M35 56h0M35 72h0M35 4h0M36 76h0M36 75h0M36 9h0M36 1h0M36 19h0M37 10h0M37 39h0M37 4h0M37 0h0M37 62h0M38 57h0M38 55h0M38 47h0M38 7h0M39 78h0M39 63h0M39 15h0M39 60h0M39 3h0M40 56h0M40 24h0M40 69h0M40 23h0M41 67h0M41 10h0M41 67h0M41 0h0M41 29h0M41 33h0M42 36h0M42 23h0M42 29h0M42 48h0M42 46h0M43 47h0M43 19h0M43 7h0M43 36h0M43 76h0M43 12h0M44 62h0M44 52h0M44 21h0M44 54h0M45 55h0M45 39h0M45 69h0M45 78h0M45 32h0M46 12h0M46 62h0M46 11h0M46 33h0M46 31h0M47 33h0M47 48h0M47 9h0M47 48h0M47 59h0M48 8h0M48 77h0M48 54h0M48 70h0M49 12h0M49 29h0M49 10h0M49 58h0M49 9h0M49 10h0M50 36h0M50 51h0M50 65h0M50 56h0M50 32h0M51 78h0M51 76h0M51 2h0M51 22h0M52 78h0M52 33h0M52 9h0M52 31h0M52 3h0M52 22h0M53 13h0M53 6h0M53 72h0M53 63h0M53 73h0M54 11h0M54 1h0M54 33h0M54 38h0M54 2h0M55 9h0M55 54h0M55 19h0M55 68h0M55 45h0M56 67h0M56 67h0M56 63h0M56 18h0M56 0h0M57 14h0M57 28h0M57 72h0M57 66h0M57 50h0M58 61h0M58 46h0M58 54h0M58 38h0M58 20h0M59 53h0M59 67h0M59 67h0M59 43h0M59 27h0M60 72h0M60 34h0M60 0h0M60 18h0M60 16h0M61 6h0M61 7h0M61 27h0M61 43h0M62 45h0M62 38h0M62 66h0M62 76h0M62 12h0M62 31h0M63 59h0M63 36h0M63 46h0M63 8h0M64 7h0M64 13h0M64 2h0M64 0h0M64 53h0M65 44h0M65 21h0M65 14h0M65 27h0M65 35h0M65 56h0M66 11h0M66 2h0M66 69h0M66 25h0M67 37h0M67 37h0M67 72h0M67 2h0M67 40h0M67 19h0M68 46h0M68 29h0M68 35h0M68 65h0M69 76h0M69 27h0M69 66h0M69 34h0M69 8h0M70 51h0M70 24h0M70 7h0M70 22h0M70 28h0M71 33h0M71 37h0M71 42h0M71 6h0M71 30h0M71 20h0"/>
<path transform="translate(1110.5 321.5)" d="M0 78h0M1 7h0M1 26h0M1 4h0M1 45h0M1 43h0M2 28h0M2 69h0M2 11h0M2 23h0M2 70h0M2 59h0M3 39h0M3 35h0M3 26h0M4 38h0M3 54h0M4 2h0M4 75h0M4 0h0M4 25h0M5 4h0M5 73h0M5 0h0M5 68h0M5 19h0M5 59h0M6 23h0M6 59h0M6 56h0M7 3h0M7 35h0M7 66h0M7 74h0M7 8h0M7 56h0M8 52h0M8 73h0M8 64h0M8 22h0M8 71h0M8 2h0M9 11h0M9 14h0M9 7h0M10 66h0M10 56h0M10 14h0M10 36h0M10 42h0M10 3h0M10 29h0M11 62h0M11 8h0M11 56h0M11 48h0M12 15h0M12 78h0M12 22h0M12 31h0M12 61h0M13 48h0M13 75h0M13 3h0M13 21h0M13 5h0M14 18h0M14 15h0M14 68h0M14 41h0M14 20h0M15 75h0M15 22h0M15 47h0M15 8h0M16 18h0M16 53h0M16 13h0M16 33h0M16 38h0M17 75h0M17 47h0M17 55h0M17 4h0M17 42h0M17 18h0M18 57h0M18 58h0M18 0h0M18 4h0M18 34h0M19 57h0M19 34h0M19 0h0M19 29h0M19 62h0M20 14h0M20 74h0M20 45h0M20 37h0M20 48h0M21 78h0M21 41h0M21 9h0M22 10h0M21 63h0M22 32h0M22 17h0M22 60h0M22 40h0M22 34h0M23 77h0M23 70h0M23 28h0M23 19h0M24 69h0M24 47h0M24 64h0M24 56h0M24 47h0M24 3h0M25 68h0M25 5h0M25 39h0M25 67h0M25 14h0M26 75h0M26 39h0M26 40h0M26 73h0M27 61h0M27 17h0M27 68h0M27 20h0M27 34h0M28 5h0M28 42h0M28 49h0M28 56h0M28 41h0M29 48h0M29 64h0M29 27h0M29 58h0M29 41h0M30 50h0M30 40h0M30 77h0M30 8h0M30 58h0M31 25h0M31 6h0M31 18h0M31 75h0M31 78h0M32 11h0M32 69h0M32 36h0M32 10h0M32 66h0M33 24h0M33 35h0M33 2h0M33 11h0M33 47h0M34 56h0M34 50h0M34 42h0M34 56h0M35 75h0M35 63h0M35 5h0M35 35h0M35 63h0M36 39h0M35 54h0M36 61h0M36 28h0M36 41h0M36 63h0M37 70h0M37 19h0M37 17h0M37 73h0M37 31h0M37 0h0M38 26h0M38 78h0M38 45h0M38 71h0M39 1h0M39 46h0M39 75h0M39 70h0M39 33h0M40 45h0M40 30h0M40 74h0M40 22h0M41 3h0M40 52h0M41 18h0M41 51h0M41 46h0M42 4h0M42 18h0M42 45h0M42 77h0M42 59h0M42 0h0M42 29h0M43 53h0M43 53h0M43 75h0M44 40h0M43 59h0M44 52h0M44 5h0M44 25h0M44 74h0M45 32h0M45 64h0M45 24h0M45 8h0M46 78h0M46 49h0M46 36h0M46 15h0M46 8h0M46 4h0M47 16h0M47 73h0M47 52h0M47 76h0M47 28h0M48 18h0M48 78h0M48 28h0M48 57h0M48 58h0M49 74h0M49 60h0M49 19h0M49 12h0M50 55h0M50 36h0M50 56h0M50 76h0M50 14h0M50 39h0M51 35h0M51 36h0M51 16h0M51 62h0M52 56h0M52 52h0M52 25h0M52 19h0M52 27h0M52 50h0M53 32h0M53 7h0M53 67h0M53 27h0M54 63h0M54 11h0M54 1h0M54 74h0M54 4h0M55 15h0M55 3h0M55 1h0M55 27h0M55 43h0M56 35h0M56 45h0M56 26h0M56 33h0M56 54h0M56 50h0M57 40h0M57 8h0M57 11h0M57 63h0M57 42h0M58 36h0M58 50h0M58 10h0M58 53h0M59 31h0M59 11h0M59 15h0M59 23h0M59 64h0M60 47h0M60 49h0M60 52h0M60 17h0M60 69h0M61 6h0M61 13h0M61 32h0M61 32h0M61 68h0M61 60h0M62 73h0M62 48h0M62 39h0M62 18h0M62 77h0M63 75h0M63 52h0M63 77h0M63 71h0M64 24h0M64 64h0M64 10h0M64 28h0M64 25h0M65 61h0M65 16h0M65 43h0M65 7h0M66 43h0M66 42h0M66 60h0M66 0h0M66 5h0M66 33h0M67 27h0M67 30h0M67 75h0M67 49h0M67 0h0M68 46h0M68 7h0M68 14h0M68 4h0M68 68h0M69 38h0M69 45h0M69 52h0M69 66h0M69 44h0M70 78h0M70 37h0M70 62h0M70 35h0M70 4h0M71 12h0M71 47h0M71 20h0M71 33h0M71 65h0M72 7h0"/>
<path transform="translate(1204.5 321.5)" d="M1 3h0M0 32h0M1 66h0M1 77h0M1 36h0M1 71h0M2 27h0M2 19h0M2 27h0M2 48h0M3 17h0M3 42h0M3 17h0M3 66h0M3 56h0M3 68h0M4 12h0M4 4h0M4 31h0M4 45h0M5 18h0M5 22h0M5 51h0M5 8h0M5 46h0M5 76h0M6 56h0M6 48h0M6 44h0M6 46h0M6 21h0M7 19h0M7 11h0M7 39h0M7 11h0M7 16h0M8 74h0M8 22h0M8 6h0M8 57h0M9 60h0M9 38h0M9 58h0M9 30h0M9 27h0M9 36h0M10 13h0M10 17h0M10 54h0M10 78h0M11 27h0M11 75h0M11 34h0M11 66h0M11 70h0M11 31h0M12 68h0M12 4h0M12 70h0M12 61h0M13 54h0M13 76h0M13 45h0M13 65h0M13 70h0M13 3h0M14 16h0M14 56h0M14 64h0M14 23h0M14 26h0M15 5h0M15 5h0M15 20h0M15 46h0M16 42h0M16 77h0M16 48h0M16 67h0M16 78h0M17 16h0M17 51h0M17 36h0M17 36h0M17 5h0M18 7h0M18 59h0M18 10h0M18 6h0M18 58h0M18 33h0M19 74h0M19 52h0M19 42h0M19 56h0M19 49h0M20 59h0M20 44h0M20 78h0M20 57h0M21 73h0M21 7h0M21 66h0M21 60h0M21 26h0M22 21h0M22 62h0M22 26h0M22 32h0M22 23h0M22 70h0M23 51h0M23 57h0M23 54h0M23 35h0M23 47h0M24 68h0M24 34h0M24 12h0M24 4h0M25 56h0M25 76h0M25 35h0M25 48h0M25 70h0M25 2h0M26 37h0M26 1h0M26 9h0M26 30h0M26 68h0M27 37h0M27 37h0M27 58h0M27 54h0M28 19h0M28 45h0M28 14h0M28 57h0M28 76h0M29 44h0M29 78h0M29 71h0M29 2h0M29 63h0M29 2h0M30 60h0M30 47h0M30 40h0M30 25h0M31 46h0M31 4h0M31 15h0M31 8h0M31 54h0M32 40h0M32 34h0M32 47h0M32 32h0M32 11h0M33 40h0M33 72h0M33 41h0M33 38h0M33 55h0M34 70h0M34 33h0M34 62h0M34 16h0M34 31h0M34 60h0M35 29h0M35 4h0M35 56h0M36 0h0M36 63h0M36 4h0M36 57h0M36 15h0M36 45h0M37 39h0M37 61h0M37 1h0M37 26h0M37 66h0M37 26h0M38 0h0M38 47h0M38 0h0M39 70h0M39 31h0M39 8h0M39 78h0M39 58h0M39 52h0M40 18h0M40 43h0M40 45h0M40 58h0M40 2h0M41 12h0M41 43h0M41 23h0M41 29h0M42 76h0M42 70h0M42 22h0M42 15h0M42 31h0M42 0h0M43 12h0M43 69h0M43 64h0M43 58h0M43 5h0M44 46h0M44 66h0M44 69h0M44 10h0M44 32h0M45 5h0M45 65h0M45 58h0M45 17h0M45 59h0M46 39h0M46 29h0M46 27h0M46 50h0M47 8h0M47 49h0M47 20h0M47 11h0M47 28h0M47 51h0M48 70h0M48 4h0M48 61h0M48 65h0M49 64h0M49 55h0M49 32h0M49 66h0M49 19h0M50 34h0M50 56h0M50 14h0M50 25h0M50 7h0M50 37h0M51 50h0M51 37h0M51 43h0M51 58h0M51 65h0M52 46h0M52 45h0M52 17h0M52 43h0M53 34h0M53 59h0M53 52h0M53 73h0M53 45h0M53 31h0M54 41h0M54 32h0M54 4h0M54 57h0M55 47h0M55 21h0M55 38h0M55 77h0M56 12h0M56 69h0M56 1h0M56 24h0M56 26h0M56 62h0M57 33h0M57 40h0M57 70h0M57 64h0M57 61h0M58 19h0M58 25h0M58 20h0M58 67h0M58 20h0M58 51h0M59 22h0M59 4h0M59 12h0M59 40h0M60 44h0M60 28h0M60 38h0M60 19h0M60 60h0M60 60h0M61 40h0M61 60h0M61 48h0M61 43h0M62 7h0M62 44h0M62 8h0M62 49h0M62 51h0M62 19h0M63 61h0M63 11h0M63 31h0M63 30h0M64 65h0M64 57h0M64 61h0M64 30h0M64 49h0M65 30h0M65 13h0M65 20h0M65 42h0M66 17h0M66 9h0M66 23h0M66 46h0M66 23h0M67 22h0M67 36h0M67 30h0M67 25h0M67 76h0M67 16h0M68 23h0M68 11h0M68 27h0M68 5h0M68 72h0M69 5h0M69 24h0M69 63h0M69 41h0M70 40h0M70 23h0M70 55h0M70 65h0M70 6h0M70 44h0M71 36h0M71 13h0M71 58h0M71 19h0M71 28h0M72 72h0"/>
<path transform="translate(76.5 441.5)" d="M0 18h0M0 29h0M0 44h0M0 45h0M1 11h0M1 26h0M1 42h0M1 71h0M2 79h0M2 24h0M2 63h0M2 6h0M2 74h0M3 31h0M3 48h0M3 32h0M3 21h0M3 50h0M4 19h0M4 71h0M4 36h0M4 39h0M4 22h0M4 39h0M5 26h0M5 55h0M5 76h0M5 62h0M5 47h0M6 49h0M6 42h0M6 75h0M6 72h0M7 53h0M7 25h0M7 51h0M7 4h0M7 30h0M7 77h0M8 70h0M8 57h0M8 15h0M8 32h0M9 66h0M9 49h0M9 51h0M9 79h0M9 48h0M9 64h0M10 36h0M10 17h0M10 42h0M10 1h0M10 53h0M11 69h0M11 49h0M11 23h0M11 63h0M12 9h0M12 32h0M12 3h0M12 57h0M12 70h0M13 32h0M13 27h0M13 56h0M13 31h0M13 13h0M13 64h0M14 15h0M14 42h0M14 16h0M15 30h0M15 2h0M15 37h0M15 72h0M15 52h0M15 64h0M16 56h0M16 42h0M16 30h0M16 39h0M16 1h0M17 37h0M17 43h0M17 27h0M17 77h0M17 14h0M18 24h0M18 70h0M18 49h0M18 67h0M18 47h0M18 47h0M19 71h0M19 14h0M19 66h0M19 24h0M20 1h0M20 53h0M20 18h0M20 45h0M20 8h0M20 44h0M21 64h0M21 10h0M21 61h0M21 3h0M22 51h0M22 75h0M22 34h0M22 45h0M22 45h0M22 69h0M23 3h0M23 11h0M23 52h0M23 45h0M23 11h0M24 72h0M24 70h0M24 49h0M24 78h0M25 45h0M25 25h0M25 33h0M25 23h0M25 59h0M26 37h0M26 76h0M26 16h0M26 54h0M27 74h0M27 51h0M27 23h0M27 63h0M27 30h0M27 40h0M28 64h0M28 21h0M28 67h0M28 60h0M28 4h0M29 56h0M29 4h0M29 77h0M29 21h0M29 3h0M30 46h0M30 17h0M30 0h0M30 78h0M30 31h0M31 66h0M31 22h0M31 36h0M31 42h0M31 51h0M32 49h0M32 24h0M32 15h0M32 24h0M32 44h0M33 56h0M33 27h0M33 8h0M33 71h0M33 5h0M34 74h0M34 13h0M34 48h0M34 50h0M34 54h0M35 54h0M35 39h0M35 16h0M35 64h0M36 19h0M36 29h0M36 39h0M36 47h0M36 62h0M37 28h0M37 39h0M37 40h0M37 60h0M37 49h0M37 78h0M38 34h0M38 56h0M38 42h0M38 77h0M38 3h0M39 9h0M39 43h0M39 6h0M39 57h0M40 55h0M40 77h0M40 73h0M40 2h0M40 8h0M41 57h0M41 74h0M41 59h0M41 32h0M41 40h0M42 23h0M42 9h0M42 39h0M42 16h0M42 4h0M43 3h0M43 49h0M43 76h0M43 31h0M43 71h0M44 54h0M44 40h0M44 16h0M44 62h0M44 44h0M45 17h0M45 13h0M45 6h0M45 52h0M45 49h0M45 6h0M46 50h0M46 8h0M46 26h0M46 37h0M47 35h0M47 10h0M47 29h0M47 47h0M47 58h0M47 1h0M48 15h0M48 49h0M48 50h0M48 76h0M49 52h0M49 12h0M49 61h0M49 2h0M49 57h0M50 46h0M50 74h0M50 59h0M50 74h0M50 12h0M51 31h0M51 73h0M51 43h0M51 17h0M51 27h0M52 61h0M52 46h0M52 50h0M52 54h0M52 78h0M53 38h0M53 31h0M53 31h0M53 9h0M54 8h0M54 38h0M54 73h0M54 14h0M54 61h0M54 53h0M55 72h0M55 74h0M55 18h0M55 11h0M55 71h0M56 72h0M56 17h0M56 4h0M56 49h0M56 68h0M56 21h0M57 20h0M57 41h0M57 19h0M57 60h0M58 54h0M58 34h0M58 63h0M58 9h0M58 29h0M59 50h0M59 11h0M59 4h0M59 58h0M59 72h0M60 17h0M60 56h0M60 44h0M60 44h0M60 70h0M61 12h0M61 57h0M61 61h0M61 66h0M61 27h0M62 19h0M62 32h0M62 5h0M62 21h0M62 54h0M63 46h0M63 57h0M63 23h0M63 60h0M64 55h0M64 73h0M64 60h0M64 3h0M64 75h0M64 3h0M65 50h0M65 36h0M65 59h0M65 32h0M65 47h0M66 50h0M66 70h0M66 40h0M66 15h0M66 22h0M67 16h0M67 63h0M67 63h0M67 1h0M67 64h0M68 32h0M68 46h0M68 25h0M68 6h0M68 17h0M69 33h0M69 2h0M69 73h0M69 20h0M69 61h0M70 74h0M70 21h0M70 19h0M70 31h0M71 75h0M71 40h0M71 7h0M71 21h0"/>
<path transform="translate(170.5 441.5)" d="M0 67h0M0 4h0M0 71h0M0 60h0M1 57h0M1 66h0M1 78h0M1 40h0M2 11h0M2 54h0M2 20h0M2 36h0M2 78h0M3 53h0M3 47h0M3 78h0M3 41h0M3 6h0M4 75h0M4 59h0M4 62h0M4 15h0M4 7h0M4 47h0M5 56h0M5 27h0M5 14h0M5 16h0M6 25h0M6 38h0M6 40h0M6 27h0M6 41h0M6 47h0M7 18h0M7 8h0M7 54h0M7 62h0M7 66h0M8 3h0M8 64h0M8 38h0M8 78h0M9 73h0M9 59h0M9 73h0M9 42h0M9 69h0M9 33h0M10 78h0M10 39h0M10 47h0M10 2h0M10 5h0M11 21h0M11 69h0M11 69h0M11 76h0M12 78h0M12 74h0M12 59h0M12 56h0M12 76h0M13 52h0M13 32h0M13 52h0M13 32h0M13 31h0M14 7h0M14 15h0M14 38h0M14 49h0M14 2h0M15 70h0M15 36h0M15 68h0M15 47h0M15 13h0M15 76h0M16 20h0M16 9h0M16 13h0M16 50h0M17 2h0M17 53h0M17 65h0M17 44h0M17 22h0M18 2h0M18 43h0M18 76h0M18 23h0M18 71h0M19 54h0M19 49h0M19 47h0M19 41h0M19 54h0M20 20h0M20 57h0M20 17h0M20 4h0M21 33h0M21 54h0M21 77h0M21 25h0M21 55h0M22 26h0M22 55h0M22 27h0M22 13h0M22 25h0M22 59h0M23 2h0M23 45h0M23 77h0M23 66h0M23 38h0M24 61h0M24 64h0M24 48h0M24 9h0M24 49h0M25 59h0M25 5h0M25 75h0M25 15h0M25 44h0M26 49h0M26 74h0M26 63h0M26 17h0M26 51h0M27 56h0M27 1h0M27 72h0M27 37h0M27 11h0M28 54h0M28 17h0M28 1h0M28 59h0M29 16h0M29 77h0M29 48h0M29 60h0M29 12h0M30 71h0M30 31h0M30 15h0M30 42h0M30 7h0M30 44h0M31 53h0M31 49h0M31 48h0M31 61h0M31 21h0M32 2h0M32 14h0M32 73h0M32 45h0M32 20h0M33 23h0M33 72h0M33 17h0M33 42h0M34 42h0M34 26h0M34 16h0M34 25h0M34 30h0M35 66h0M35 58h0M35 26h0M35 2h0M35 9h0M36 46h0M36 35h0M36 15h0M36 22h0M36 64h0M36 14h0M37 33h0M37 65h0M37 13h0M37 54h0M37 5h0M38 37h0M38 51h0M38 60h0M38 16h0M39 40h0M39 6h0M39 2h0M39 30h0M39 48h0M39 66h0M40 42h0M40 57h0M40 44h0M40 19h0M40 77h0M41 77h0M41 11h0M41 51h0M41 76h0M42 63h0M42 32h0M42 21h0M42 53h0M42 43h0M43 55h0M43 18h0M43 7h0M43 68h0M43 75h0M44 39h0M44 7h0M44 33h0M44 5h0M44 59h0M45 55h0M45 74h0M45 50h0M45 48h0M45 12h0M46 77h0M46 25h0M46 43h0M46 78h0M46 68h0M47 7h0M47 57h0M47 41h0M47 22h0M47 22h0M48 28h0M48 59h0M48 56h0M48 22h0M48 34h0M49 28h0M49 46h0M49 26h0M49 72h0M49 14h0M49 65h0M50 27h0M50 54h0M50 58h0M50 34h0M51 22h0M51 72h0M51 47h0M51 61h0M51 44h0M51 54h0M52 7h0M52 57h0M52 77h0M52 17h0M53 33h0M53 37h0M53 22h0M53 58h0M53 20h0M54 25h0M54 47h0M54 6h0M54 28h0M55 33h0M55 11h0M55 37h0M55 76h0M55 59h0M55 39h0M56 40h0M56 10h0M56 27h0M56 25h0M56 69h0M57 59h0M57 19h0M57 16h0M57 79h0M57 23h0M58 42h0M58 74h0M58 14h0M58 55h0M58 72h0M59 38h0M59 5h0M59 36h0M59 10h0M60 49h0M60 75h0M60 35h0M60 37h0M60 6h0M60 37h0M61 5h0M61 39h0M61 60h0M61 25h0M61 44h0M62 46h0M62 66h0M62 37h0M62 30h0M62 67h0M63 69h0M63 67h0M63 54h0M63 35h0M63 61h0M64 76h0M64 2h0M64 77h0M65 19h0M64 53h0M65 75h0M65 1h0M65 49h0M65 28h0M65 0h0M66 74h0M66 5h0M66 51h0M66 37h0M66 10h0M67 19h0M67 3h0M67 72h0M68 71h0M67 5h0M68 60h0M68 40h0M68 6h0M68 25h0M69 36h0M69 72h0M69 78h0M69 44h0M69 28h0M70 1h0M70 40h0M70 18h0M70 41h0M70 55h0M71 0h0M71 24h0M71 53h0M71 18h0"/>
<path transform="translate(358.5 441.5)" d="M0 31h0M0 70h0M0 79h0M1 56h0M1 20h0M1 77h0M1 50h0M1 16h0M2 67h0M2 26h0M2 2h0M2 55h0M2 66h0M3 43h0M3 67h0M3 22h0M3 35h0M3 65h0M4 37h0M4 40h0M4 17h0M4 52h0M4 39h0M5 15h0M5 5h0M5 49h0M5 72h0M5 41h0M6 30h0M6 78h0M6 63h0M6 64h0M6 3h0M7 44h0M7 65h0M7 74h0M7 51h0M8 60h0M8 2h0M8 33h0M8 41h0M8 1h0M8 17h0M9 51h0M9 69h0M9 12h0M9 51h0M9 56h0M10 46h0M10 75h0M10 49h0M10 10h0M11 63h0M11 65h0M11 46h0M11 49h0M11 12h0M11 51h0M12 18h0M12 72h0M12 10h0M12 77h0M13 18h0M13 22h0M13 50h0M13 50h0M13 40h0M13 30h0M14 26h0M14 18h0M14 60h0M14 25h0M15 6h0M15 53h0M15 2h0M15 62h0M15 72h0M15 49h0M16 12h0M16 64h0M16 7h0M16 48h0M17 78h0M17 10h0M17 46h0M17 30h0M18 61h0M18 61h0M18 17h0M18 77h0M18 22h0M18 56h0M19 1h0M19 39h0M19 44h0M19 2h0M19 58h0M20 29h0M20 12h0M20 12h0M20 9h0M20 2h0M20 62h0M21 15h0M21 56h0M21 24h0M21 48h0M21 14h0M22 42h0M22 55h0M22 48h0M22 65h0M23 30h0M23 27h0M23 72h0M23 48h0M23 11h0M24 47h0M24 67h0M24 12h0M24 66h0M24 35h0M25 29h0M25 40h0M25 53h0M25 45h0M25 78h0M25 30h0M26 13h0M26 53h0M26 60h0M26 71h0M27 75h0M27 49h0M27 5h0M27 3h0M27 72h0M28 45h0M28 36h0M28 74h0M28 71h0M28 20h0M29 16h0M29 62h0M29 70h0M29 24h0M29 3h0M30 33h0M30 18h0M30 53h0M30 57h0M30 61h0M30 7h0M31 69h0M31 30h0M31 1h0M31 47h0M32 64h0M32 30h0M32 27h0M32 44h0M32 2h0M33 56h0M33 43h0M33 15h0M33 48h0M34 4h0M33 56h0M34 74h0M34 8h0M34 48h0M34 19h0M35 30h0M35 37h0M35 64h0M35 42h0M35 59h0M36 33h0M36 63h0M36 74h0M36 27h0M37 2h0M37 28h0M37 10h0M37 42h0M37 1h0M38 3h0M37 60h0M38 67h0M38 71h0M38 2h0M38 72h0M38 62h0M39 0h0M39 48h0M39 1h0M39 68h0M40 67h0M40 27h0M40 52h0M40 28h0M40 22h0M40 78h0M41 8h0M41 62h0M41 66h0M41 18h0M42 15h0M42 74h0M42 70h0M42 57h0M42 1h0M43 37h0M43 21h0M43 74h0M43 68h0M44 12h0M44 68h0M44 35h0M44 24h0M44 50h0M44 37h0M45 40h0M45 45h0M45 64h0M45 51h0M45 70h0M46 63h0M46 75h0M46 42h0M46 47h0M46 32h0M47 75h0M47 17h0M47 41h0M47 29h0M47 16h0M48 29h0M48 61h0M48 11h0M48 73h0M49 22h0M49 60h0M49 65h0M49 56h0M49 27h0M50 51h0M50 77h0M50 23h0M50 52h0M50 69h0M51 54h0M51 25h0M51 77h0M51 57h0M51 18h0M52 60h0M52 55h0M52 74h0M52 33h0M53 17h0M53 65h0M53 48h0M53 21h0M53 65h0M53 10h0M54 75h0M54 23h0M54 47h0M54 10h0M54 12h0M54 33h0M55 55h0M55 43h0M55 56h0M55 42h0M56 71h0M56 17h0M56 41h0M56 9h0M56 36h0M57 23h0M57 15h0M57 50h0M57 27h0M57 39h0M58 9h0M58 17h0M58 57h0M58 33h0M58 43h0M59 22h0M59 34h0M59 9h0M59 7h0M59 41h0M60 61h0M60 27h0M60 53h0M60 21h0M60 69h0M60 31h0M61 56h0M61 11h0M61 53h0M61 12h0M62 10h0M62 30h0M62 8h0M62 18h0M62 8h0M63 32h0M63 39h0M63 58h0M63 55h0M63 33h0M64 38h0M64 73h0M64 30h0M64 52h0M64 27h0M64 41h0M65 57h0M65 76h0M65 46h0M66 68h0M66 20h0M66 74h0M66 14h0M66 71h0M66 58h0M67 49h0M67 13h0M67 72h0M67 75h0M67 62h0M68 26h0M68 62h0M68 29h0M68 59h0M68 33h0M69 8h0M69 10h0M69 76h0M69 25h0M69 42h0M70 47h0M70 2h0M70 19h0M70 69h0M70 58h0M71 20h0M71 38h0M71 11h0M71 52h0"/>
<path transform="translate(452.5 441.5)" d="M0 34h0M0 71h0M0 36h0M1 28h0M1 35h0M1 28h0M1 45h0M1 56h0M2 76h0M2 29h0M2 36h0M2 0h0M2 31h0M3 41h0M3 75h0M3 73h0M3 55h0M4 25h0M4 63h0M4 43h0M4 19h0M4 66h0M5 5h0M5 24h0M5 40h0M5 12h0M5 10h0M6 20h0M6 49h0M6 12h0M6 35h0M6 18h0M6 5h0M7 37h0M7 54h0M7 62h0M7 54h0M7 2h0M8 69h0M8 34h0M8 71h0M8 71h0M8 70h0M9 68h0M9 20h0M9 24h0M9 4h0M10 18h0M10 24h0M10 72h0M10 35h0M10 38h0M11 44h0M11 22h0M11 32h0M11 51h0M11 72h0M11 68h0M12 16h0M12 57h0M12 74h0M12 9h0M13 48h0M13 1h0M13 0h0M13 70h0M13 20h0M14 50h0M14 12h0M14 60h0M14 8h0M14 1h0M14 52h0M15 66h0M15 28h0M15 71h0M15 21h0M16 47h0M16 22h0M16 44h0M16 73h0M16 37h0M16 72h0M17 62h0M17 48h0M17 36h0M18 2h0M18 2h0M18 64h0M18 26h0M18 50h0M18 52h0M19 40h0M19 76h0M19 61h0M19 69h0M19 6h0M20 45h0M20 49h0M20 57h0M20 65h0M20 5h0M21 59h0M21 60h0M21 51h0M21 9h0M21 8h0M22 47h0M22 16h0M22 7h0M22 48h0M22 11h0M23 35h0M23 52h0M23 61h0M23 10h0M23 50h0M24 73h0M24 53h0M24 44h0M24 53h0M24 2h0M25 1h0M25 69h0M25 63h0M25 24h0M25 41h0M26 3h0M26 62h0M26 40h0M26 10h0M26 65h0M27 53h0M27 68h0M27 36h0M27 76h0M27 65h0M28 29h0M28 72h0M28 3h0M28 28h0M28 61h0M29 62h0M29 32h0M29 10h0M29 39h0M30 18h0M30 2h0M29 66h0M30 42h0M30 47h0M31 65h0M31 63h0M31 10h0M31 33h0M31 77h0M31 33h0M32 26h0M32 20h0M32 45h0M32 0h0M32 36h0M33 17h0M33 68h0M33 39h0M33 20h0M33 5h0M34 38h0M34 51h0M34 61h0M34 51h0M34 57h0M35 23h0M35 51h0M35 73h0M35 50h0M35 26h0M36 61h0M36 22h0M36 45h0M36 1h0M36 46h0M37 26h0M37 55h0M37 12h0M37 1h0M37 20h0M38 29h0M38 52h0M38 73h0M38 41h0M38 41h0M39 71h0M39 61h0M39 54h0M39 38h0M39 46h0M40 42h0M40 78h0M40 55h0M40 23h0M40 8h0M41 62h0M41 41h0M41 32h0M41 23h0M41 74h0M42 26h0M42 76h0M42 27h0M42 54h0M42 61h0M43 53h0M43 26h0M43 53h0M43 14h0M44 47h0M44 38h0M44 12h0M44 60h0M44 78h0M45 42h0M45 55h0M45 43h0M45 48h0M45 58h0M46 57h0M46 51h0M46 33h0M46 51h0M46 27h0M46 7h0M47 23h0M47 70h0M47 40h0M47 12h0M47 75h0M48 51h0M48 31h0M48 29h0M48 25h0M49 7h0M49 73h0M49 63h0M49 21h0M49 78h0M50 54h0M50 11h0M50 72h0M50 36h0M50 22h0M51 61h0M51 52h0M51 49h0M51 46h0M51 28h0M52 49h0M52 67h0M52 38h0M52 0h0M52 8h0M52 49h0M53 9h0M53 78h0M53 17h0M53 31h0M53 40h0M54 74h0M54 34h0M54 12h0M54 26h0M55 31h0M55 67h0M55 51h0M55 55h0M55 4h0M56 50h0M56 70h0M56 0h0M56 19h0M56 42h0M56 72h0M57 9h0M57 43h0M57 3h0M57 64h0M58 46h0M58 29h0M58 59h0M58 79h0M58 36h0M59 57h0M59 51h0M59 55h0M59 40h0M59 2h0M60 2h0M60 17h0M60 36h0M60 76h0M60 15h0M61 20h0M61 5h0M61 72h0M61 15h0M61 14h0M62 33h0M62 43h0M62 66h0M62 48h0M62 57h0M63 61h0M63 78h0M63 48h0M63 8h0M63 37h0M63 18h0M64 16h0M64 40h0M64 72h0M64 19h0M65 41h0M65 33h0M65 70h0M65 49h0M65 71h0M66 74h0M66 63h0M66 46h0M66 58h0M67 18h0M67 19h0M67 22h0M67 33h0M67 53h0M67 32h0M68 59h0M68 64h0M68 66h0M68 60h0M69 39h0M69 69h0M69 74h0M69 55h0M69 49h0M69 26h0M70 63h0M70 71h0M70 58h0M70 49h0M70 19h0M71 72h0M71 20h0M71 2h0M72 76h0"/>
<path transform="translate(546.5 441.5)" d="M0 26h0M0 23h0M0 61h0M1 0h0M1 50h0M1 76h0M1 11h0M1 16h0M2 3h0M2 52h0M2 71h0M2 70h0M3 12h0M3 27h0M3 20h0M3 75h0M3 15h0M4 42h0M4 16h0M4 58h0M4 54h0M4 52h0M5 59h0M5 10h0M5 24h0M5 52h0M5 44h0M5 45h0M6 23h0M6 36h0M6 8h0M6 29h0M6 58h0M7 10h0M7 29h0M7 21h0M7 60h0M7 51h0M8 18h0M8 12h0M8 61h0M8 2h0M8 63h0M9 41h0M9 13h0M9 77h0M9 8h0M10 2h0M10 61h0M10 62h0M10 45h0M11 48h0M11 4h0M11 58h0M11 42h0M11 17h0M11 46h0M12 50h0M12 11h0M12 63h0M12 7h0M13 63h0M13 37h0M13 54h0M13 15h0M13 77h0M13 70h0M14 29h0M14 2h0M14 36h0M14 51h0M14 29h0M15 25h0M15 65h0M15 58h0M15 15h0M16 75h0M16 28h0M16 30h0M16 2h0M16 3h0M16 67h0M17 21h0M17 66h0M17 13h0M17 64h0M18 56h0M18 64h0M18 42h0M18 44h0M18 40h0M18 1h0M19 64h0M19 12h0M19 34h0M19 17h0M19 28h0M20 38h0M20 37h0M20 24h0M20 24h0M20 30h0M21 47h0M21 64h0M21 18h0M21 36h0M21 75h0M22 66h0M22 47h0M22 56h0M22 26h0M23 14h0M23 69h0M23 72h0M23 59h0M23 25h0M23 57h0M24 57h0M24 33h0M24 67h0M24 53h0M24 74h0M25 11h0M25 67h0M25 37h0M25 34h0M26 57h0M26 19h0M26 13h0M26 51h0M26 23h0M26 19h0M27 44h0M27 5h0M27 20h0M27 51h0M27 42h0M28 34h0M28 49h0M28 16h0M28 42h0M29 11h0M29 42h0M29 74h0M29 36h0M29 16h0M29 51h0M30 26h0M30 4h0M30 68h0M30 4h0M30 13h0M31 68h0M31 6h0M31 40h0M31 1h0M31 44h0M32 5h0M32 74h0M32 49h0M32 76h0M32 29h0M33 72h0M33 1h0M33 17h0M33 36h0M34 68h0M34 12h0M34 42h0M34 17h0M34 9h0M35 37h0M35 18h0M35 68h0M35 43h0M35 58h0M36 44h0M36 27h0M36 9h0M36 12h0M36 51h0M37 73h0M37 55h0M37 10h0M37 31h0M37 46h0M37 41h0M38 76h0M38 11h0M38 40h0M38 46h0M38 27h0M39 46h0M39 38h0M39 54h0M39 24h0M40 2h0M40 78h0M40 25h0M40 17h0M40 56h0M40 71h0M41 66h0M41 10h0M41 70h0M41 7h0M42 11h0M42 68h0M42 8h0M42 26h0M42 8h0M43 22h0M43 45h0M43 46h0M43 60h0M43 76h0M44 13h0M44 72h0M44 35h0M44 72h0M44 58h0M44 46h0M45 24h0M45 33h0M45 27h0M45 44h0M45 6h0M46 49h0M46 30h0M46 34h0M46 70h0M47 74h0M47 28h0M47 74h0M47 18h0M47 45h0M48 72h0M48 72h0M48 6h0M48 9h0M48 1h0M49 44h0M49 47h0M49 48h0M49 67h0M49 37h0M50 43h0M50 57h0M50 38h0M50 10h0M51 26h0M51 5h0M51 66h0M51 63h0M51 54h0M51 36h0M52 54h0M52 7h0M52 68h0M52 38h0M52 44h0M53 2h0M53 3h0M53 50h0M53 21h0M53 7h0M53 24h0M54 8h0M54 63h0M54 74h0M54 13h0M55 30h0M55 56h0M55 50h0M55 23h0M56 47h0M56 63h0M56 58h0M56 77h0M56 24h0M57 44h0M57 7h0M57 11h0M57 44h0M57 63h0M57 1h0M58 28h0M58 29h0M58 50h0M58 32h0M58 27h0M59 66h0M59 30h0M59 69h0M59 26h0M59 1h0M60 76h0M60 78h0M60 65h0M60 54h0M61 57h0M61 55h0M61 10h0M61 14h0M61 35h0M61 17h0M62 28h0M62 63h0M62 60h0M62 6h0M63 20h0M63 3h0M63 64h0M63 19h0M63 52h0M63 66h0M64 37h0M64 21h0M64 68h0M64 44h0M64 1h0M65 17h0M65 74h0M65 56h0M65 44h0M65 67h0M66 4h0M66 75h0M66 7h0M66 68h0M66 11h0M67 68h0M67 18h0M67 42h0M67 21h0M68 43h0M68 23h0M68 60h0M68 36h0M68 55h0M69 73h0M69 62h0M69 42h0M69 28h0M69 43h0M69 51h0M70 44h0M70 12h0M70 9h0M70 75h0M71 23h0M71 34h0M71 58h0M71 62h0M71 46h0"/>
<path transform="translate(640.5 441.5)" d="M0 0h0M1 49h0M1 15h0M1 66h0M1 10h0M1 27h0M1 57h0M2 72h0M2 48h0M2 54h0M2 26h0M2 41h0M3 32h0M3 55h0M3 33h0M3 35h0M3 23h0M4 30h0M4 1h0M4 3h0M4 69h0M4 12h0M5 29h0M5 0h0M5 54h0M5 58h0M5 42h0M5 65h0M6 15h0M6 69h0M6 39h0M6 29h0M7 71h0M7 14h0M7 58h0M7 73h0M7 69h0M8 10h0M8 12h0M8 42h0M8 56h0M8 32h0M9 66h0M9 48h0M9 32h0M9 69h0M10 6h0M10 74h0M10 49h0M10 60h0M10 25h0M10 30h0M10 28h0M11 8h0M11 49h0M11 70h0M11 11h0M12 77h0M12 37h0M12 43h0M12 29h0M12 10h0M13 65h0M13 17h0M13 39h0M13 8h0M13 78h0M14 5h0M14 47h0M14 76h0M14 47h0M14 72h0M15 47h0M15 27h0M15 64h0M15 0h0M15 40h0M16 77h0M16 31h0M16 19h0M16 36h0M17 6h0M17 48h0M17 9h0M17 75h0M17 10h0M17 13h0M18 43h0M18 58h0M18 10h0M18 72h0M18 16h0M19 52h0M19 36h0M19 21h0M19 35h0M19 61h0M20 47h0M20 10h0M20 66h0M20 45h0M21 58h0M21 57h0M21 61h0M21 62h0M21 18h0M21 36h0M22 19h0M22 71h0M22 3h0M22 57h0M22 59h0M23 77h0M23 22h0M23 29h0M23 9h0M24 34h0M24 8h0M24 9h0M24 52h0M24 56h0M24 32h0M25 60h0M25 33h0M25 59h0M25 17h0M25 17h0M26 23h0M26 69h0M26 56h0M26 7h0M27 65h0M27 42h0M27 31h0M27 18h0M28 51h0M27 19h0M28 12h0M28 3h0M28 34h0M28 60h0M28 72h0M29 46h0M29 44h0M29 39h0M29 65h0M29 72h0M30 76h0M30 5h0M30 63h0M30 61h0M31 10h0M31 37h0M31 51h0M31 36h0M31 74h0M32 45h0M32 49h0M32 75h0M32 1h0M32 12h0M32 40h0M33 65h0M33 23h0M33 44h0M33 71h0M34 6h0M34 64h0M34 14h0M34 17h0M34 39h0M35 7h0M35 65h0M35 16h0M35 52h0M35 61h0M35 6h0M36 75h0M36 56h0M36 66h0M36 2h0M37 32h0M37 62h0M37 68h0M37 32h0M37 61h0M37 34h0M38 34h0M38 4h0M38 14h0M38 54h0M39 70h0M39 77h0M39 1h0M39 18h0M40 58h0M40 72h0M40 23h0M40 25h0M40 67h0M40 35h0M41 38h0M41 35h0M41 9h0M41 31h0M41 72h0M42 50h0M42 61h0M42 21h0M42 38h0M43 66h0M43 65h0M43 72h0M43 66h0M43 21h0M43 26h0M44 76h0M44 27h0M44 65h0M44 10h0M44 56h0M45 30h0M45 17h0M45 37h0M45 48h0M45 58h0M46 75h0M46 21h0M46 41h0M46 15h0M46 77h0M47 70h0M47 10h0M47 37h0M47 15h0M47 47h0M48 53h0M48 62h0M48 7h0M48 43h0M48 8h0M49 0h0M49 10h0M49 39h0M49 65h0M49 19h0M50 29h0M50 27h0M50 47h0M50 17h0M50 70h0M51 66h0M51 54h0M51 67h0M51 30h0M51 30h0M52 61h0M52 1h0M52 20h0M52 77h0M52 67h0M53 21h0M53 29h0M53 69h0M53 13h0M53 31h0M54 54h0M54 58h0M54 11h0M54 36h0M54 64h0M55 63h0M55 14h0M55 59h0M55 69h0M55 25h0M56 56h0M56 29h0M56 4h0M56 44h0M57 59h0M57 62h0M57 45h0M57 65h0M57 33h0M58 4h0M58 68h0M58 26h0M58 74h0M58 2h0M58 44h0M59 69h0M59 43h0M59 11h0M59 0h0M60 40h0M60 38h0M60 64h0M60 72h0M60 40h0M60 58h0M61 51h0M61 3h0M61 69h0M61 68h0M61 39h0M62 15h0M62 53h0M62 26h0M62 35h0M63 77h0M63 54h0M63 22h0M63 32h0M63 10h0M63 16h0M64 77h0M64 54h0M64 37h0M64 42h0M64 74h0M65 2h0M65 34h0M65 31h0M65 24h0M65 56h0M66 58h0M66 54h0M66 74h0M66 10h0M67 22h0M67 53h0M67 20h0M67 17h0M67 9h0M68 36h0M68 47h0M68 68h0M68 32h0M68 27h0M68 16h0M69 4h0M69 64h0M69 22h0M69 78h0M70 34h0M70 54h0M70 57h0M70 45h0M70 49h0M71 69h0M71 13h0M71 55h0M71 18h0M71 22h0"/>
<path transform="translate(734.5 441.5)" d="M0 25h0M0 55h0M1 47h0M1 49h0M1 46h0M1 54h0M1 3h0M2 24h0M2 8h0M2 61h0M2 68h0M2 24h0M2 21h0M3 18h0M3 77h0M3 21h0M3 23h0M4 20h0M4 65h0M4 64h0M4 17h0M4 77h0M5 8h0M5 62h0M5 22h0M5 6h0M5 60h0M6 40h0M6 65h0M6 52h0M6 33h0M7 8h0M7 16h0M7 46h0M7 20h0M7 56h0M7 69h0M7 34h0M8 56h0M8 76h0M8 28h0M9 23h0M9 60h0M9 74h0M9 37h0M9 32h0M9 27h0M10 60h0M10 65h0M10 11h0M10 5h0M10 59h0M11 20h0M11 21h0M11 1h0M11 70h0M11 47h0M12 47h0M12 37h0M12 14h0M12 75h0M12 62h0M13 25h0M13 40h0M13 48h0M13 40h0M13 59h0M14 69h0M14 10h0M14 1h0M14 32h0M14 15h0M15 53h0M15 1h0M15 41h0M15 76h0M15 8h0M16 64h0M16 37h0M16 71h0M16 52h0M16 23h0M17 34h0M17 71h0M17 63h0M17 70h0M18 36h0M18 76h0M18 28h0M18 71h0M18 35h0M18 55h0M19 13h0M19 8h0M19 19h0M20 24h0M19 29h0M20 42h0M20 39h0M20 24h0M20 2h0M20 19h0M21 22h0M21 53h0M21 4h0M21 16h0M22 66h0M22 67h0M22 42h0M22 58h0M22 4h0M23 54h0M23 56h0M23 35h0M23 37h0M23 5h0M23 37h0M24 44h0M24 33h0M24 39h0M24 27h0M25 54h0M25 52h0M25 11h0M25 27h0M25 5h0M25 75h0M26 70h0M26 12h0M26 37h0M26 19h0M27 44h0M27 38h0M27 4h0M27 31h0M27 66h0M28 60h0M28 39h0M28 37h0M28 15h0M28 55h0M29 51h0M29 0h0M29 71h0M29 42h0M29 63h0M30 22h0M30 46h0M30 43h0M30 71h0M30 12h0M31 2h0M31 4h0M31 78h0M31 66h0M31 23h0M32 25h0M32 59h0M32 7h0M32 29h0M32 29h0M33 56h0M33 67h0M33 33h0M33 19h0M34 3h0M34 27h0M34 59h0M34 45h0M34 23h0M34 32h0M35 77h0M35 2h0M35 23h0M35 3h0M35 73h0M36 17h0M36 27h0M36 39h0M36 75h0M36 26h0M36 3h0M37 32h0M37 10h0M37 44h0M37 6h0M38 64h0M38 24h0M38 7h0M38 69h0M38 69h0M39 4h0M39 64h0M39 55h0M39 5h0M40 17h0M40 23h0M40 54h0M40 31h0M40 74h0M40 36h0M41 67h0M41 25h0M41 13h0M41 20h0M41 32h0M42 30h0M42 9h0M42 36h0M42 30h0M42 17h0M43 78h0M43 49h0M43 25h0M43 27h0M43 54h0M44 64h0M44 74h0M44 61h0M44 18h0M44 39h0M45 39h0M45 26h0M45 20h0M45 12h0M45 52h0M46 53h0M46 48h0M46 22h0M47 47h0M46 70h0M47 11h0M47 76h0M47 8h0M47 39h0M48 64h0M47 65h0M48 4h0M48 7h0M48 64h0M48 28h0M49 4h0M49 8h0M49 76h0M49 50h0M49 16h0M50 3h0M50 61h0M50 13h0M50 70h0M51 64h0M51 21h0M51 17h0M51 75h0M51 3h0M52 9h0M52 3h0M52 46h0M52 35h0M52 20h0M53 38h0M53 5h0M53 56h0M53 62h0M53 46h0M54 70h0M54 40h0M54 66h0M54 37h0M54 73h0M54 55h0M55 16h0M55 23h0M55 60h0M55 3h0M55 2h0M56 14h0M56 38h0M56 43h0M57 4h0M56 14h0M57 12h0M57 37h0M57 60h0M57 63h0M58 38h0M58 44h0M58 76h0M58 6h0M58 29h0M58 18h0M59 60h0M59 44h0M59 43h0M59 42h0M60 66h0M60 53h0M60 69h0M60 4h0M60 19h0M60 4h0M61 77h0M61 3h0M61 44h0M61 72h0M61 19h0M62 59h0M62 66h0M62 32h0M62 27h0M63 19h0M63 68h0M63 6h0M63 5h0M63 67h0M64 51h0M64 63h0M64 34h0M64 8h0M64 73h0M65 64h0M65 61h0M65 58h0M65 50h0M65 41h0M66 28h0M66 64h0M66 13h0M67 15h0M66 48h0M67 4h0M67 72h0M67 20h0M67 22h0M67 63h0M68 44h0M68 44h0M68 22h0M68 15h0M68 32h0M69 51h0M69 72h0M69 53h0M69 31h0M69 60h0M70 55h0M70 26h0M70 29h0M70 24h0M70 77h0M70 47h0M71 30h0M71 31h0M71 13h0M71 37h0"/>
<path transform="translate(828.5 441.5)" d="M0 28h0M0 26h0M1 55h0M1 61h0M1 3h0M1 10h0M1 24h0M2 53h0M2 7h0M2 60h0M2 75h0M2 10h0M2 72h0M3 42h0M3 4h0M3 44h0M4 78h0M4 2h0M4 15h0M4 40h0M4 7h0M4 66h0M5 12h0M5 10h0M5 9h0M5 40h0M5 74h0M6 69h0M6 12h0M6 79h0M6 75h0M6 20h0M7 32h0M7 47h0M7 24h0M7 60h0M7 22h0M8 36h0M8 47h0M8 3h0M8 64h0M8 55h0M9 57h0M9 42h0M9 4h0M9 31h0M10 59h0M10 34h0M10 25h0M10 2h0M10 65h0M11 35h0M11 1h0M11 34h0M11 54h0M11 78h0M12 10h0M12 18h0M12 50h0M12 19h0M12 31h0M13 61h0M13 42h0M13 59h0M13 48h0M13 29h0M13 53h0M14 24h0M14 69h0M14 0h0M14 6h0M15 36h0M15 40h0M15 18h0M15 47h0M15 37h0M15 26h0M16 2h0M16 13h0M16 5h0M16 14h0M16 27h0M17 18h0M17 78h0M17 26h0M17 2h0M17 35h0M18 47h0M18 75h0M18 42h0M18 4h0M19 2h0M19 47h0M19 65h0M19 45h0M19 22h0M19 51h0M20 31h0M20 5h0M20 13h0M20 10h0M21 25h0M21 37h0M21 34h0M21 71h0M21 54h0M22 6h0M22 62h0M22 41h0M22 23h0M22 27h0M23 36h0M23 51h0M23 25h0M23 79h0M23 36h0M24 36h0M24 50h0M24 77h0M24 33h0M24 31h0M25 64h0M25 67h0M25 66h0M25 3h0M25 48h0M26 62h0M26 56h0M26 60h0M26 22h0M26 49h0M27 0h0M27 70h0M27 33h0M27 28h0M27 26h0M28 7h0M28 49h0M28 67h0M28 36h0M28 7h0M28 46h0M29 49h0M29 28h0M29 75h0M29 32h0M29 36h0M30 14h0M30 56h0M30 16h0M30 8h0M31 18h0M31 78h0M31 23h0M31 38h0M31 51h0M31 56h0M32 54h0M32 30h0M32 4h0M32 70h0M33 51h0M33 8h0M33 35h0M33 71h0M34 26h0M34 8h0M34 33h0M34 74h0M34 26h0M35 63h0M34 9h0M35 16h0M35 33h0M35 39h0M35 28h0M36 33h0M36 44h0M36 35h0M36 1h0M37 26h0M37 18h0M37 78h0M37 36h0M37 23h0M37 48h0M38 19h0M38 51h0M38 50h0M38 24h0M38 58h0M39 4h0M39 19h0M39 15h0M39 38h0M40 44h0M40 44h0M40 51h0M40 12h0M41 9h0M40 6h0M41 66h0M41 61h0M41 6h0M41 36h0M42 17h0M42 29h0M42 24h0M42 74h0M42 26h0M42 78h0M43 70h0M43 19h0M43 17h0M43 26h0M44 22h0M44 57h0M44 4h0M44 26h0M44 52h0M44 59h0M45 34h0M45 53h0M45 7h0M45 53h0M45 67h0M46 10h0M46 51h0M46 17h0M46 33h0M47 67h0M47 54h0M47 70h0M47 5h0M47 74h0M48 41h0M48 53h0M48 33h0M48 18h0M48 65h0M48 68h0M49 33h0M49 53h0M49 52h0M49 22h0M49 79h0M50 34h0M50 71h0M50 50h0M50 25h0M51 61h0M51 32h0M51 4h0M51 17h0M51 3h0M52 66h0M52 9h0M52 33h0M52 42h0M52 3h0M52 73h0M53 68h0M53 75h0M53 31h0M53 58h0M54 72h0M54 38h0M54 27h0M54 52h0M54 13h0M55 44h0M55 55h0M55 62h0M55 56h0M55 1h0M56 76h0M56 26h0M56 50h0M56 23h0M56 38h0M57 41h0M57 41h0M57 65h0M57 72h0M57 76h0M57 70h0M58 71h0M58 21h0M58 69h0M58 36h0M59 31h0M59 22h0M59 34h0M59 3h0M59 28h0M60 71h0M60 60h0M60 39h0M60 55h0M60 34h0M60 17h0M61 34h0M61 44h0M61 70h0M61 5h0M62 27h0M62 20h0M62 3h0M62 9h0M62 30h0M63 1h0M63 29h0M63 15h0M63 69h0M63 69h0M64 13h0M64 63h0M64 61h0M64 22h0M65 32h0M65 6h0M65 31h0M65 60h0M65 10h0M65 17h0M66 72h0M66 9h0M66 36h0M66 35h0M66 51h0M67 48h0M67 22h0M67 74h0M67 54h0M68 64h0M68 10h0M68 31h0M68 69h0M68 47h0M69 1h0M69 28h0M69 6h0M69 22h0M69 47h0M69 18h0M70 7h0M70 24h0M70 12h0M70 33h0M71 57h0M71 67h0M71 9h0M71 32h0M71 21h0M71 24h0"/>
<path transform="translate(922.5 441.5)" d="M0 59h0M0 56h0M1 38h0M1 48h0M1 45h0M1 68h0M2 8h0M2 32h0M2 15h0M2 38h0M2 78h0M2 16h0M3 3h0M3 25h0M3 35h0M3 68h0M3 18h0M4 43h0M4 64h0M4 15h0M4 75h0M4 26h0M5 72h0M5 47h0M5 65h0M5 73h0M5 55h0M6 62h0M6 39h0M6 66h0M6 17h0M7 2h0M7 0h0M7 13h0M7 27h0M7 5h0M8 11h0M8 40h0M8 6h0M8 55h0M8 13h0M9 30h0M9 1h0M9 68h0M9 28h0M9 6h0M9 19h0M10 8h0M10 33h0M10 22h0M10 33h0M10 78h0M11 4h0M11 31h0M11 77h0M11 29h0M12 73h0M12 35h0M12 48h0M12 51h0M12 1h0M13 40h0M13 14h0M13 45h0M13 45h0M13 64h0M13 32h0M14 6h0M14 57h0M14 51h0M14 34h0M15 46h0M14 79h0M15 9h0M15 9h0M15 15h0M15 52h0M16 52h0M16 5h0M16 1h0M16 53h0M16 44h0M17 70h0M17 9h0M17 47h0M17 21h0M17 20h0M18 5h0M18 31h0M18 9h0M18 5h0M19 65h0M19 4h0M19 47h0M19 68h0M19 70h0M20 36h0M20 68h0M20 53h0M20 37h0M20 37h0M20 50h0M21 28h0M21 0h0M21 13h0M21 38h0M22 21h0M22 17h0M22 54h0M22 66h0M22 13h0M22 63h0M23 67h0M23 45h0M23 67h0M23 15h0M24 41h0M24 76h0M24 20h0M24 53h0M24 20h0M25 62h0M25 48h0M25 38h0M25 7h0M25 28h0M25 55h0M26 43h0M26 37h0M26 27h0M27 76h0M27 11h0M27 40h0M27 47h0M27 66h0M28 18h0M28 28h0M28 50h0M28 11h0M28 43h0M28 1h0M29 18h0M29 74h0M29 25h0M29 53h0M29 6h0M30 23h0M30 0h0M30 67h0M30 49h0M30 56h0M31 55h0M31 44h0M31 10h0M31 13h0M31 6h0M32 67h0M32 74h0M32 70h0M32 63h0M32 34h0M33 11h0M33 17h0M33 43h0M33 27h0M33 8h0M34 9h0M34 70h0M34 2h0M34 59h0M34 15h0M35 10h0M35 73h0M35 3h0M35 12h0M35 30h0M36 15h0M36 14h0M36 10h0M36 31h0M36 0h0M37 41h0M37 71h0M37 78h0M37 0h0M37 31h0M38 57h0M38 31h0M38 64h0M38 7h0M38 19h0M39 11h0M39 11h0M39 29h0M39 11h0M40 43h0M40 7h0M40 32h0M40 51h0M40 2h0M40 78h0M41 6h0M41 16h0M41 29h0M41 30h0M41 61h0M41 58h0M42 62h0M42 64h0M42 54h0M42 29h0M43 13h0M43 19h0M43 34h0M43 19h0M43 71h0M44 50h0M44 59h0M44 66h0M44 77h0M44 13h0M45 51h0M45 52h0M45 18h0M45 12h0M46 41h0M46 2h0M46 69h0M46 8h0M46 61h0M47 45h0M47 43h0M47 75h0M47 31h0M47 59h0M48 45h0M48 49h0M48 42h0M48 70h0M48 39h0M49 61h0M49 11h0M49 10h0M49 44h0M49 36h0M50 56h0M50 24h0M50 0h0M50 63h0M51 15h0M51 17h0M51 5h0M51 2h0M51 77h0M51 6h0M51 71h0M52 38h0M52 76h0M52 14h0M52 1h0M53 41h0M53 73h0M53 42h0M53 10h0M53 57h0M54 46h0M54 30h0M54 10h0M54 23h0M54 75h0M55 23h0M55 5h0M55 54h0M55 33h0M55 14h0M56 45h0M56 38h0M56 37h0M56 73h0M56 71h0M57 42h0M57 78h0M57 75h0M57 55h0M57 9h0M58 70h0M58 7h0M58 66h0M58 9h0M58 72h0M59 24h0M59 10h0M59 3h0M59 66h0M59 29h0M60 18h0M60 62h0M60 39h0M60 41h0M60 78h0M61 20h0M61 20h0M61 60h0M61 74h0M61 2h0M62 60h0M62 39h0M62 2h0M62 49h0M62 17h0M63 4h0M63 54h0M63 75h0M63 39h0M63 10h0M64 20h0M64 75h0M64 25h0M64 7h0M65 13h0M65 43h0M65 58h0M65 53h0M65 45h0M65 45h0M66 35h0M66 47h0M66 21h0M66 52h0M67 56h0M67 47h0M67 27h0M67 48h0M67 69h0M67 34h0M68 12h0M68 43h0M68 14h0M68 10h0M68 10h0M69 14h0M69 36h0M69 10h0M69 15h0M70 67h0M70 10h0M70 47h0M70 54h0M70 52h0M70 38h0M71 14h0M71 52h0M71 61h0M71 64h0M72 75h0"/>
<path transform="translate(1016.5 441.5)" d="M0 36h0M0 55h0M1 13h0M1 76h0M1 51h0M2 60h0M2 60h0M2 17h0M2 12h0M2 4h0M2 22h0M2 3h0M3 17h0M3 32h0M3 57h0M3 18h0M4 22h0M4 6h0M4 58h0M4 1h0M4 54h0M5 65h0M5 4h0M5 8h0M5 21h0M5 67h0M5 52h0M6 10h0M6 7h0M6 6h0M6 20h0M7 61h0M7 36h0M7 20h0M7 14h0M7 46h0M8 29h0M8 41h0M8 3h0M8 74h0M8 18h0M8 67h0M9 75h0M9 76h0M9 38h0M9 49h0M10 24h0M10 5h0M10 11h0M10 31h0M10 43h0M11 64h0M11 39h0M11 34h0M11 25h0M11 41h0M12 3h0M12 19h0M12 5h0M12 57h0M12 19h0M13 23h0M13 2h0M13 63h0M13 11h0M13 71h0M14 18h0M14 52h0M14 74h0M14 64h0M14 9h0M15 49h0M15 6h0M15 60h0M15 75h0M15 48h0M16 40h0M16 5h0M16 1h0M16 71h0M16 69h0M17 63h0M17 38h0M17 29h0M17 70h0M17 4h0M18 3h0M18 54h0M18 19h0M18 58h0M18 8h0M19 28h0M19 28h0M19 27h0M19 66h0M19 19h0M20 58h0M20 35h0M20 49h0M20 11h0M20 18h0M21 44h0M21 23h0M21 30h0M21 59h0M21 75h0M22 51h0M22 58h0M22 17h0M22 33h0M22 34h0M23 10h0M23 65h0M23 41h0M23 66h0M23 34h0M24 24h0M24 11h0M24 8h0M24 42h0M24 35h0M24 56h0M25 4h0M25 13h0M25 4h0M25 37h0M26 71h0M26 55h0M26 3h0M26 78h0M26 44h0M27 77h0M27 66h0M27 71h0M27 5h0M27 34h0M28 33h0M28 36h0M28 48h0M28 49h0M28 65h0M29 73h0M29 75h0M29 35h0M29 57h0M30 61h0M30 30h0M30 28h0M30 20h0M30 0h0M30 59h0M31 62h0M31 55h0M31 36h0M31 34h0M31 43h0M32 52h0M32 40h0M32 45h0M32 12h0M32 71h0M33 19h0M33 50h0M33 20h0M33 7h0M34 12h0M34 65h0M34 44h0M34 22h0M34 7h0M34 69h0M35 35h0M35 18h0M35 75h0M35 1h0M36 42h0M36 8h0M36 69h0M36 44h0M36 35h0M37 10h0M37 64h0M37 10h0M37 51h0M37 24h0M37 58h0M38 18h0M38 72h0M38 10h0M39 57h0M39 5h0M39 30h0M39 6h0M39 20h0M39 43h0M39 9h0M40 71h0M40 17h0M40 54h0M40 52h0M41 60h0M41 62h0M41 18h0M41 12h0M41 72h0M42 25h0M42 6h0M42 63h0M42 50h0M42 66h0M43 43h0M43 10h0M43 43h0M43 50h0M43 48h0M44 5h0M44 15h0M44 69h0M44 34h0M44 33h0M44 7h0M45 32h0M45 25h0M45 76h0M45 4h0M46 59h0M46 3h0M46 9h0M46 28h0M46 28h0M47 41h0M47 36h0M47 38h0M47 28h0M47 70h0M48 67h0M48 43h0M48 71h0M48 19h0M48 56h0M49 13h0M49 15h0M49 13h0M49 12h0M49 24h0M50 8h0M50 37h0M50 50h0M50 59h0M50 30h0M51 35h0M51 67h0M51 24h0M51 69h0M51 0h0M52 61h0M52 49h0M52 31h0M52 30h0M52 42h0M53 38h0M53 47h0M53 18h0M53 21h0M53 48h0M54 43h0M54 56h0M54 58h0M54 71h0M54 11h0M55 37h0M55 9h0M55 57h0M55 75h0M55 74h0M56 31h0M56 46h0M56 70h0M56 7h0M57 47h0M57 70h0M57 22h0M57 54h0M57 45h0M58 7h0M58 18h0M58 22h0M58 6h0M58 76h0M59 19h0M59 45h0M59 45h0M59 48h0M59 59h0M59 45h0M60 11h0M60 37h0M60 6h0M60 34h0M60 9h0M61 7h0M61 53h0M61 50h0M61 12h0M61 1h0M61 73h0M62 20h0M62 60h0M62 57h0M63 65h0M63 25h0M63 43h0M63 52h0M63 7h0M63 54h0M64 57h0M64 78h0M64 50h0M64 26h0M65 23h0M65 63h0M65 1h0M65 42h0M65 64h0M65 40h0M66 76h0M66 78h0M66 63h0M66 15h0M67 11h0M67 10h0M67 46h0M67 12h0M67 18h0M68 59h0M68 67h0M68 38h0M68 30h0M68 51h0M68 63h0M69 71h0M69 65h0M69 30h0M69 6h0M70 66h0M70 49h0M70 61h0M70 65h0M70 31h0M71 15h0M71 27h0M71 63h0M71 6h0M71 49h0M72 20h0"/>
<path transform="translate(1110.5 441.5)" d="M0 0h0M1 41h0M1 53h0M1 2h0M1 23h0M1 76h0M2 15h0M2 56h0M2 46h0M2 76h0M2 11h0M3 78h0M3 5h0M3 46h0M3 49h0M3 71h0M4 41h0M4 78h0M4 5h0M4 54h0M4 46h0M4 40h0M5 55h0M5 19h0M5 42h0M5 52h0M6 25h0M6 38h0M6 29h0M6 62h0M6 5h0M7 60h0M7 2h0M7 21h0M7 14h0M7 24h0M8 38h0M8 14h0M8 67h0M8 78h0M9 42h0M9 48h0M9 21h0M9 68h0M9 49h0M10 10h0M10 11h0M10 68h0M10 25h0M10 71h0M10 45h0M11 35h0M11 5h0M11 74h0M11 15h0M11 13h0M12 14h0M12 5h0M12 63h0M12 38h0M12 3h0M13 23h0M13 15h0M13 11h0M13 71h0M13 14h0M14 75h0M14 58h0M14 23h0M14 70h0M14 53h0M15 35h0M15 36h0M15 13h0M15 18h0M15 76h0M16 4h0M16 1h0M16 19h0M16 28h0M17 65h0M17 64h0M17 41h0M17 69h0M17 34h0M18 12h0M18 40h0M18 33h0M18 9h0M18 59h0M18 78h0M19 30h0M19 35h0M19 39h0M19 19h0M19 63h0M20 70h0M20 18h0M20 6h0M20 39h0M21 78h0M21 24h0M21 5h0M21 31h0M21 47h0M21 59h0M22 21h0M22 38h0M22 44h0M22 70h0M23 7h0M23 78h0M23 3h0M23 13h0M23 63h0M24 34h0M24 61h0M24 46h0M24 15h0M24 1h0M25 45h0M25 48h0M25 33h0M25 13h0M25 55h0M26 4h0M26 19h0M26 72h0M26 13h0M26 17h0M27 71h0M27 69h0M27 73h0M27 62h0M27 28h0M27 18h0M28 15h0M28 24h0M28 5h0M28 18h0M28 36h0M29 21h0M29 35h0M29 57h0M29 68h0M30 72h0M30 22h0M30 34h0M30 44h0M30 5h0M30 71h0M31 27h0M31 78h0M31 52h0M31 11h0M32 59h0M32 19h0M32 45h0M32 76h0M32 32h0M33 0h0M33 56h0M33 18h0M33 49h0M33 4h0M34 47h0M34 68h0M34 19h0M34 22h0M34 17h0M35 13h0M35 59h0M35 67h0M35 71h0M35 25h0M35 63h0M36 46h0M36 76h0M36 63h0M36 34h0M37 51h0M37 23h0M37 29h0M37 46h0M37 62h0M38 0h0M38 1h0M38 23h0M38 22h0M39 1h0M39 63h0M39 19h0M39 2h0M39 4h0M39 31h0M40 20h0M40 39h0M40 3h0M40 28h0M40 41h0M41 60h0M41 15h0M41 40h0M41 39h0M41 37h0M41 7h0M42 27h0M42 55h0M42 22h0M42 65h0M43 15h0M43 30h0M43 15h0M43 8h0M43 49h0M44 70h0M44 20h0M44 24h0M44 76h0M44 15h0M45 62h0M45 13h0M45 35h0M45 42h0M46 61h0M46 74h0M46 28h0M46 6h0M46 36h0M46 59h0M46 4h0M47 57h0M47 64h0M47 31h0M47 69h0M48 17h0M48 7h0M48 19h0M48 29h0M48 6h0M49 19h0M49 24h0M49 53h0M49 60h0M49 23h0M50 21h0M50 39h0M50 50h0M50 59h0M51 20h0M51 35h0M51 64h0M51 26h0M51 33h0M51 6h0M52 10h0M52 74h0M52 18h0M52 37h0M53 64h0M53 18h0M53 42h0M53 21h0M53 39h0M54 64h0M54 65h0M54 0h0M54 26h0M54 47h0M54 77h0M55 66h0M55 43h0M55 18h0M55 58h0M56 19h0M56 39h0M56 22h0M56 46h0M56 29h0M57 17h0M57 33h0M57 46h0M57 23h0M57 11h0M58 78h0M58 1h0M58 18h0M58 1h0M58 21h0M59 26h0M59 6h0M59 38h0M59 21h0M59 35h0M60 43h0M60 65h0M60 42h0M60 60h0M60 36h0M60 60h0M61 10h0M61 55h0M61 62h0M61 8h0M61 62h0M62 17h0M62 20h0M62 42h0M62 26h0M62 41h0M63 73h0M63 42h0M63 63h0M63 62h0M64 23h0M64 79h0M64 0h0M64 11h0M65 29h0M65 64h0M65 28h0M65 65h0M65 35h0M65 19h0M66 57h0M66 25h0M66 20h0M66 45h0M66 56h0M67 32h0M67 30h0M67 47h0M67 28h0M67 19h0M68 8h0M68 29h0M68 70h0M68 41h0M69 75h0M69 27h0M69 63h0M69 78h0M69 22h0M69 17h0M70 0h0M70 28h0M70 31h0M70 17h0M70 72h0M71 48h0M71 78h0M71 29h0M71 67h0M71 62h0M72 61h0"/>
<path transform="translate(1204.5 441.5)" d="M0 6h0M0 62h0M1 51h0M1 4h0M1 53h0M1 74h0M2 30h0M2 42h0M2 54h0M2 18h0M2 75h0M3 21h0M3 30h0M3 45h0M3 2h0M3 24h0M4 17h0M4 15h0M4 42h0M4 57h0M4 7h0M5 32h0M5 52h0M5 66h0M5 7h0M5 22h0M5 65h0M6 41h0M6 7h0M6 29h0M6 51h0M7 30h0M7 48h0M7 66h0M7 52h0M7 36h0M8 3h0M8 13h0M8 19h0M8 68h0M8 19h0M9 45h0M9 66h0M9 78h0M9 50h0M9 39h0M10 4h0M10 33h0M10 62h0M10 22h0M10 6h0M11 76h0M11 1h0M11 31h0M11 6h0M11 45h0M12 43h0M12 47h0M12 10h0M12 59h0M12 72h0M13 25h0M13 13h0M13 31h0M13 34h0M13 69h0M14 4h0M14 57h0M14 76h0M14 77h0M14 43h0M15 55h0M15 36h0M15 73h0M15 28h0M15 56h0M16 5h0M16 77h0M16 68h0M16 26h0M17 59h0M17 50h0M17 12h0M17 67h0M17 54h0M17 10h0M18 77h0M18 70h0M18 40h0M18 48h0M19 13h0M19 44h0M19 68h0M19 60h0M19 24h0M20 39h0M20 5h0M20 48h0M20 32h0M20 48h0M21 21h0M21 37h0M21 23h0M21 64h0M21 12h0M22 30h0M22 31h0M22 43h0M22 68h0M22 75h0M22 38h0M23 22h0M23 52h0M23 52h0M23 9h0M24 57h0M24 16h0M24 1h0M24 62h0M24 73h0M25 33h0M25 25h0M25 43h0M25 10h0M25 8h0M26 56h0M26 75h0M26 19h0M26 59h0M26 30h0M27 36h0M27 71h0M27 8h0M27 8h0M28 45h0M28 10h0M28 48h0M28 73h0M28 11h0M28 54h0M29 49h0M29 43h0M29 69h0M29 40h0M29 7h0M30 15h0M30 76h0M30 31h0M30 26h0M30 60h0M31 63h0M31 45h0M31 12h0M31 71h0M32 20h0M32 42h0M32 53h0M32 9h0M32 70h0M32 54h0M32 21h0M33 61h0M33 5h0M33 23h0M33 33h0M34 70h0M34 2h0M34 13h0M34 25h0M34 45h0M34 42h0M35 19h0M35 47h0M35 23h0M35 47h0M36 55h0M36 33h0M36 36h0M36 63h0M36 77h0M37 32h0M37 20h0M37 12h0M37 10h0M38 12h0M38 69h0M38 49h0M38 8h0M38 16h0M38 39h0M39 18h0M39 34h0M39 49h0M39 64h0M39 37h0M40 68h0M40 54h0M40 77h0M40 34h0M41 40h0M41 2h0M41 72h0M41 37h0M41 78h0M41 75h0M42 77h0M42 67h0M42 3h0M42 71h0M42 8h0M43 54h0M43 40h0M43 56h0M43 59h0M43 9h0M44 26h0M44 25h0M44 47h0M44 27h0M44 39h0M45 57h0M45 50h0M45 23h0M45 63h0M46 31h0M46 30h0M46 6h0M46 68h0M46 9h0M47 8h0M47 78h0M47 32h0M47 2h0M47 27h0M48 48h0M48 79h0M48 44h0M48 24h0M48 31h0M48 63h0M49 20h0M49 4h0M49 37h0M49 60h0M50 67h0M50 76h0M50 43h0M50 16h0M50 7h0M51 56h0M51 4h0M51 6h0M51 43h0M51 77h0M51 14h0M52 74h0M52 57h0M52 75h0M52 43h0M53 63h0M53 32h0M53 29h0M53 15h0M53 26h0M54 40h0M54 46h0M54 64h0M54 22h0M54 59h0M55 36h0M55 28h0M55 66h0M55 33h0M55 62h0M55 49h0M56 40h0M56 41h0M56 53h0M56 18h0M57 26h0M57 33h0M57 63h0M57 60h0M57 63h0M58 42h0M58 68h0M58 73h0M58 10h0M58 35h0M59 11h0M59 60h0M59 38h0M59 58h0M59 66h0M59 43h0M60 71h0M60 8h0M60 55h0M60 41h0M61 45h0M61 64h0M61 0h0M61 4h0M61 15h0M62 3h0M62 79h0M62 19h0M62 77h0M62 12h0M62 66h0M63 69h0M63 45h0M63 22h0M63 6h0M64 37h0M64 37h0M64 78h0M64 58h0M64 43h0M65 54h0M65 39h0M65 53h0M65 64h0M65 75h0M66 34h0M66 71h0M66 70h0M66 54h0M66 16h0M67 22h0M67 66h0M67 19h0M67 42h0M68 46h0M68 77h0M68 58h0M68 29h0M68 46h0M68 51h0M69 34h0M69 41h0M69 62h0M69 54h0M69 53h0M70 33h0M70 71h0M70 71h0M70 59h0M70 67h0M71 59h0M71 40h0M71 12h0M71 57h0M71 3h0M72 27h0"/>
</g>
<path fill="none" stroke="#000" stroke-width="1.111" stroke-linejoin="miter" d="M73.5 69.5H151.5V169.5H73.5ZM167.5 69.5H245.5V169.5H167.5ZM261.5 69.5H339.5V169.5H261.5ZM355.5 69.5H433.5V169.5H355.5ZM449.5 69.5H527.5V169.5H449.5ZM543.5 69.5H621.5V169.5H543.5ZM637.5 69.5H715.5V169.5H637.5ZM731.5 69.5H809.5V169.5H731.5ZM825.5 69.5H904.5V169.5H825.5ZM919.5 69.5H998.5V169.5H919.5ZM1013.5 69.5H1092.5V169.5H1013.5ZM1107.5 69.5H1186.5V169.5H1107.5ZM1201.5 69.5H1280.5V169.5H1201.5ZM1295.5 69.5H1374.5V169.5H1295.5ZM1389.5 69.5H1468.5V169.5H1389.5ZM73.5 190.5H151.5V290.5H73.5ZM167.5 190.5H245.5V290.5H167.5ZM261.5 190.5H339.5V290.5H261.5ZM355.5 190.5H433.5V290.5H355.5ZM449.5 190.5H527.5V290.5H449.5ZM543.5 190.5H621.5V290.5H543.5ZM637.5 190.5H715.5V290.5H637.5ZM731.5 190.5H809.5V290.5H731.5ZM825.5 190.5H904.5V290.5H825.5ZM919.5 190.5H998.5V290.5H919.5ZM1013.5 190.5H1092.5V290.5H1013.5ZM1107.5 190.5H1186.5V290.5H1107.5ZM1201.5 190.5H1280.5V290.5H1201.5ZM1295.5 190.5H1374.5V290.5H1295.5ZM1389.5 190.5H1468.5V290.5H1389.5ZM73.5 310.5H151.5V410.5H73.5ZM167.5 310.5H245.5V410.5H167.5ZM261.5 310.5H339.5V410.5H261.5ZM355.5 310.5H433.5V410.5H355.5ZM449.5 310.5H527.5V410.5H449.5ZM543.5 310.5H621.5V410.5H543.5ZM637.5 310.5H715.5V410.5H637.5ZM731.5 310.5H809.5V410.5H731.5ZM825.5 310.5H904.5V410.5H825.5ZM919.5 310.5H998.5V410.5H919.5ZM1013.5 310.5H1092.5V410.5H1013.5ZM1107.5 310.5H1186.5V410.5H1107.5ZM1201.5 310.5H1280.5V410.5H1201.5ZM1295.5 310.5H1374.5V410.5H1295.5ZM1389.5 310.5H1468.5V410.5H1389.5ZM73.5 431.5H151.5V531.5H73.5ZM167.5 431.5H245.5V531.5H167.5ZM261.5 431.5H339.5V531.5H261.5ZM355.5 431.5H433.5V531.5H355.5ZM449.5 431.5H527.5V531.5H449.5ZM543.5 431.5H621.5V531.5H543.5ZM637.5 431.5H715.5V531.5H637.5ZM731.5 431.5H809.5V531.5H731.5ZM825.5 431.5H904.5V531.5H825.5ZM919.5 431.5H998.5V531.5H919.5ZM1013.5 431.5H1092.5V531.5H1013.5ZM1107.5 431.5H1186.5V531.5H1107.5ZM1201.5 431.5H1280.5V531.5H1201.5ZM1295.5 431.5H1374.5V531.5H1295.5ZM1389.5 431.5H1468.5V531.5H1389.5Z"/>
<path fill="none" stroke="#000" stroke-width="1.111" d="M68.5 88.5H73M68.5 119.5H73M68.5 151.5H73M68.5 208.5H73M68.5 240.5H73M68.5 271.5H73M68.5 329.5H73M68.5 360.5H73M68.5 392.5H73M68.5 449.5H73M68.5 481.5H73M68.5 512.5H73M86.5 531V536.5M109.5 531V536.5M133.5 531V536.5M180.5 531V536.5M204.5 531V536.5M227.5 531V536.5M264.5 531V536.5M300.5 531V536.5M336.5 531V536.5M368.5 531V536.5M392.5 531V536.5M415.5 531V536.5M462.5 531V536.5M486.5 531V536.5M509.5 531V536.5M556.5 531V536.5M580.5 531V536.5M603.5 531V536.5M650.5 531V536.5M674.5 531V536.5M697.5 531V536.5M744.5 531V536.5M768.5 531V536.5M792.5 531V536.5M838.5 531V536.5M862.5 531V536.5M886.5 531V536.5M932.5 531V536.5M956.5 531V536.5M980.5 531V536.5M1026.5 531V536.5M1050.5 531V536.5M1074.5 531V536.5M1120.5 531V536.5M1144.5 531V536.5M1168.5 531V536.5M1214.5 531V536.5M1238.5 531V536.5M1262.5 531V536.5M1299.5 531V536.5M1335.5 531V536.5M1370.5 531V536.5M1393.5 531V536.5M1429.5 531V536.5M1464.5 531V536.5"/>
<text x="62.92" y="157.28" font-size="13.89" text-anchor="end">−2.5</text>
<text x="62.92" y="125.89" font-size="13.89" text-anchor="end">0.0</text>
<text x="62.92" y="94.51" font-size="13.89" text-anchor="end">2.5</text>
<text x="19.75" y="121.02" font-size="13.89" text-anchor="middle" transform="rotate(-90 19.75 121.02)">XX Phase</text>
<text x="111.93" y="61.97" font-size="16.67" text-anchor="middle">antenna 1</text>
<text x="205.98" y="61.97" font-size="16.67" text-anchor="middle">antenna 2</text>
<text x="300.02" y="61.97" font-size="16.67" text-anchor="middle">antenna 3</text>
<text x="394.07" y="61.97" font-size="16.67" text-anchor="middle">antenna 4</text>
<text x="488.11" y="61.97" font-size="16.67" text-anchor="middle">antenna 5</text>
<text x="582.16" y="61.97" font-size="16.67" text-anchor="middle">antenna 6</text>
<text x="676.20" y="61.97" font-size="16.67" text-anchor="middle">antenna 7</text>
<text x="770.25" y="61.97" font-size="16.67" text-anchor="middle">antenna 8</text>
<text x="864.29" y="61.97" font-size="16.67" text-anchor="middle">antenna 9</text>
<text x="958.34" y="61.97" font-size="16.67" text-anchor="middle">antenna 10</text>
<text x="1052.38" y="61.97" font-size="16.67" text-anchor="middle">antenna 11</text>
<text x="1146.43" y="61.97" font-size="16.67" text-anchor="middle">antenna 12</text>
<text x="1240.47" y="61.97" font-size="16.67" text-anchor="middle">antenna 13</text>
<text x="1334.52" y="61.97" font-size="16.67" text-anchor="middle">antenna 14</text>
<text x="1428.56" y="61.97" font-size="16.67" text-anchor="middle">antenna 15</text>
<text x="62.92" y="277.80" font-size="13.89" text-anchor="end">−2.5</text>
<text x="62.92" y="246.42" font-size="13.89" text-anchor="end">0.0</text>
<text x="62.92" y="215.03" font-size="13.89" text-anchor="end">2.5</text>
<text x="19.75" y="241.54" font-size="13.89" text-anchor="middle" transform="rotate(-90 19.75 241.54)">YY Phase</text>
<text x="62.92" y="398.32" font-size="13.89" text-anchor="end">−2.5</text>
<text x="62.92" y="366.94" font-size="13.89" text-anchor="end">0.0</text>
<text x="62.92" y="335.55" font-size="13.89" text-anchor="end">2.5</text>
<text x="19.75" y="362.06" font-size="13.89" text-anchor="middle" transform="rotate(-90 19.75 362.06)">XY Phase</text>
<text x="84.96" y="553.13" font-size="13.89" text-anchor="middle">5.00</text>
<text x="108.70" y="553.13" font-size="13.89" text-anchor="middle">10.00</text>
<text x="132.43" y="553.13" font-size="13.89" text-anchor="middle">15.00</text>
<text x="62.92" y="518.85" font-size="13.89" text-anchor="end">−2.5</text>
<text x="62.92" y="487.46" font-size="13.89" text-anchor="end">0.0</text>
<text x="62.92" y="456.07" font-size="13.89" text-anchor="end">2.5</text>
<text x="19.75" y="482.58" font-size="13.89" text-anchor="middle" transform="rotate(-90 19.75 482.58)">YX Phase</text>
<text x="179.01" y="553.13" font-size="13.89" text-anchor="middle">5.00</text>
<text x="202.74" y="553.13" font-size="13.89" text-anchor="middle">10.00</text>
<text x="226.48" y="553.13" font-size="13.89" text-anchor="middle">15.00</text>
<text x="263.66" y="553.13" font-size="13.89" text-anchor="middle">-0.05</text>
<text x="299.28" y="553.13" font-size="13.89" text-anchor="middle">0.00</text>
<text x="334.90" y="553.13" font-size="13.89" text-anchor="middle">0.05</text>
<text x="367.10" y="553.13" font-size="13.89" text-anchor="middle">5.00</text>
<text x="390.83" y="553.13" font-size="13.89" text-anchor="middle">10.00</text>
<text x="414.57" y="553.13" font-size="13.89" text-anchor="middle">15.00</text>
<text x="461.14" y="553.13" font-size="13.89" text-anchor="middle">5.00</text>
<text x="484.88" y="553.13" font-size="13.89" text-anchor="middle">10.00</text>
<text x="508.61" y="553.13" font-size="13.89" text-anchor="middle">15.00</text>
<text x="555.19" y="553.13" font-size="13.89" text-anchor="middle">5.00</text>
<text x="578.92" y="553.13" font-size="13.89" text-anchor="middle">10.00</text>
<text x="602.66" y="553.13" font-size="13.89" text-anchor="middle">15.00</text>
<text x="649.23" y="553.13" font-size="13.89" text-anchor="middle">5.00</text>
<text x="672.97" y="553.13" font-size="13.89" text-anchor="middle">10.00</text>
<text x="696.70" y="553.13" font-size="13.89" text-anchor="middle">15.00</text>
<text x="743.28" y="553.13" font-size="13.89" text-anchor="middle">5.00</text>
<text x="767.01" y="553.13" font-size="13.89" text-anchor="middle">10.00</text>
<text x="790.75" y="553.13" font-size="13.89" text-anchor="middle">15.00</text>
<text x="837.32" y="553.13" font-size="13.89" text-anchor="middle">5.00</text>
<text x="861.06" y="553.13" font-size="13.89" text-anchor="middle">10.00</text>
<text x="884.79" y="553.13" font-size="13.89" text-anchor="middle">15.00</text>
<text x="931.37" y="553.13" font-size="13.89" text-anchor="middle">5.00</text>
<text x="955.10" y="553.13" font-size="13.89" text-anchor="middle">10.00</text>
<text x="978.84" y="553.13" font-size="13.89" text-anchor="middle">15.00</text>
<text x="1025.41" y="553.13" font-size="13.89" text-anchor="middle">5.00</text>
<text x="1049.15" y="553.13" font-size="13.89" text-anchor="middle">10.00</text>
<text x="1072.88" y="553.13" font-size="13.89" text-anchor="middle">15.00</text>
<text x="1119.46" y="553.13" font-size="13.89" text-anchor="middle">5.00</text>
<text x="1143.19" y="553.13" font-size="13.89" text-anchor="middle">10.00</text>
<text x="1166.93" y="553.13" font-size="13.89" text-anchor="middle">15.00</text>
<text x="1213.50" y="553.13" font-size="13.89" text-anchor="middle">5.00</text>
<text x="1237.24" y="553.13" font-size="13.89" text-anchor="middle">10.00</text>
<text x="1260.97" y="553.13" font-size="13.89" text-anchor="middle">15.00</text>
<text x="1298.15" y="553.13" font-size="13.89" text-anchor="middle">-0.05</text>
<text x="1333.78" y="553.13" font-size="13.89" text-anchor="middle">0.00</text>
<text x="1369.40" y="553.13" font-size="13.89" text-anchor="middle">0.05</text>
<text x="1392.20" y="553.13" font-size="13.89" text-anchor="middle">-0.05</text>
<text x="1427.82" y="553.13" font-size="13.89" text-anchor="middle">0.00</text>
<text x="1463.44" y="553.13" font-size="13.89" text-anchor="middle">0.05</text>
<text x="746.95" y="23.46" font-size="16.67" text-anchor="middle">2253+161 2025-09-21 03:40:54 UT</text>
<text x="747.75" y="574.00" font-size="13.89" text-anchor="middle">Frequency[GHz]</text>
</svg></body></html>
